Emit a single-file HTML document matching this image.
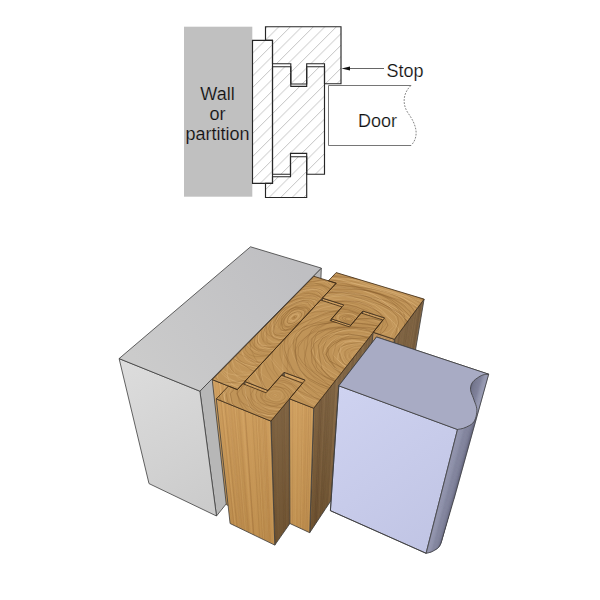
<!DOCTYPE html>
<html><head><meta charset="utf-8"><style>
html,body{margin:0;padding:0;background:#fff;width:600px;height:600px;overflow:hidden}
svg{display:block}
</style></head><body>
<svg width="600" height="600" viewBox="0 0 600 600">
<defs>
<linearGradient id="doorfront" gradientUnits="userSpaceOnUse" x1="340" y1="390" x2="450" y2="545"><stop offset="0" stop-color="#ced2f0"/><stop offset="1" stop-color="#c0c4e4"/></linearGradient>
<linearGradient id="walltop" gradientUnits="userSpaceOnUse" x1="300" y1="270" x2="150" y2="380"><stop offset="0" stop-color="#bfbfc2"/><stop offset="1" stop-color="#cbcbcb"/></linearGradient>
<linearGradient id="wallfront" gradientUnits="userSpaceOnUse" x1="125" y1="365" x2="210" y2="510"><stop offset="0" stop-color="#dcdcdc"/><stop offset="1" stop-color="#cbcbcb"/></linearGradient>
<linearGradient id="vshade" gradientUnits="userSpaceOnUse" x1="0" y1="380" x2="0" y2="550"><stop offset="0" stop-color="#fff" stop-opacity="0.08"/><stop offset="1" stop-color="#000" stop-opacity="0.08"/></linearGradient>
<clipPath id="cl_plank"><polygon points="313.9,276.3 336.2,283.2 237.3,389.6 212.2,379.6"/></clipPath><clipPath id="cl_stop"><polygon points="336.2,272.6 424.1,299.1 394.4,339.3 373.2,332.3 384.6,317.9 362.8,311.0 350.9,325.2 331.5,318.9 343.8,304.9 322.4,298.1 336.2,283.2 328.4,280.8"/></clipPath><clipPath id="cl_mb"><polygon points="320.6,300.0 342.0,306.9 330.1,320.5 349.5,326.9 361.1,313.0 382.9,320.0 313.7,408.2 289.5,398.8 305.1,380.1 284.0,372.3 268.0,390.5 244.8,381.5"/></clipPath><clipPath id="cl_bot"><polygon points="228.4,386.1 237.3,389.6 242.8,383.7 266.0,392.8 281.5,375.2 302.6,383.1 270.9,421.1 216.3,398.9"/></clipPath>
<pattern id="hatch" patternUnits="userSpaceOnUse" width="11.5" height="600" patternTransform="translate(316.5,0) skewX(-45)">
<line x1="0.6" y1="0" x2="0.6" y2="600" stroke="#cdcdcd" stroke-width="1.2"/>
</pattern>
</defs>
<rect width="600" height="600" fill="#fff"/>
<rect x="184" y="26.7" width="68.3" height="170" fill="#c0c0c0"/><polygon points="265.5,26.7 341.0,26.7 341.0,83.7 324.5,83.7 324.5,63.7 306.7,63.7 306.7,84.0 290.8,84.0 290.8,63.7 272.5,63.7 272.5,40.3 265.5,40.3" fill="url(#hatch)" stroke="#262626" stroke-width="1.15" stroke-linejoin="miter"/><polygon points="272.5,66.7 290.8,66.7 290.8,86.3 306.7,86.3 306.7,66.7 324.5,66.7 324.5,174.2 306.7,174.2 306.7,153.3 290.5,153.3 290.5,174.2 272.5,174.2" fill="url(#hatch)" stroke="#262626" stroke-width="1.15" stroke-linejoin="miter"/><polygon points="265.5,183.3 272.5,183.3 272.5,176.7 290.5,176.7 290.5,156.7 306.7,156.7 306.7,197.5 265.5,197.5" fill="url(#hatch)" stroke="#262626" stroke-width="1.15" stroke-linejoin="miter"/><polygon points="252.5,40.3 272.5,40.3 272.5,183.3 252.5,183.3" fill="url(#hatch)" stroke="#262626" stroke-width="1.15" stroke-linejoin="miter"/><polyline points="411,85.5 328.5,85.5 328.5,145.5 411,145.5" fill="none" stroke="#666" stroke-width="0.9"/><path d="M411,85.5 C403,93 402,104 408,113 C416,124 420,136 411,145.5" fill="none" stroke="#777" stroke-width="0.9" stroke-dasharray="1.8,1.3"/><line x1="348" y1="68.5" x2="384" y2="68.5" stroke="#555" stroke-width="0.9"/><polygon points="341.5,68.5 350,66.6 350,70.4" fill="#111"/><text x="386.5" y="77" style="font-family:&quot;Liberation Sans&quot;,sans-serif;font-size:18px;fill:#111;stroke:#fff;stroke-width:0.18">Stop</text><text x="358" y="127" style="font-family:&quot;Liberation Sans&quot;,sans-serif;font-size:18px;fill:#111;stroke:#fff;stroke-width:0.18">Door</text><text x="217.5" y="99.7" text-anchor="middle" style="font-family:&quot;Liberation Sans&quot;,sans-serif;font-size:18px;fill:#111;stroke:#c0c0c0;stroke-width:0.18">Wall</text><text x="217.5" y="119.7" text-anchor="middle" style="font-family:&quot;Liberation Sans&quot;,sans-serif;font-size:18px;fill:#111;stroke:#c0c0c0;stroke-width:0.18">or</text><text x="217.5" y="139.5" text-anchor="middle" style="font-family:&quot;Liberation Sans&quot;,sans-serif;font-size:18px;fill:#111;stroke:#c0c0c0;stroke-width:0.18">partition</text>
<polygon points="336.2,283.2 328.4,280.8 322.8,404.1 329.4,406.6" fill="#ce9a54"/><line x1="331.3" y1="281.7" x2="325.3" y2="405.0" stroke="#a06c34" stroke-opacity="0.10" stroke-width="0.47"/><line x1="333.1" y1="282.2" x2="326.8" y2="405.6" stroke="#a06c34" stroke-opacity="0.12" stroke-width="0.81"/><line x1="335.6" y1="283.0" x2="328.8" y2="406.4" stroke="#a06c34" stroke-opacity="0.09" stroke-width="0.83"/><line x1="332.2" y1="282.0" x2="326.0" y2="405.3" stroke="#e8bc7c" stroke-opacity="0.26" stroke-width="0.85"/><line x1="334.2" y1="282.6" x2="327.7" y2="405.9" stroke="#e8bc7c" stroke-opacity="0.20" stroke-width="0.66"/><line x1="329.0" y1="281.0" x2="323.2" y2="404.3" stroke="#a06c34" stroke-opacity="0.28" stroke-width="0.41"/><line x1="328.9" y1="281.0" x2="323.2" y2="404.2" stroke="#e8bc7c" stroke-opacity="0.18" stroke-width="0.39"/><line x1="329.9" y1="281.2" x2="324.0" y2="404.6" stroke="#e8bc7c" stroke-opacity="0.12" stroke-width="0.90"/><line x1="328.7" y1="280.9" x2="323.0" y2="404.2" stroke="#a06c34" stroke-opacity="0.22" stroke-width="0.37"/><line x1="331.6" y1="281.8" x2="325.5" y2="405.1" stroke="#a06c34" stroke-opacity="0.23" stroke-width="0.87"/><line x1="329.9" y1="281.2" x2="324.0" y2="404.6" stroke="#e8bc7c" stroke-opacity="0.18" stroke-width="1.02"/><polygon points="336.2,283.2 328.4,280.8 322.8,404.1 329.4,406.6" fill="url(#vshade)" stroke="#3c3c3c" stroke-width="0.8" stroke-linejoin="round"/><polygon points="384.6,317.9 362.8,311.0 351.3,435.4 369.5,442.6" fill="#ce9a54"/><line x1="369.4" y1="313.1" x2="356.9" y2="437.6" stroke="#a06c34" stroke-opacity="0.30" stroke-width="1.06"/><line x1="367.5" y1="312.5" x2="355.2" y2="436.9" stroke="#a06c34" stroke-opacity="0.08" stroke-width="0.37"/><line x1="375.4" y1="315.0" x2="361.9" y2="439.6" stroke="#e8bc7c" stroke-opacity="0.17" stroke-width="0.34"/><line x1="380.2" y1="316.5" x2="365.8" y2="441.1" stroke="#a06c34" stroke-opacity="0.23" stroke-width="1.08"/><line x1="368.7" y1="312.8" x2="356.3" y2="437.3" stroke="#e8bc7c" stroke-opacity="0.28" stroke-width="0.89"/><line x1="380.7" y1="316.7" x2="366.2" y2="441.3" stroke="#a06c34" stroke-opacity="0.28" stroke-width="0.38"/><line x1="384.5" y1="317.9" x2="369.4" y2="442.5" stroke="#e8bc7c" stroke-opacity="0.28" stroke-width="0.71"/><line x1="376.0" y1="315.2" x2="362.3" y2="439.7" stroke="#a06c34" stroke-opacity="0.26" stroke-width="0.86"/><line x1="373.0" y1="314.2" x2="359.8" y2="438.8" stroke="#a06c34" stroke-opacity="0.16" stroke-width="0.61"/><line x1="370.1" y1="313.3" x2="357.4" y2="437.8" stroke="#a06c34" stroke-opacity="0.14" stroke-width="0.90"/><line x1="383.7" y1="317.6" x2="368.8" y2="442.3" stroke="#e8bc7c" stroke-opacity="0.11" stroke-width="0.62"/><line x1="381.0" y1="316.8" x2="366.5" y2="441.4" stroke="#a06c34" stroke-opacity="0.13" stroke-width="0.43"/><line x1="369.8" y1="313.2" x2="357.2" y2="437.7" stroke="#a06c34" stroke-opacity="0.18" stroke-width="0.94"/><line x1="368.0" y1="312.6" x2="355.7" y2="437.1" stroke="#e8bc7c" stroke-opacity="0.24" stroke-width="0.98"/><line x1="382.7" y1="317.3" x2="367.9" y2="441.9" stroke="#e8bc7c" stroke-opacity="0.14" stroke-width="0.87"/><line x1="383.6" y1="317.6" x2="368.7" y2="442.2" stroke="#a06c34" stroke-opacity="0.16" stroke-width="0.35"/><line x1="376.6" y1="315.4" x2="362.8" y2="439.9" stroke="#a06c34" stroke-opacity="0.08" stroke-width="0.84"/><line x1="368.2" y1="312.7" x2="355.8" y2="437.2" stroke="#e8bc7c" stroke-opacity="0.18" stroke-width="0.60"/><line x1="370.2" y1="313.3" x2="357.5" y2="437.8" stroke="#a06c34" stroke-opacity="0.13" stroke-width="0.37"/><line x1="374.4" y1="314.7" x2="361.0" y2="439.2" stroke="#a06c34" stroke-opacity="0.11" stroke-width="0.37"/><line x1="381.6" y1="317.0" x2="367.0" y2="441.6" stroke="#a06c34" stroke-opacity="0.24" stroke-width="0.86"/><line x1="378.3" y1="315.9" x2="364.3" y2="440.5" stroke="#e8bc7c" stroke-opacity="0.15" stroke-width="0.33"/><line x1="374.4" y1="314.7" x2="361.0" y2="439.2" stroke="#e8bc7c" stroke-opacity="0.16" stroke-width="0.83"/><line x1="364.3" y1="311.4" x2="352.6" y2="435.9" stroke="#a06c34" stroke-opacity="0.15" stroke-width="0.34"/><line x1="367.0" y1="312.3" x2="354.9" y2="436.8" stroke="#a06c34" stroke-opacity="0.21" stroke-width="0.65"/><line x1="378.4" y1="315.9" x2="364.3" y2="440.5" stroke="#e8bc7c" stroke-opacity="0.17" stroke-width="0.66"/><line x1="381.7" y1="317.0" x2="367.1" y2="441.6" stroke="#a06c34" stroke-opacity="0.28" stroke-width="0.51"/><line x1="363.4" y1="311.1" x2="351.8" y2="435.6" stroke="#e8bc7c" stroke-opacity="0.28" stroke-width="1.02"/><polygon points="384.6,317.9 362.8,311.0 351.3,435.4 369.5,442.6" fill="url(#vshade)" stroke="#3c3c3c" stroke-width="0.8" stroke-linejoin="round"/><polygon points="424.1,299.1 394.4,339.3 377.1,464.3 403.1,423.2" fill="#785a36"/><line x1="411.1" y1="316.7" x2="391.7" y2="441.3" stroke="#5a4024" stroke-opacity="0.20" stroke-width="0.91"/><line x1="400.0" y1="331.7" x2="382.0" y2="456.6" stroke="#5a4024" stroke-opacity="0.25" stroke-width="1.07"/><line x1="405.2" y1="324.7" x2="386.5" y2="449.5" stroke="#5a4024" stroke-opacity="0.26" stroke-width="0.70"/><line x1="421.6" y1="302.5" x2="400.9" y2="426.7" stroke="#5a4024" stroke-opacity="0.19" stroke-width="0.74"/><line x1="422.1" y1="301.8" x2="401.4" y2="426.0" stroke="#5a4024" stroke-opacity="0.12" stroke-width="0.31"/><line x1="409.7" y1="318.6" x2="390.5" y2="443.2" stroke="#907048" stroke-opacity="0.17" stroke-width="0.39"/><line x1="414.0" y1="312.7" x2="394.3" y2="437.2" stroke="#5a4024" stroke-opacity="0.12" stroke-width="0.75"/><line x1="416.0" y1="310.1" x2="396.0" y2="434.5" stroke="#5a4024" stroke-opacity="0.15" stroke-width="0.57"/><line x1="406.0" y1="323.5" x2="387.3" y2="448.3" stroke="#907048" stroke-opacity="0.20" stroke-width="0.57"/><line x1="398.8" y1="333.3" x2="380.9" y2="458.3" stroke="#5a4024" stroke-opacity="0.11" stroke-width="0.41"/><line x1="406.2" y1="323.3" x2="387.4" y2="448.0" stroke="#907048" stroke-opacity="0.18" stroke-width="0.34"/><line x1="423.9" y1="299.3" x2="403.0" y2="423.4" stroke="#907048" stroke-opacity="0.28" stroke-width="0.46"/><line x1="416.6" y1="309.3" x2="396.5" y2="433.7" stroke="#5a4024" stroke-opacity="0.12" stroke-width="0.84"/><line x1="404.1" y1="326.1" x2="385.6" y2="451.0" stroke="#5a4024" stroke-opacity="0.29" stroke-width="0.52"/><line x1="419.5" y1="305.3" x2="399.0" y2="429.6" stroke="#5a4024" stroke-opacity="0.13" stroke-width="0.56"/><line x1="409.6" y1="318.6" x2="390.4" y2="443.3" stroke="#5a4024" stroke-opacity="0.30" stroke-width="0.58"/><line x1="419.2" y1="305.6" x2="398.8" y2="430.0" stroke="#5a4024" stroke-opacity="0.25" stroke-width="0.42"/><line x1="410.7" y1="317.2" x2="391.3" y2="441.8" stroke="#5a4024" stroke-opacity="0.15" stroke-width="0.86"/><line x1="410.6" y1="317.3" x2="391.3" y2="442.0" stroke="#907048" stroke-opacity="0.24" stroke-width="0.53"/><line x1="419.9" y1="304.7" x2="399.4" y2="429.0" stroke="#5a4024" stroke-opacity="0.14" stroke-width="0.40"/><line x1="397.2" y1="335.5" x2="379.6" y2="460.4" stroke="#907048" stroke-opacity="0.22" stroke-width="0.37"/><line x1="402.3" y1="328.5" x2="384.0" y2="453.4" stroke="#907048" stroke-opacity="0.29" stroke-width="0.51"/><line x1="403.0" y1="327.6" x2="384.6" y2="452.4" stroke="#5a4024" stroke-opacity="0.23" stroke-width="1.10"/><line x1="411.0" y1="316.7" x2="391.6" y2="441.4" stroke="#907048" stroke-opacity="0.14" stroke-width="0.61"/><line x1="411.1" y1="316.7" x2="391.7" y2="441.3" stroke="#5a4024" stroke-opacity="0.30" stroke-width="0.65"/><line x1="394.8" y1="338.7" x2="377.5" y2="463.7" stroke="#5a4024" stroke-opacity="0.24" stroke-width="0.31"/><line x1="399.5" y1="332.3" x2="381.6" y2="457.3" stroke="#5a4024" stroke-opacity="0.17" stroke-width="1.10"/><line x1="398.5" y1="333.7" x2="380.7" y2="458.6" stroke="#907048" stroke-opacity="0.26" stroke-width="0.44"/><line x1="420.2" y1="304.4" x2="399.7" y2="428.6" stroke="#907048" stroke-opacity="0.10" stroke-width="0.65"/><line x1="394.5" y1="339.0" x2="377.3" y2="464.1" stroke="#907048" stroke-opacity="0.11" stroke-width="0.56"/><line x1="400.4" y1="331.2" x2="382.3" y2="456.1" stroke="#5a4024" stroke-opacity="0.22" stroke-width="0.90"/><line x1="404.2" y1="326.0" x2="385.7" y2="450.8" stroke="#5a4024" stroke-opacity="0.11" stroke-width="0.98"/><line x1="421.1" y1="303.1" x2="400.5" y2="427.3" stroke="#907048" stroke-opacity="0.25" stroke-width="0.32"/><line x1="414.9" y1="311.5" x2="395.0" y2="436.0" stroke="#5a4024" stroke-opacity="0.13" stroke-width="0.58"/><line x1="409.2" y1="319.2" x2="390.1" y2="443.8" stroke="#5a4024" stroke-opacity="0.30" stroke-width="0.52"/><line x1="416.2" y1="309.8" x2="396.2" y2="434.2" stroke="#5a4024" stroke-opacity="0.22" stroke-width="1.08"/><line x1="396.9" y1="335.9" x2="379.3" y2="460.9" stroke="#907048" stroke-opacity="0.29" stroke-width="1.05"/><line x1="413.8" y1="313.0" x2="394.1" y2="437.5" stroke="#5a4024" stroke-opacity="0.13" stroke-width="0.45"/><line x1="421.8" y1="302.2" x2="401.1" y2="426.4" stroke="#5a4024" stroke-opacity="0.11" stroke-width="0.93"/><line x1="406.8" y1="322.4" x2="388.0" y2="447.2" stroke="#5a4024" stroke-opacity="0.28" stroke-width="1.02"/><line x1="402.5" y1="328.3" x2="384.1" y2="453.2" stroke="#907048" stroke-opacity="0.29" stroke-width="0.47"/><line x1="414.6" y1="311.9" x2="394.8" y2="436.4" stroke="#5a4024" stroke-opacity="0.11" stroke-width="0.78"/><line x1="404.0" y1="326.2" x2="385.5" y2="451.1" stroke="#907048" stroke-opacity="0.20" stroke-width="0.81"/><line x1="413.8" y1="313.0" x2="394.1" y2="437.5" stroke="#5a4024" stroke-opacity="0.16" stroke-width="0.91"/><line x1="420.3" y1="304.2" x2="399.8" y2="428.5" stroke="#907048" stroke-opacity="0.11" stroke-width="1.04"/><line x1="408.6" y1="320.0" x2="389.5" y2="444.7" stroke="#5a4024" stroke-opacity="0.22" stroke-width="1.07"/><line x1="405.6" y1="324.0" x2="386.9" y2="448.8" stroke="#5a4024" stroke-opacity="0.16" stroke-width="0.61"/><line x1="409.8" y1="318.4" x2="390.5" y2="443.1" stroke="#5a4024" stroke-opacity="0.10" stroke-width="0.32"/><line x1="419.7" y1="305.0" x2="399.3" y2="429.3" stroke="#5a4024" stroke-opacity="0.13" stroke-width="0.91"/><line x1="398.7" y1="333.5" x2="380.8" y2="458.4" stroke="#5a4024" stroke-opacity="0.10" stroke-width="0.97"/><line x1="411.1" y1="316.6" x2="391.7" y2="441.2" stroke="#907048" stroke-opacity="0.27" stroke-width="0.81"/><line x1="419.4" y1="305.5" x2="399.0" y2="429.8" stroke="#5a4024" stroke-opacity="0.24" stroke-width="0.85"/><line x1="394.4" y1="339.3" x2="377.1" y2="464.3" stroke="#907048" stroke-opacity="0.26" stroke-width="0.88"/><line x1="410.6" y1="317.4" x2="391.2" y2="442.0" stroke="#5a4024" stroke-opacity="0.13" stroke-width="0.57"/><line x1="420.5" y1="303.9" x2="400.0" y2="428.2" stroke="#5a4024" stroke-opacity="0.20" stroke-width="1.05"/><line x1="412.6" y1="314.6" x2="393.0" y2="439.2" stroke="#5a4024" stroke-opacity="0.26" stroke-width="0.72"/><line x1="407.1" y1="322.1" x2="388.2" y2="446.8" stroke="#5a4024" stroke-opacity="0.10" stroke-width="0.77"/><line x1="399.0" y1="333.0" x2="381.1" y2="458.0" stroke="#5a4024" stroke-opacity="0.09" stroke-width="0.43"/><line x1="407.7" y1="321.2" x2="388.7" y2="446.0" stroke="#5a4024" stroke-opacity="0.24" stroke-width="0.72"/><line x1="419.6" y1="305.1" x2="399.2" y2="429.4" stroke="#907048" stroke-opacity="0.27" stroke-width="0.60"/><line x1="420.0" y1="304.6" x2="399.5" y2="428.9" stroke="#5a4024" stroke-opacity="0.10" stroke-width="0.52"/><line x1="410.1" y1="318.0" x2="390.8" y2="442.7" stroke="#5a4024" stroke-opacity="0.24" stroke-width="0.74"/><line x1="403.1" y1="327.5" x2="384.7" y2="452.3" stroke="#907048" stroke-opacity="0.11" stroke-width="0.89"/><line x1="412.8" y1="314.4" x2="393.1" y2="439.0" stroke="#5a4024" stroke-opacity="0.18" stroke-width="0.35"/><line x1="415.8" y1="310.3" x2="395.8" y2="434.7" stroke="#907048" stroke-opacity="0.25" stroke-width="0.53"/><line x1="422.5" y1="301.2" x2="401.8" y2="425.3" stroke="#907048" stroke-opacity="0.27" stroke-width="0.40"/><line x1="413.2" y1="313.8" x2="393.5" y2="438.4" stroke="#5a4024" stroke-opacity="0.13" stroke-width="0.60"/><line x1="404.7" y1="325.3" x2="386.1" y2="450.2" stroke="#907048" stroke-opacity="0.29" stroke-width="0.82"/><line x1="420.8" y1="303.6" x2="400.2" y2="427.8" stroke="#5a4024" stroke-opacity="0.29" stroke-width="0.80"/><line x1="413.1" y1="314.0" x2="393.4" y2="438.5" stroke="#907048" stroke-opacity="0.27" stroke-width="0.65"/><line x1="409.7" y1="318.6" x2="390.5" y2="443.2" stroke="#5a4024" stroke-opacity="0.22" stroke-width="0.65"/><line x1="395.8" y1="337.4" x2="378.3" y2="462.4" stroke="#5a4024" stroke-opacity="0.21" stroke-width="0.51"/><line x1="403.1" y1="327.4" x2="384.7" y2="452.3" stroke="#907048" stroke-opacity="0.26" stroke-width="1.10"/><line x1="396.7" y1="336.1" x2="379.2" y2="461.1" stroke="#5a4024" stroke-opacity="0.16" stroke-width="0.63"/><line x1="406.8" y1="322.5" x2="387.9" y2="447.2" stroke="#5a4024" stroke-opacity="0.18" stroke-width="0.32"/><line x1="403.8" y1="326.5" x2="385.3" y2="451.3" stroke="#5a4024" stroke-opacity="0.18" stroke-width="0.46"/><line x1="416.2" y1="309.7" x2="396.2" y2="434.2" stroke="#5a4024" stroke-opacity="0.11" stroke-width="0.96"/><line x1="397.9" y1="334.5" x2="380.2" y2="459.5" stroke="#907048" stroke-opacity="0.27" stroke-width="0.33"/><line x1="411.8" y1="315.7" x2="392.3" y2="440.3" stroke="#5a4024" stroke-opacity="0.20" stroke-width="0.55"/><line x1="410.0" y1="318.1" x2="390.7" y2="442.8" stroke="#907048" stroke-opacity="0.29" stroke-width="1.00"/><line x1="420.7" y1="303.7" x2="400.1" y2="428.0" stroke="#5a4024" stroke-opacity="0.24" stroke-width="0.88"/><line x1="395.9" y1="337.2" x2="378.5" y2="462.2" stroke="#5a4024" stroke-opacity="0.26" stroke-width="0.59"/><line x1="401.9" y1="329.0" x2="383.7" y2="453.9" stroke="#5a4024" stroke-opacity="0.14" stroke-width="0.32"/><line x1="411.6" y1="316.0" x2="392.1" y2="440.6" stroke="#907048" stroke-opacity="0.11" stroke-width="0.58"/><line x1="402.7" y1="328.1" x2="384.3" y2="452.9" stroke="#5a4024" stroke-opacity="0.28" stroke-width="0.89"/><line x1="415.0" y1="311.3" x2="395.1" y2="435.8" stroke="#907048" stroke-opacity="0.13" stroke-width="0.35"/><line x1="418.8" y1="306.2" x2="398.5" y2="430.5" stroke="#5a4024" stroke-opacity="0.19" stroke-width="0.62"/><line x1="414.7" y1="311.7" x2="394.9" y2="436.2" stroke="#907048" stroke-opacity="0.20" stroke-width="1.04"/><line x1="396.4" y1="336.6" x2="378.9" y2="461.6" stroke="#5a4024" stroke-opacity="0.18" stroke-width="0.55"/><line x1="421.1" y1="303.1" x2="400.5" y2="427.3" stroke="#5a4024" stroke-opacity="0.27" stroke-width="0.70"/><line x1="407.5" y1="321.6" x2="388.5" y2="446.3" stroke="#907048" stroke-opacity="0.20" stroke-width="0.74"/><polygon points="424.1,299.1 394.4,339.3 377.1,464.3 403.1,423.2" fill="url(#vshade)" stroke="#3c3c3c" stroke-width="0.8" stroke-linejoin="round"/><polygon points="362.8,311.0 350.9,325.2 341.1,450.0 351.3,435.4" fill="#785a36"/><line x1="361.7" y1="312.3" x2="350.4" y2="436.8" stroke="#5a4024" stroke-opacity="0.27" stroke-width="0.47"/><line x1="353.5" y1="322.1" x2="343.4" y2="446.9" stroke="#907048" stroke-opacity="0.28" stroke-width="1.01"/><line x1="354.3" y1="321.2" x2="344.0" y2="445.9" stroke="#907048" stroke-opacity="0.23" stroke-width="0.56"/><line x1="356.6" y1="318.4" x2="346.0" y2="443.1" stroke="#5a4024" stroke-opacity="0.26" stroke-width="0.39"/><line x1="356.5" y1="318.5" x2="346.0" y2="443.1" stroke="#5a4024" stroke-opacity="0.29" stroke-width="0.71"/><line x1="361.0" y1="313.1" x2="349.8" y2="437.6" stroke="#907048" stroke-opacity="0.24" stroke-width="0.95"/><line x1="361.9" y1="312.0" x2="350.6" y2="436.5" stroke="#5a4024" stroke-opacity="0.12" stroke-width="1.01"/><line x1="352.7" y1="323.1" x2="342.7" y2="447.8" stroke="#5a4024" stroke-opacity="0.22" stroke-width="0.81"/><line x1="351.7" y1="324.2" x2="341.9" y2="449.0" stroke="#5a4024" stroke-opacity="0.26" stroke-width="0.76"/><line x1="354.4" y1="321.0" x2="344.1" y2="445.7" stroke="#5a4024" stroke-opacity="0.14" stroke-width="0.73"/><line x1="353.3" y1="322.3" x2="343.2" y2="447.0" stroke="#5a4024" stroke-opacity="0.11" stroke-width="0.91"/><line x1="352.4" y1="323.4" x2="342.5" y2="448.1" stroke="#5a4024" stroke-opacity="0.30" stroke-width="0.57"/><line x1="361.0" y1="313.1" x2="349.8" y2="437.6" stroke="#5a4024" stroke-opacity="0.12" stroke-width="0.95"/><line x1="353.8" y1="321.8" x2="343.6" y2="446.5" stroke="#907048" stroke-opacity="0.08" stroke-width="0.86"/><line x1="354.6" y1="320.8" x2="344.3" y2="445.4" stroke="#907048" stroke-opacity="0.23" stroke-width="1.03"/><line x1="353.9" y1="321.6" x2="343.7" y2="446.3" stroke="#5a4024" stroke-opacity="0.12" stroke-width="0.33"/><line x1="354.4" y1="321.0" x2="344.1" y2="445.7" stroke="#907048" stroke-opacity="0.28" stroke-width="0.98"/><line x1="361.8" y1="312.2" x2="350.5" y2="436.7" stroke="#907048" stroke-opacity="0.22" stroke-width="0.74"/><line x1="356.8" y1="318.2" x2="346.2" y2="442.8" stroke="#907048" stroke-opacity="0.21" stroke-width="0.89"/><line x1="357.3" y1="317.5" x2="346.7" y2="442.1" stroke="#5a4024" stroke-opacity="0.17" stroke-width="1.04"/><line x1="355.9" y1="319.2" x2="345.5" y2="443.8" stroke="#5a4024" stroke-opacity="0.09" stroke-width="0.63"/><line x1="360.0" y1="314.3" x2="348.9" y2="438.9" stroke="#907048" stroke-opacity="0.25" stroke-width="0.60"/><line x1="356.7" y1="318.3" x2="346.1" y2="442.9" stroke="#5a4024" stroke-opacity="0.18" stroke-width="0.99"/><line x1="357.2" y1="317.7" x2="346.5" y2="442.3" stroke="#907048" stroke-opacity="0.23" stroke-width="1.09"/><line x1="360.9" y1="313.2" x2="349.7" y2="437.7" stroke="#5a4024" stroke-opacity="0.22" stroke-width="0.80"/><line x1="355.5" y1="319.6" x2="345.1" y2="444.3" stroke="#907048" stroke-opacity="0.09" stroke-width="0.39"/><line x1="362.2" y1="311.6" x2="350.9" y2="436.1" stroke="#907048" stroke-opacity="0.12" stroke-width="0.70"/><line x1="351.7" y1="324.3" x2="341.8" y2="449.1" stroke="#5a4024" stroke-opacity="0.23" stroke-width="0.93"/><line x1="358.0" y1="316.7" x2="347.2" y2="441.3" stroke="#907048" stroke-opacity="0.25" stroke-width="0.94"/><line x1="357.2" y1="317.6" x2="346.6" y2="442.3" stroke="#907048" stroke-opacity="0.25" stroke-width="0.49"/><line x1="353.1" y1="322.6" x2="343.0" y2="447.3" stroke="#5a4024" stroke-opacity="0.23" stroke-width="0.34"/><line x1="356.4" y1="318.6" x2="345.9" y2="443.2" stroke="#907048" stroke-opacity="0.26" stroke-width="0.52"/><polygon points="362.8,311.0 350.9,325.2 341.1,450.0 351.3,435.4" fill="url(#vshade)" stroke="#3c3c3c" stroke-width="0.8" stroke-linejoin="round"/><polygon points="321.3,268.1 199.9,391.2 216.5,516.0 316.9,390.8" fill="#b7b7b7" stroke="#3c3c3c" stroke-width="0.8" stroke-linejoin="round"/><polygon points="336.2,283.2 237.3,389.6 247.2,514.4 329.4,406.6" fill="#785a36"/><line x1="279.2" y1="344.6" x2="281.3" y2="469.6" stroke="#5a4024" stroke-opacity="0.10" stroke-width="0.47"/><line x1="301.6" y1="320.5" x2="300.0" y2="445.1" stroke="#5a4024" stroke-opacity="0.12" stroke-width="0.81"/><line x1="329.0" y1="291.0" x2="323.2" y2="414.7" stroke="#5a4024" stroke-opacity="0.09" stroke-width="0.83"/><line x1="290.0" y1="332.9" x2="290.3" y2="457.8" stroke="#907048" stroke-opacity="0.26" stroke-width="0.85"/><line x1="313.9" y1="307.3" x2="310.3" y2="431.6" stroke="#907048" stroke-opacity="0.20" stroke-width="0.66"/><line x1="246.0" y1="380.3" x2="254.2" y2="505.2" stroke="#5a4024" stroke-opacity="0.28" stroke-width="0.41"/><line x1="245.9" y1="380.4" x2="254.1" y2="505.4" stroke="#907048" stroke-opacity="0.18" stroke-width="0.39"/><line x1="259.7" y1="365.6" x2="265.3" y2="490.7" stroke="#907048" stroke-opacity="0.12" stroke-width="0.90"/><line x1="242.0" y1="384.5" x2="251.0" y2="509.4" stroke="#5a4024" stroke-opacity="0.22" stroke-width="0.37"/><line x1="282.1" y1="341.4" x2="283.8" y2="466.4" stroke="#5a4024" stroke-opacity="0.23" stroke-width="0.87"/><line x1="259.6" y1="365.6" x2="265.3" y2="490.7" stroke="#907048" stroke-opacity="0.18" stroke-width="1.02"/><line x1="301.1" y1="321.0" x2="299.6" y2="445.7" stroke="#5a4024" stroke-opacity="0.30" stroke-width="0.57"/><line x1="238.6" y1="388.3" x2="248.2" y2="513.1" stroke="#907048" stroke-opacity="0.26" stroke-width="0.80"/><line x1="304.0" y1="317.9" x2="302.0" y2="442.5" stroke="#907048" stroke-opacity="0.20" stroke-width="0.70"/><line x1="252.2" y1="373.5" x2="259.2" y2="498.6" stroke="#907048" stroke-opacity="0.10" stroke-width="0.88"/><line x1="266.3" y1="358.4" x2="270.8" y2="483.5" stroke="#907048" stroke-opacity="0.21" stroke-width="0.33"/><line x1="310.4" y1="311.0" x2="307.4" y2="435.4" stroke="#907048" stroke-opacity="0.14" stroke-width="0.48"/><line x1="309.5" y1="312.0" x2="306.6" y2="436.5" stroke="#5a4024" stroke-opacity="0.14" stroke-width="0.43"/><line x1="245.9" y1="380.3" x2="254.1" y2="505.3" stroke="#907048" stroke-opacity="0.11" stroke-width="1.09"/><line x1="265.0" y1="359.9" x2="269.6" y2="485.0" stroke="#907048" stroke-opacity="0.14" stroke-width="0.87"/><line x1="329.9" y1="290.0" x2="324.0" y2="413.7" stroke="#5a4024" stroke-opacity="0.27" stroke-width="0.89"/><line x1="296.6" y1="325.9" x2="295.8" y2="450.6" stroke="#5a4024" stroke-opacity="0.25" stroke-width="0.69"/><line x1="308.6" y1="313.0" x2="305.9" y2="437.4" stroke="#5a4024" stroke-opacity="0.29" stroke-width="1.01"/><line x1="254.7" y1="370.9" x2="261.2" y2="496.0" stroke="#5a4024" stroke-opacity="0.10" stroke-width="0.99"/><line x1="273.0" y1="351.2" x2="276.2" y2="476.3" stroke="#5a4024" stroke-opacity="0.11" stroke-width="0.62"/><line x1="256.2" y1="369.3" x2="262.4" y2="494.4" stroke="#5a4024" stroke-opacity="0.15" stroke-width="0.34"/><line x1="322.2" y1="298.3" x2="317.4" y2="422.4" stroke="#5a4024" stroke-opacity="0.10" stroke-width="0.75"/><line x1="330.8" y1="289.0" x2="324.7" y2="412.7" stroke="#5a4024" stroke-opacity="0.23" stroke-width="0.47"/><line x1="269.7" y1="354.8" x2="273.5" y2="479.9" stroke="#5a4024" stroke-opacity="0.27" stroke-width="1.07"/><line x1="281.7" y1="341.9" x2="283.4" y2="466.9" stroke="#907048" stroke-opacity="0.14" stroke-width="0.53"/><line x1="313.2" y1="308.0" x2="309.8" y2="432.3" stroke="#5a4024" stroke-opacity="0.14" stroke-width="0.38"/><line x1="298.0" y1="324.3" x2="297.0" y2="449.1" stroke="#907048" stroke-opacity="0.19" stroke-width="0.62"/><line x1="250.7" y1="375.2" x2="258.0" y2="500.3" stroke="#907048" stroke-opacity="0.16" stroke-width="1.05"/><line x1="314.4" y1="306.7" x2="310.8" y2="431.0" stroke="#5a4024" stroke-opacity="0.25" stroke-width="0.31"/><line x1="284.5" y1="338.8" x2="285.8" y2="463.8" stroke="#5a4024" stroke-opacity="0.24" stroke-width="1.06"/><line x1="283.5" y1="340.0" x2="284.9" y2="465.0" stroke="#907048" stroke-opacity="0.15" stroke-width="1.08"/><line x1="273.6" y1="350.6" x2="276.7" y2="475.7" stroke="#907048" stroke-opacity="0.18" stroke-width="0.82"/><line x1="296.9" y1="325.5" x2="296.1" y2="450.2" stroke="#907048" stroke-opacity="0.13" stroke-width="0.61"/><line x1="273.8" y1="350.4" x2="276.9" y2="475.4" stroke="#907048" stroke-opacity="0.22" stroke-width="1.05"/><line x1="320.0" y1="300.6" x2="315.6" y2="424.7" stroke="#5a4024" stroke-opacity="0.24" stroke-width="1.01"/><line x1="290.7" y1="332.2" x2="290.9" y2="457.1" stroke="#907048" stroke-opacity="0.13" stroke-width="0.87"/><line x1="310.1" y1="311.3" x2="307.2" y2="435.7" stroke="#5a4024" stroke-opacity="0.19" stroke-width="0.87"/><line x1="247.9" y1="378.2" x2="255.7" y2="503.2" stroke="#907048" stroke-opacity="0.09" stroke-width="1.01"/><line x1="278.6" y1="345.2" x2="280.8" y2="470.3" stroke="#5a4024" stroke-opacity="0.09" stroke-width="0.90"/><line x1="266.5" y1="358.2" x2="270.9" y2="483.3" stroke="#5a4024" stroke-opacity="0.09" stroke-width="0.82"/><line x1="248.1" y1="378.0" x2="255.8" y2="503.0" stroke="#5a4024" stroke-opacity="0.25" stroke-width="0.96"/><line x1="306.9" y1="314.7" x2="304.5" y2="439.3" stroke="#5a4024" stroke-opacity="0.22" stroke-width="0.67"/><line x1="320.8" y1="299.8" x2="316.2" y2="423.9" stroke="#5a4024" stroke-opacity="0.19" stroke-width="0.83"/><line x1="305.3" y1="316.4" x2="303.2" y2="441.0" stroke="#5a4024" stroke-opacity="0.13" stroke-width="0.81"/><line x1="244.1" y1="382.4" x2="252.6" y2="507.3" stroke="#5a4024" stroke-opacity="0.22" stroke-width="0.85"/><line x1="297.6" y1="324.7" x2="296.7" y2="449.5" stroke="#907048" stroke-opacity="0.30" stroke-width="0.82"/><line x1="258.4" y1="366.9" x2="264.3" y2="492.0" stroke="#5a4024" stroke-opacity="0.24" stroke-width="1.01"/><line x1="246.0" y1="380.2" x2="254.2" y2="505.2" stroke="#5a4024" stroke-opacity="0.22" stroke-width="0.35"/><line x1="295.1" y1="327.5" x2="294.6" y2="452.3" stroke="#907048" stroke-opacity="0.13" stroke-width="0.68"/><line x1="302.1" y1="319.9" x2="300.5" y2="444.6" stroke="#5a4024" stroke-opacity="0.21" stroke-width="0.62"/><line x1="272.2" y1="352.1" x2="275.6" y2="477.2" stroke="#907048" stroke-opacity="0.25" stroke-width="0.77"/><line x1="311.9" y1="309.4" x2="308.7" y2="433.8" stroke="#5a4024" stroke-opacity="0.17" stroke-width="0.44"/><line x1="325.3" y1="295.0" x2="320.0" y2="418.9" stroke="#907048" stroke-opacity="0.18" stroke-width="0.33"/><line x1="280.7" y1="342.9" x2="282.6" y2="468.0" stroke="#5a4024" stroke-opacity="0.18" stroke-width="0.48"/><line x1="289.3" y1="333.6" x2="289.8" y2="458.6" stroke="#5a4024" stroke-opacity="0.19" stroke-width="0.32"/><line x1="260.2" y1="365.0" x2="265.7" y2="490.1" stroke="#907048" stroke-opacity="0.28" stroke-width="0.71"/><line x1="244.7" y1="381.6" x2="253.1" y2="506.6" stroke="#5a4024" stroke-opacity="0.26" stroke-width="0.43"/><line x1="325.4" y1="294.9" x2="320.1" y2="418.8" stroke="#5a4024" stroke-opacity="0.22" stroke-width="0.46"/><line x1="322.6" y1="297.9" x2="317.8" y2="421.9" stroke="#5a4024" stroke-opacity="0.14" stroke-width="1.07"/><line x1="328.0" y1="292.0" x2="322.4" y2="415.8" stroke="#907048" stroke-opacity="0.27" stroke-width="0.55"/><line x1="328.7" y1="291.3" x2="323.0" y2="415.0" stroke="#5a4024" stroke-opacity="0.14" stroke-width="0.85"/><line x1="266.0" y1="358.7" x2="270.5" y2="483.8" stroke="#907048" stroke-opacity="0.26" stroke-width="0.89"/><line x1="281.5" y1="342.1" x2="283.3" y2="467.1" stroke="#5a4024" stroke-opacity="0.17" stroke-width="0.43"/><line x1="325.9" y1="294.3" x2="320.5" y2="418.2" stroke="#5a4024" stroke-opacity="0.13" stroke-width="0.31"/><line x1="293.9" y1="328.8" x2="293.6" y2="453.6" stroke="#907048" stroke-opacity="0.22" stroke-width="1.07"/><line x1="255.8" y1="369.8" x2="262.1" y2="494.8" stroke="#5a4024" stroke-opacity="0.11" stroke-width="0.58"/><line x1="271.3" y1="353.1" x2="274.8" y2="478.2" stroke="#907048" stroke-opacity="0.10" stroke-width="1.08"/><line x1="274.6" y1="349.5" x2="277.5" y2="474.6" stroke="#5a4024" stroke-opacity="0.28" stroke-width="0.63"/><line x1="317.8" y1="303.0" x2="313.7" y2="427.2" stroke="#5a4024" stroke-opacity="0.23" stroke-width="0.93"/><line x1="243.0" y1="383.5" x2="251.7" y2="508.4" stroke="#5a4024" stroke-opacity="0.19" stroke-width="0.95"/><line x1="331.2" y1="288.7" x2="325.0" y2="412.3" stroke="#5a4024" stroke-opacity="0.23" stroke-width="0.58"/><line x1="327.3" y1="292.8" x2="321.7" y2="416.7" stroke="#5a4024" stroke-opacity="0.29" stroke-width="0.45"/><line x1="276.6" y1="347.4" x2="279.2" y2="472.5" stroke="#907048" stroke-opacity="0.09" stroke-width="0.88"/><line x1="306.6" y1="315.1" x2="304.2" y2="439.6" stroke="#907048" stroke-opacity="0.17" stroke-width="0.98"/><line x1="278.9" y1="344.8" x2="281.1" y2="469.9" stroke="#5a4024" stroke-opacity="0.18" stroke-width="0.99"/><line x1="292.9" y1="329.8" x2="292.8" y2="454.6" stroke="#5a4024" stroke-opacity="0.19" stroke-width="1.04"/><line x1="320.9" y1="299.7" x2="316.3" y2="423.7" stroke="#5a4024" stroke-opacity="0.10" stroke-width="0.40"/><line x1="274.8" y1="349.3" x2="277.7" y2="474.3" stroke="#5a4024" stroke-opacity="0.23" stroke-width="0.56"/><line x1="332.0" y1="287.8" x2="325.7" y2="411.4" stroke="#907048" stroke-opacity="0.20" stroke-width="0.44"/><line x1="244.9" y1="381.4" x2="253.3" y2="506.4" stroke="#5a4024" stroke-opacity="0.30" stroke-width="1.09"/><line x1="240.1" y1="386.7" x2="249.4" y2="511.5" stroke="#5a4024" stroke-opacity="0.23" stroke-width="0.83"/><line x1="308.4" y1="313.2" x2="305.7" y2="437.7" stroke="#5a4024" stroke-opacity="0.22" stroke-width="1.07"/><line x1="310.2" y1="311.2" x2="307.2" y2="435.7" stroke="#5a4024" stroke-opacity="0.14" stroke-width="1.06"/><line x1="318.7" y1="302.1" x2="314.4" y2="426.3" stroke="#907048" stroke-opacity="0.26" stroke-width="1.03"/><line x1="248.0" y1="378.2" x2="255.8" y2="503.2" stroke="#907048" stroke-opacity="0.17" stroke-width="0.65"/><line x1="295.5" y1="327.1" x2="294.9" y2="451.9" stroke="#907048" stroke-opacity="0.14" stroke-width="0.81"/><line x1="297.2" y1="325.1" x2="296.4" y2="449.9" stroke="#5a4024" stroke-opacity="0.21" stroke-width="1.03"/><line x1="265.4" y1="359.4" x2="270.0" y2="484.5" stroke="#5a4024" stroke-opacity="0.18" stroke-width="0.69"/><line x1="276.9" y1="347.1" x2="279.4" y2="472.1" stroke="#907048" stroke-opacity="0.30" stroke-width="1.03"/><line x1="279.1" y1="344.6" x2="281.3" y2="469.7" stroke="#907048" stroke-opacity="0.13" stroke-width="0.98"/><line x1="239.2" y1="387.6" x2="248.7" y2="512.5" stroke="#907048" stroke-opacity="0.22" stroke-width="0.56"/><line x1="334.5" y1="285.1" x2="327.9" y2="408.6" stroke="#5a4024" stroke-opacity="0.22" stroke-width="0.38"/><line x1="332.8" y1="286.9" x2="326.5" y2="410.5" stroke="#5a4024" stroke-opacity="0.16" stroke-width="0.79"/><line x1="284.2" y1="339.2" x2="285.5" y2="464.2" stroke="#5a4024" stroke-opacity="0.16" stroke-width="0.65"/><line x1="302.8" y1="319.2" x2="301.0" y2="443.8" stroke="#5a4024" stroke-opacity="0.19" stroke-width="0.63"/><line x1="304.3" y1="317.6" x2="302.3" y2="442.2" stroke="#5a4024" stroke-opacity="0.22" stroke-width="0.74"/><line x1="320.2" y1="300.5" x2="315.7" y2="424.6" stroke="#5a4024" stroke-opacity="0.24" stroke-width="0.92"/><line x1="277.7" y1="346.2" x2="280.1" y2="471.2" stroke="#907048" stroke-opacity="0.28" stroke-width="0.79"/><line x1="261.6" y1="363.5" x2="266.9" y2="488.6" stroke="#907048" stroke-opacity="0.13" stroke-width="0.31"/><line x1="271.1" y1="353.3" x2="274.6" y2="478.4" stroke="#907048" stroke-opacity="0.19" stroke-width="0.32"/><line x1="247.0" y1="379.2" x2="255.0" y2="504.2" stroke="#5a4024" stroke-opacity="0.14" stroke-width="0.56"/><line x1="314.7" y1="306.4" x2="311.1" y2="430.6" stroke="#5a4024" stroke-opacity="0.17" stroke-width="0.93"/><line x1="282.6" y1="340.9" x2="284.1" y2="465.9" stroke="#5a4024" stroke-opacity="0.23" stroke-width="0.34"/><line x1="313.6" y1="307.5" x2="310.1" y2="431.9" stroke="#907048" stroke-opacity="0.12" stroke-width="0.80"/><line x1="296.3" y1="326.1" x2="295.6" y2="450.9" stroke="#907048" stroke-opacity="0.21" stroke-width="0.80"/><line x1="322.4" y1="298.1" x2="317.6" y2="422.1" stroke="#5a4024" stroke-opacity="0.19" stroke-width="1.08"/><line x1="298.6" y1="323.7" x2="297.5" y2="448.4" stroke="#907048" stroke-opacity="0.09" stroke-width="0.68"/><line x1="292.8" y1="329.9" x2="292.6" y2="454.8" stroke="#5a4024" stroke-opacity="0.12" stroke-width="0.30"/><line x1="324.7" y1="295.6" x2="319.6" y2="419.5" stroke="#5a4024" stroke-opacity="0.17" stroke-width="0.59"/><line x1="260.0" y1="365.2" x2="265.5" y2="490.3" stroke="#907048" stroke-opacity="0.21" stroke-width="1.04"/><line x1="330.1" y1="289.8" x2="324.1" y2="413.5" stroke="#5a4024" stroke-opacity="0.27" stroke-width="0.95"/><line x1="316.0" y1="305.0" x2="312.1" y2="429.2" stroke="#907048" stroke-opacity="0.17" stroke-width="0.96"/><line x1="270.0" y1="354.4" x2="273.8" y2="479.5" stroke="#5a4024" stroke-opacity="0.26" stroke-width="0.53"/><line x1="308.0" y1="313.6" x2="305.4" y2="438.1" stroke="#5a4024" stroke-opacity="0.23" stroke-width="0.87"/><line x1="297.5" y1="324.9" x2="296.6" y2="449.7" stroke="#5a4024" stroke-opacity="0.16" stroke-width="0.47"/><line x1="282.7" y1="340.8" x2="284.2" y2="465.8" stroke="#5a4024" stroke-opacity="0.12" stroke-width="0.49"/><line x1="312.5" y1="308.7" x2="309.2" y2="433.1" stroke="#907048" stroke-opacity="0.28" stroke-width="0.91"/><line x1="239.5" y1="387.3" x2="248.9" y2="512.2" stroke="#5a4024" stroke-opacity="0.11" stroke-width="0.74"/><line x1="289.9" y1="333.1" x2="290.2" y2="458.0" stroke="#907048" stroke-opacity="0.27" stroke-width="0.88"/><line x1="332.8" y1="286.9" x2="326.4" y2="410.5" stroke="#907048" stroke-opacity="0.12" stroke-width="0.71"/><line x1="240.6" y1="386.0" x2="249.8" y2="510.9" stroke="#5a4024" stroke-opacity="0.30" stroke-width="0.35"/><line x1="291.8" y1="331.0" x2="291.8" y2="455.9" stroke="#5a4024" stroke-opacity="0.28" stroke-width="0.78"/><line x1="324.1" y1="296.2" x2="319.1" y2="420.2" stroke="#5a4024" stroke-opacity="0.13" stroke-width="0.87"/><line x1="296.0" y1="326.5" x2="295.3" y2="451.3" stroke="#907048" stroke-opacity="0.27" stroke-width="0.41"/><line x1="300.5" y1="321.7" x2="299.1" y2="446.4" stroke="#5a4024" stroke-opacity="0.20" stroke-width="0.69"/><line x1="246.0" y1="380.3" x2="254.1" y2="505.3" stroke="#907048" stroke-opacity="0.12" stroke-width="0.82"/><line x1="255.0" y1="370.6" x2="261.5" y2="495.7" stroke="#907048" stroke-opacity="0.20" stroke-width="1.06"/><line x1="331.0" y1="288.9" x2="324.9" y2="412.5" stroke="#5a4024" stroke-opacity="0.20" stroke-width="0.95"/><line x1="267.0" y1="357.7" x2="271.3" y2="482.8" stroke="#907048" stroke-opacity="0.16" stroke-width="0.91"/><line x1="269.7" y1="354.7" x2="273.5" y2="479.8" stroke="#907048" stroke-opacity="0.22" stroke-width="0.81"/><line x1="325.4" y1="294.8" x2="320.2" y2="418.7" stroke="#907048" stroke-opacity="0.19" stroke-width="0.31"/><line x1="282.9" y1="340.5" x2="284.5" y2="465.5" stroke="#5a4024" stroke-opacity="0.20" stroke-width="0.81"/><line x1="299.6" y1="322.6" x2="298.3" y2="447.4" stroke="#5a4024" stroke-opacity="0.21" stroke-width="0.80"/><line x1="280.2" y1="343.5" x2="282.2" y2="468.5" stroke="#907048" stroke-opacity="0.17" stroke-width="0.84"/><line x1="305.6" y1="316.2" x2="303.4" y2="440.7" stroke="#907048" stroke-opacity="0.14" stroke-width="0.81"/><line x1="330.1" y1="289.8" x2="324.1" y2="413.5" stroke="#5a4024" stroke-opacity="0.26" stroke-width="0.39"/><line x1="272.4" y1="351.8" x2="275.8" y2="476.9" stroke="#907048" stroke-opacity="0.08" stroke-width="0.95"/><line x1="331.7" y1="288.1" x2="325.5" y2="411.7" stroke="#907048" stroke-opacity="0.11" stroke-width="0.86"/><line x1="243.6" y1="382.9" x2="252.2" y2="507.8" stroke="#907048" stroke-opacity="0.26" stroke-width="0.97"/><line x1="327.2" y1="292.9" x2="321.7" y2="416.8" stroke="#5a4024" stroke-opacity="0.13" stroke-width="1.08"/><line x1="287.9" y1="335.2" x2="288.6" y2="460.1" stroke="#5a4024" stroke-opacity="0.09" stroke-width="0.75"/><line x1="293.0" y1="329.7" x2="292.8" y2="454.6" stroke="#5a4024" stroke-opacity="0.29" stroke-width="0.82"/><line x1="315.6" y1="305.4" x2="311.8" y2="429.7" stroke="#907048" stroke-opacity="0.27" stroke-width="0.60"/><line x1="311.6" y1="309.7" x2="308.4" y2="434.1" stroke="#907048" stroke-opacity="0.29" stroke-width="0.90"/><line x1="262.1" y1="363.0" x2="267.3" y2="488.1" stroke="#5a4024" stroke-opacity="0.25" stroke-width="0.96"/><line x1="238.6" y1="388.2" x2="248.2" y2="513.1" stroke="#5a4024" stroke-opacity="0.18" stroke-width="0.85"/><line x1="333.4" y1="286.3" x2="327.0" y2="409.8" stroke="#5a4024" stroke-opacity="0.11" stroke-width="0.45"/><line x1="308.6" y1="312.9" x2="305.9" y2="437.4" stroke="#5a4024" stroke-opacity="0.17" stroke-width="0.56"/><line x1="319.2" y1="301.5" x2="314.9" y2="425.7" stroke="#5a4024" stroke-opacity="0.15" stroke-width="0.85"/><line x1="276.0" y1="348.0" x2="278.7" y2="473.1" stroke="#5a4024" stroke-opacity="0.27" stroke-width="0.51"/><line x1="297.9" y1="324.4" x2="296.9" y2="449.2" stroke="#907048" stroke-opacity="0.29" stroke-width="0.96"/><line x1="329.4" y1="290.5" x2="323.6" y2="414.2" stroke="#5a4024" stroke-opacity="0.20" stroke-width="1.01"/><line x1="320.9" y1="299.7" x2="316.3" y2="423.8" stroke="#907048" stroke-opacity="0.16" stroke-width="0.58"/><line x1="257.0" y1="368.4" x2="263.1" y2="493.5" stroke="#5a4024" stroke-opacity="0.23" stroke-width="0.33"/><line x1="270.4" y1="354.0" x2="274.1" y2="479.1" stroke="#5a4024" stroke-opacity="0.22" stroke-width="0.86"/><line x1="332.2" y1="287.6" x2="325.9" y2="411.2" stroke="#907048" stroke-opacity="0.17" stroke-width="0.63"/><line x1="317.1" y1="303.8" x2="313.1" y2="428.0" stroke="#907048" stroke-opacity="0.11" stroke-width="0.91"/><line x1="318.8" y1="302.0" x2="314.5" y2="426.2" stroke="#5a4024" stroke-opacity="0.23" stroke-width="0.58"/><line x1="294.7" y1="327.9" x2="294.2" y2="452.7" stroke="#907048" stroke-opacity="0.26" stroke-width="0.94"/><line x1="281.5" y1="342.0" x2="283.3" y2="467.1" stroke="#907048" stroke-opacity="0.18" stroke-width="0.79"/><line x1="333.1" y1="286.6" x2="326.7" y2="410.2" stroke="#907048" stroke-opacity="0.17" stroke-width="0.93"/><line x1="295.5" y1="327.0" x2="294.9" y2="451.8" stroke="#5a4024" stroke-opacity="0.11" stroke-width="0.51"/><line x1="290.4" y1="332.5" x2="290.7" y2="457.4" stroke="#5a4024" stroke-opacity="0.20" stroke-width="0.32"/><line x1="253.5" y1="372.3" x2="260.2" y2="497.3" stroke="#907048" stroke-opacity="0.15" stroke-width="0.68"/><line x1="257.0" y1="368.4" x2="263.1" y2="493.5" stroke="#907048" stroke-opacity="0.19" stroke-width="0.82"/><line x1="314.8" y1="306.3" x2="311.1" y2="430.6" stroke="#907048" stroke-opacity="0.22" stroke-width="0.41"/><line x1="280.6" y1="343.1" x2="282.5" y2="468.1" stroke="#5a4024" stroke-opacity="0.09" stroke-width="0.56"/><line x1="253.9" y1="371.8" x2="260.6" y2="496.9" stroke="#907048" stroke-opacity="0.14" stroke-width="0.73"/><line x1="265.9" y1="358.9" x2="270.4" y2="484.0" stroke="#907048" stroke-opacity="0.19" stroke-width="0.52"/><line x1="242.8" y1="383.7" x2="251.6" y2="508.6" stroke="#5a4024" stroke-opacity="0.21" stroke-width="0.77"/><line x1="331.2" y1="288.6" x2="325.1" y2="412.3" stroke="#5a4024" stroke-opacity="0.11" stroke-width="1.08"/><line x1="327.9" y1="292.2" x2="322.2" y2="416.0" stroke="#5a4024" stroke-opacity="0.21" stroke-width="0.79"/><line x1="329.3" y1="290.7" x2="323.4" y2="414.4" stroke="#5a4024" stroke-opacity="0.26" stroke-width="0.51"/><line x1="300.5" y1="321.7" x2="299.0" y2="446.4" stroke="#5a4024" stroke-opacity="0.27" stroke-width="0.63"/><line x1="246.8" y1="379.4" x2="254.8" y2="504.4" stroke="#907048" stroke-opacity="0.29" stroke-width="0.60"/><line x1="297.9" y1="324.4" x2="296.9" y2="449.2" stroke="#5a4024" stroke-opacity="0.26" stroke-width="0.87"/><line x1="244.7" y1="381.6" x2="253.1" y2="506.6" stroke="#5a4024" stroke-opacity="0.21" stroke-width="0.33"/><line x1="293.9" y1="328.7" x2="293.6" y2="453.5" stroke="#5a4024" stroke-opacity="0.16" stroke-width="0.99"/><line x1="328.9" y1="291.1" x2="323.1" y2="414.8" stroke="#907048" stroke-opacity="0.16" stroke-width="0.69"/><line x1="277.0" y1="346.9" x2="279.5" y2="472.0" stroke="#907048" stroke-opacity="0.20" stroke-width="0.76"/><line x1="275.4" y1="348.6" x2="278.2" y2="473.7" stroke="#907048" stroke-opacity="0.11" stroke-width="0.84"/><line x1="315.6" y1="305.4" x2="311.8" y2="429.7" stroke="#5a4024" stroke-opacity="0.12" stroke-width="0.99"/><line x1="276.4" y1="347.6" x2="279.0" y2="472.7" stroke="#5a4024" stroke-opacity="0.28" stroke-width="0.92"/><line x1="286.0" y1="337.2" x2="287.0" y2="462.2" stroke="#907048" stroke-opacity="0.21" stroke-width="0.97"/><line x1="258.5" y1="366.8" x2="264.4" y2="491.9" stroke="#5a4024" stroke-opacity="0.27" stroke-width="1.02"/><line x1="290.3" y1="332.7" x2="290.5" y2="457.6" stroke="#5a4024" stroke-opacity="0.16" stroke-width="1.06"/><line x1="240.8" y1="385.8" x2="250.0" y2="510.7" stroke="#5a4024" stroke-opacity="0.14" stroke-width="0.96"/><line x1="311.3" y1="310.0" x2="308.2" y2="434.4" stroke="#5a4024" stroke-opacity="0.22" stroke-width="1.08"/><line x1="331.5" y1="288.3" x2="325.3" y2="411.9" stroke="#907048" stroke-opacity="0.19" stroke-width="0.53"/><line x1="294.2" y1="328.4" x2="293.8" y2="453.2" stroke="#5a4024" stroke-opacity="0.14" stroke-width="1.06"/><line x1="335.3" y1="284.2" x2="328.6" y2="407.6" stroke="#5a4024" stroke-opacity="0.28" stroke-width="0.40"/><line x1="290.5" y1="332.4" x2="290.8" y2="457.3" stroke="#5a4024" stroke-opacity="0.16" stroke-width="0.60"/><line x1="331.1" y1="288.7" x2="325.0" y2="412.4" stroke="#5a4024" stroke-opacity="0.13" stroke-width="0.96"/><line x1="238.6" y1="388.2" x2="248.2" y2="513.1" stroke="#5a4024" stroke-opacity="0.11" stroke-width="0.54"/><line x1="306.6" y1="315.1" x2="304.2" y2="439.6" stroke="#5a4024" stroke-opacity="0.26" stroke-width="0.91"/><line x1="324.7" y1="295.7" x2="319.5" y2="419.6" stroke="#5a4024" stroke-opacity="0.13" stroke-width="0.60"/><line x1="290.0" y1="332.9" x2="290.3" y2="457.8" stroke="#907048" stroke-opacity="0.14" stroke-width="0.64"/><line x1="332.0" y1="287.7" x2="325.8" y2="411.3" stroke="#907048" stroke-opacity="0.23" stroke-width="0.76"/><line x1="302.1" y1="319.9" x2="300.4" y2="444.6" stroke="#907048" stroke-opacity="0.14" stroke-width="0.58"/><line x1="307.7" y1="313.9" x2="305.1" y2="438.4" stroke="#907048" stroke-opacity="0.29" stroke-width="1.06"/><line x1="326.4" y1="293.8" x2="321.0" y2="417.6" stroke="#5a4024" stroke-opacity="0.13" stroke-width="0.90"/><line x1="278.6" y1="345.2" x2="280.9" y2="470.2" stroke="#5a4024" stroke-opacity="0.19" stroke-width="0.65"/><line x1="260.6" y1="364.5" x2="266.1" y2="489.6" stroke="#907048" stroke-opacity="0.18" stroke-width="0.58"/><line x1="324.5" y1="295.8" x2="319.4" y2="419.7" stroke="#907048" stroke-opacity="0.18" stroke-width="0.42"/><line x1="278.6" y1="345.2" x2="280.8" y2="470.3" stroke="#907048" stroke-opacity="0.17" stroke-width="1.00"/><line x1="261.3" y1="363.8" x2="266.7" y2="488.9" stroke="#5a4024" stroke-opacity="0.26" stroke-width="0.98"/><line x1="278.7" y1="345.1" x2="280.9" y2="470.2" stroke="#5a4024" stroke-opacity="0.27" stroke-width="0.71"/><line x1="327.0" y1="293.2" x2="321.5" y2="417.0" stroke="#5a4024" stroke-opacity="0.26" stroke-width="0.31"/><line x1="264.4" y1="360.5" x2="269.1" y2="485.6" stroke="#5a4024" stroke-opacity="0.24" stroke-width="0.76"/><line x1="243.7" y1="382.8" x2="252.3" y2="507.7" stroke="#5a4024" stroke-opacity="0.10" stroke-width="0.85"/><line x1="311.1" y1="310.2" x2="308.0" y2="434.7" stroke="#5a4024" stroke-opacity="0.24" stroke-width="0.97"/><line x1="304.5" y1="317.4" x2="302.4" y2="442.0" stroke="#5a4024" stroke-opacity="0.15" stroke-width="0.32"/><line x1="307.1" y1="314.5" x2="304.7" y2="439.0" stroke="#907048" stroke-opacity="0.22" stroke-width="0.37"/><line x1="267.1" y1="357.5" x2="271.4" y2="482.6" stroke="#907048" stroke-opacity="0.12" stroke-width="0.59"/><line x1="305.1" y1="316.7" x2="302.9" y2="441.3" stroke="#907048" stroke-opacity="0.18" stroke-width="0.71"/><line x1="263.3" y1="361.7" x2="268.2" y2="486.8" stroke="#5a4024" stroke-opacity="0.13" stroke-width="0.97"/><line x1="307.4" y1="314.2" x2="304.9" y2="438.7" stroke="#5a4024" stroke-opacity="0.24" stroke-width="0.51"/><line x1="246.4" y1="379.8" x2="254.5" y2="504.8" stroke="#5a4024" stroke-opacity="0.23" stroke-width="0.45"/><line x1="322.1" y1="298.4" x2="317.4" y2="422.4" stroke="#907048" stroke-opacity="0.29" stroke-width="0.49"/><line x1="261.0" y1="364.1" x2="266.4" y2="489.2" stroke="#5a4024" stroke-opacity="0.21" stroke-width="0.34"/><line x1="314.3" y1="306.8" x2="310.7" y2="431.1" stroke="#5a4024" stroke-opacity="0.27" stroke-width="0.61"/><line x1="329.3" y1="290.7" x2="323.5" y2="414.4" stroke="#5a4024" stroke-opacity="0.14" stroke-width="0.82"/><line x1="237.4" y1="389.5" x2="247.2" y2="514.4" stroke="#907048" stroke-opacity="0.21" stroke-width="0.92"/><polygon points="336.2,283.2 237.3,389.6 247.2,514.4 329.4,406.6" fill="url(#vshade)" stroke="#3c3c3c" stroke-width="0.8" stroke-linejoin="round"/><polygon points="343.8,304.9 322.4,298.1 317.6,422.1 335.5,429.1" fill="#ce9a54"/><line x1="342.3" y1="304.4" x2="334.2" y2="428.7" stroke="#a06c34" stroke-opacity="0.18" stroke-width="0.46"/><line x1="332.9" y1="301.4" x2="326.4" y2="425.6" stroke="#e8bc7c" stroke-opacity="0.18" stroke-width="1.07"/><line x1="340.7" y1="303.9" x2="332.9" y2="428.1" stroke="#a06c34" stroke-opacity="0.10" stroke-width="0.72"/><line x1="333.9" y1="301.8" x2="327.3" y2="425.9" stroke="#a06c34" stroke-opacity="0.21" stroke-width="0.38"/><line x1="328.1" y1="299.9" x2="322.4" y2="424.0" stroke="#a06c34" stroke-opacity="0.24" stroke-width="0.82"/><line x1="322.4" y1="298.1" x2="317.6" y2="422.1" stroke="#a06c34" stroke-opacity="0.18" stroke-width="0.64"/><line x1="323.4" y1="298.4" x2="318.4" y2="422.4" stroke="#a06c34" stroke-opacity="0.18" stroke-width="0.34"/><line x1="332.1" y1="301.2" x2="325.7" y2="425.3" stroke="#a06c34" stroke-opacity="0.23" stroke-width="0.40"/><line x1="324.4" y1="298.7" x2="319.3" y2="422.8" stroke="#a06c34" stroke-opacity="0.29" stroke-width="0.60"/><line x1="338.3" y1="303.1" x2="330.9" y2="427.3" stroke="#e8bc7c" stroke-opacity="0.10" stroke-width="1.10"/><line x1="338.4" y1="303.2" x2="331.0" y2="427.4" stroke="#a06c34" stroke-opacity="0.18" stroke-width="0.89"/><line x1="324.9" y1="298.9" x2="319.6" y2="422.9" stroke="#a06c34" stroke-opacity="0.18" stroke-width="0.57"/><line x1="340.0" y1="303.7" x2="332.3" y2="427.9" stroke="#a06c34" stroke-opacity="0.13" stroke-width="0.87"/><line x1="327.7" y1="299.8" x2="322.0" y2="423.8" stroke="#a06c34" stroke-opacity="0.19" stroke-width="0.58"/><line x1="325.8" y1="299.1" x2="320.4" y2="423.2" stroke="#a06c34" stroke-opacity="0.14" stroke-width="1.06"/><line x1="328.8" y1="300.1" x2="322.9" y2="424.2" stroke="#a06c34" stroke-opacity="0.15" stroke-width="0.86"/><line x1="336.8" y1="302.7" x2="329.7" y2="426.8" stroke="#e8bc7c" stroke-opacity="0.14" stroke-width="0.43"/><line x1="326.5" y1="299.4" x2="321.0" y2="423.4" stroke="#e8bc7c" stroke-opacity="0.15" stroke-width="0.43"/><line x1="327.4" y1="299.7" x2="321.8" y2="423.7" stroke="#a06c34" stroke-opacity="0.09" stroke-width="0.80"/><line x1="339.5" y1="303.5" x2="331.9" y2="427.7" stroke="#e8bc7c" stroke-opacity="0.10" stroke-width="0.56"/><line x1="323.5" y1="298.4" x2="318.5" y2="422.4" stroke="#e8bc7c" stroke-opacity="0.08" stroke-width="0.91"/><line x1="333.5" y1="301.6" x2="326.9" y2="425.8" stroke="#e8bc7c" stroke-opacity="0.14" stroke-width="0.39"/><line x1="329.1" y1="300.2" x2="323.2" y2="424.3" stroke="#e8bc7c" stroke-opacity="0.08" stroke-width="0.89"/><line x1="341.4" y1="304.1" x2="333.5" y2="428.4" stroke="#e8bc7c" stroke-opacity="0.19" stroke-width="0.48"/><line x1="336.1" y1="302.5" x2="329.1" y2="426.6" stroke="#e8bc7c" stroke-opacity="0.11" stroke-width="1.03"/><line x1="336.5" y1="302.6" x2="329.4" y2="426.8" stroke="#e8bc7c" stroke-opacity="0.14" stroke-width="0.62"/><line x1="323.7" y1="298.5" x2="318.6" y2="422.5" stroke="#e8bc7c" stroke-opacity="0.29" stroke-width="0.44"/><line x1="336.4" y1="302.5" x2="329.3" y2="426.7" stroke="#a06c34" stroke-opacity="0.18" stroke-width="0.97"/><line x1="328.5" y1="300.0" x2="322.7" y2="424.1" stroke="#a06c34" stroke-opacity="0.12" stroke-width="0.89"/><polygon points="343.8,304.9 322.4,298.1 317.6,422.1 335.5,429.1" fill="url(#vshade)" stroke="#3c3c3c" stroke-width="0.8" stroke-linejoin="round"/><polygon points="342.0,306.9 330.1,320.5 323.8,445.2 334.0,431.2" fill="#785a36"/><line x1="341.9" y1="307.0" x2="333.9" y2="431.3" stroke="#5a4024" stroke-opacity="0.23" stroke-width="0.45"/><line x1="339.6" y1="309.6" x2="331.9" y2="434.0" stroke="#5a4024" stroke-opacity="0.28" stroke-width="0.34"/><line x1="333.1" y1="317.0" x2="326.4" y2="441.6" stroke="#5a4024" stroke-opacity="0.26" stroke-width="0.46"/><line x1="334.4" y1="315.5" x2="327.5" y2="440.1" stroke="#907048" stroke-opacity="0.18" stroke-width="0.75"/><line x1="331.1" y1="319.3" x2="324.7" y2="444.0" stroke="#907048" stroke-opacity="0.28" stroke-width="0.76"/><line x1="339.4" y1="309.9" x2="331.7" y2="434.3" stroke="#907048" stroke-opacity="0.22" stroke-width="0.34"/><line x1="336.6" y1="313.1" x2="329.4" y2="437.6" stroke="#5a4024" stroke-opacity="0.20" stroke-width="0.83"/><line x1="334.2" y1="315.7" x2="327.4" y2="440.3" stroke="#5a4024" stroke-opacity="0.12" stroke-width="0.56"/><line x1="339.6" y1="309.7" x2="331.9" y2="434.1" stroke="#907048" stroke-opacity="0.14" stroke-width="1.08"/><line x1="333.8" y1="316.2" x2="327.0" y2="440.8" stroke="#907048" stroke-opacity="0.18" stroke-width="0.72"/><line x1="330.7" y1="319.8" x2="324.3" y2="444.5" stroke="#907048" stroke-opacity="0.11" stroke-width="0.76"/><line x1="336.3" y1="313.4" x2="329.1" y2="437.9" stroke="#907048" stroke-opacity="0.09" stroke-width="0.46"/><line x1="330.6" y1="319.9" x2="324.3" y2="444.6" stroke="#907048" stroke-opacity="0.14" stroke-width="0.69"/><line x1="332.3" y1="318.0" x2="325.7" y2="442.6" stroke="#5a4024" stroke-opacity="0.27" stroke-width="0.79"/><line x1="331.0" y1="319.4" x2="324.6" y2="444.1" stroke="#5a4024" stroke-opacity="0.20" stroke-width="1.07"/><line x1="333.7" y1="316.4" x2="326.9" y2="441.0" stroke="#5a4024" stroke-opacity="0.15" stroke-width="0.94"/><line x1="336.3" y1="313.4" x2="329.1" y2="437.9" stroke="#907048" stroke-opacity="0.18" stroke-width="0.59"/><line x1="338.0" y1="311.4" x2="330.6" y2="435.9" stroke="#907048" stroke-opacity="0.18" stroke-width="0.46"/><line x1="332.1" y1="318.1" x2="325.6" y2="442.8" stroke="#907048" stroke-opacity="0.10" stroke-width="0.61"/><line x1="341.0" y1="308.0" x2="333.1" y2="432.4" stroke="#907048" stroke-opacity="0.26" stroke-width="1.04"/><line x1="340.9" y1="308.1" x2="333.0" y2="432.5" stroke="#5a4024" stroke-opacity="0.10" stroke-width="0.31"/><line x1="335.3" y1="314.6" x2="328.2" y2="439.1" stroke="#907048" stroke-opacity="0.27" stroke-width="0.30"/><line x1="335.5" y1="314.4" x2="328.4" y2="438.9" stroke="#907048" stroke-opacity="0.19" stroke-width="0.93"/><line x1="339.4" y1="309.9" x2="331.8" y2="434.3" stroke="#5a4024" stroke-opacity="0.14" stroke-width="0.44"/><line x1="341.8" y1="307.2" x2="333.8" y2="431.5" stroke="#5a4024" stroke-opacity="0.26" stroke-width="1.01"/><line x1="333.5" y1="316.6" x2="326.7" y2="441.2" stroke="#907048" stroke-opacity="0.28" stroke-width="0.71"/><line x1="340.9" y1="308.1" x2="333.1" y2="432.5" stroke="#5a4024" stroke-opacity="0.14" stroke-width="1.04"/><line x1="334.5" y1="315.4" x2="327.6" y2="440.0" stroke="#907048" stroke-opacity="0.26" stroke-width="0.78"/><line x1="330.5" y1="319.9" x2="324.2" y2="444.6" stroke="#5a4024" stroke-opacity="0.18" stroke-width="0.35"/><line x1="338.5" y1="310.9" x2="331.0" y2="435.3" stroke="#907048" stroke-opacity="0.13" stroke-width="0.55"/><line x1="330.4" y1="320.1" x2="324.1" y2="444.8" stroke="#5a4024" stroke-opacity="0.25" stroke-width="0.59"/><polygon points="342.0,306.9 330.1,320.5 323.8,445.2 334.0,431.2" fill="url(#vshade)" stroke="#3c3c3c" stroke-width="0.8" stroke-linejoin="round"/><polygon points="350.9,325.2 331.5,318.9 325.0,443.5 341.1,450.0" fill="#ce9a54"/><line x1="349.2" y1="324.7" x2="339.7" y2="449.5" stroke="#a06c34" stroke-opacity="0.24" stroke-width="0.45"/><line x1="337.5" y1="320.8" x2="330.0" y2="445.5" stroke="#e8bc7c" stroke-opacity="0.19" stroke-width="0.96"/><line x1="341.9" y1="322.3" x2="333.7" y2="447.0" stroke="#a06c34" stroke-opacity="0.10" stroke-width="1.02"/><line x1="347.2" y1="324.0" x2="338.1" y2="448.8" stroke="#e8bc7c" stroke-opacity="0.13" stroke-width="0.63"/><line x1="346.7" y1="323.9" x2="337.7" y2="448.6" stroke="#a06c34" stroke-opacity="0.13" stroke-width="0.51"/><line x1="348.9" y1="324.6" x2="339.5" y2="449.4" stroke="#a06c34" stroke-opacity="0.27" stroke-width="0.75"/><line x1="338.1" y1="321.0" x2="330.5" y2="445.7" stroke="#e8bc7c" stroke-opacity="0.21" stroke-width="0.35"/><line x1="342.9" y1="322.6" x2="334.5" y2="447.3" stroke="#a06c34" stroke-opacity="0.24" stroke-width="0.50"/><line x1="344.2" y1="323.0" x2="335.6" y2="447.8" stroke="#e8bc7c" stroke-opacity="0.12" stroke-width="0.65"/><line x1="349.8" y1="324.9" x2="340.3" y2="449.7" stroke="#a06c34" stroke-opacity="0.11" stroke-width="0.69"/><line x1="341.1" y1="322.0" x2="333.0" y2="446.7" stroke="#a06c34" stroke-opacity="0.14" stroke-width="0.43"/><line x1="335.2" y1="320.1" x2="328.1" y2="444.7" stroke="#a06c34" stroke-opacity="0.21" stroke-width="0.84"/><line x1="345.4" y1="323.4" x2="336.6" y2="448.2" stroke="#e8bc7c" stroke-opacity="0.30" stroke-width="0.50"/><line x1="336.0" y1="320.3" x2="328.8" y2="445.0" stroke="#a06c34" stroke-opacity="0.26" stroke-width="0.89"/><line x1="346.8" y1="323.9" x2="337.7" y2="448.6" stroke="#e8bc7c" stroke-opacity="0.25" stroke-width="1.07"/><line x1="334.1" y1="319.7" x2="327.2" y2="444.4" stroke="#a06c34" stroke-opacity="0.10" stroke-width="0.64"/><line x1="332.8" y1="319.3" x2="326.1" y2="443.9" stroke="#e8bc7c" stroke-opacity="0.19" stroke-width="0.54"/><line x1="343.1" y1="322.7" x2="334.7" y2="447.4" stroke="#e8bc7c" stroke-opacity="0.22" stroke-width="0.78"/><line x1="344.8" y1="323.2" x2="336.1" y2="448.0" stroke="#a06c34" stroke-opacity="0.23" stroke-width="0.86"/><line x1="338.9" y1="321.3" x2="331.2" y2="446.0" stroke="#a06c34" stroke-opacity="0.12" stroke-width="1.04"/><line x1="346.9" y1="323.9" x2="337.9" y2="448.7" stroke="#a06c34" stroke-opacity="0.17" stroke-width="0.87"/><line x1="339.0" y1="321.3" x2="331.3" y2="446.0" stroke="#e8bc7c" stroke-opacity="0.20" stroke-width="0.74"/><line x1="332.0" y1="319.0" x2="325.4" y2="443.6" stroke="#e8bc7c" stroke-opacity="0.15" stroke-width="0.46"/><line x1="332.9" y1="319.3" x2="326.2" y2="444.0" stroke="#e8bc7c" stroke-opacity="0.25" stroke-width="0.79"/><line x1="342.9" y1="322.6" x2="334.5" y2="447.3" stroke="#a06c34" stroke-opacity="0.27" stroke-width="0.96"/><polygon points="350.9,325.2 331.5,318.9 325.0,443.5 341.1,450.0" fill="url(#vshade)" stroke="#3c3c3c" stroke-width="0.8" stroke-linejoin="round"/><polygon points="330.4,510.7 338.8,385.8 376.5,337.0 488.7,374.2 453.9,499.3 441.7,540.6 441.1,542.6 440.4,544.4 439.6,545.9 438.6,547.3 437.5,548.4 436.1,549.3 434.8,550.1 433.5,550.8 432.3,551.5 431.1,552.0 429.9,552.4 428.7,552.7 426.1,553.3" fill="#8a8ca4"/><polygon points="488.7,374.2 487.9,374.3 453.3,499.4 453.9,499.3" fill="#979ab2" stroke="#979ab2" stroke-width="0.6" stroke-linejoin="round"/><polygon points="487.9,374.3 486.9,374.3 452.4,499.4 453.3,499.4" fill="#999cb5" stroke="#999cb5" stroke-width="0.6" stroke-linejoin="round"/><polygon points="486.9,374.3 485.7,374.4 451.4,499.5 452.4,499.4" fill="#989bb4" stroke="#989bb4" stroke-width="0.6" stroke-linejoin="round"/><polygon points="485.7,374.4 484.4,374.6 450.3,499.7 451.4,499.5" fill="#9598b0" stroke="#9598b0" stroke-width="0.6" stroke-linejoin="round"/><polygon points="484.4,374.6 483.0,374.9 449.2,500.0 450.3,499.7" fill="#8f92aa" stroke="#8f92aa" stroke-width="0.6" stroke-linejoin="round"/><polygon points="483.0,374.9 481.7,375.4 448.1,500.5 449.2,500.0" fill="#8789a2" stroke="#8789a2" stroke-width="0.6" stroke-linejoin="round"/><polygon points="481.7,375.4 480.3,376.1 446.9,501.2 448.1,500.5" fill="#80829b" stroke="#80829b" stroke-width="0.6" stroke-linejoin="round"/><polygon points="480.3,376.1 478.7,377.1 445.5,502.2 446.9,501.2" fill="#7d7f98" stroke="#7d7f98" stroke-width="0.6" stroke-linejoin="round"/><polygon points="478.7,377.1 477.1,378.2 444.2,503.2 445.5,502.2" fill="#7b7d95" stroke="#7b7d95" stroke-width="0.6" stroke-linejoin="round"/><polygon points="477.1,378.2 475.5,379.3 442.8,504.4 444.2,503.2" fill="#787a92" stroke="#787a92" stroke-width="0.6" stroke-linejoin="round"/><polygon points="382.9,320.0 313.7,408.2 309.7,532.7 368.0,444.7" fill="#785a36"/><line x1="360.1" y1="349.0" x2="348.5" y2="474.2" stroke="#5a4024" stroke-opacity="0.11" stroke-width="0.61"/><line x1="321.5" y1="398.3" x2="316.1" y2="523.0" stroke="#5a4024" stroke-opacity="0.23" stroke-width="0.80"/><line x1="375.2" y1="329.9" x2="361.4" y2="454.8" stroke="#907048" stroke-opacity="0.14" stroke-width="0.94"/><line x1="355.9" y1="354.4" x2="344.9" y2="479.6" stroke="#907048" stroke-opacity="0.12" stroke-width="1.08"/><line x1="330.7" y1="386.6" x2="323.7" y2="511.5" stroke="#907048" stroke-opacity="0.30" stroke-width="1.01"/><line x1="373.3" y1="332.2" x2="359.8" y2="457.1" stroke="#907048" stroke-opacity="0.12" stroke-width="0.52"/><line x1="368.1" y1="338.9" x2="355.3" y2="463.9" stroke="#5a4024" stroke-opacity="0.08" stroke-width="0.52"/><line x1="360.3" y1="348.9" x2="348.6" y2="474.0" stroke="#5a4024" stroke-opacity="0.13" stroke-width="0.74"/><line x1="351.0" y1="360.7" x2="340.8" y2="485.8" stroke="#907048" stroke-opacity="0.14" stroke-width="0.76"/><line x1="362.5" y1="346.0" x2="350.5" y2="471.1" stroke="#907048" stroke-opacity="0.10" stroke-width="0.55"/><line x1="326.3" y1="392.2" x2="320.1" y2="517.0" stroke="#907048" stroke-opacity="0.12" stroke-width="0.31"/><line x1="348.3" y1="364.2" x2="338.4" y2="489.3" stroke="#5a4024" stroke-opacity="0.18" stroke-width="0.35"/><line x1="371.5" y1="334.6" x2="358.2" y2="459.5" stroke="#907048" stroke-opacity="0.22" stroke-width="0.44"/><line x1="379.7" y1="324.1" x2="365.3" y2="448.9" stroke="#5a4024" stroke-opacity="0.10" stroke-width="0.82"/><line x1="351.5" y1="360.0" x2="341.2" y2="485.1" stroke="#907048" stroke-opacity="0.17" stroke-width="0.98"/><line x1="364.1" y1="343.9" x2="351.9" y2="469.0" stroke="#5a4024" stroke-opacity="0.25" stroke-width="0.68"/><line x1="373.9" y1="331.5" x2="360.2" y2="456.5" stroke="#5a4024" stroke-opacity="0.23" stroke-width="0.39"/><line x1="327.3" y1="390.9" x2="320.9" y2="515.8" stroke="#5a4024" stroke-opacity="0.29" stroke-width="0.50"/><line x1="371.6" y1="334.5" x2="358.3" y2="459.4" stroke="#5a4024" stroke-opacity="0.19" stroke-width="0.98"/><line x1="360.0" y1="349.3" x2="348.3" y2="474.4" stroke="#5a4024" stroke-opacity="0.16" stroke-width="0.78"/><line x1="337.6" y1="377.7" x2="329.5" y2="502.7" stroke="#907048" stroke-opacity="0.19" stroke-width="0.66"/><line x1="366.8" y1="340.6" x2="354.1" y2="465.6" stroke="#907048" stroke-opacity="0.16" stroke-width="0.92"/><line x1="378.1" y1="326.1" x2="363.9" y2="451.0" stroke="#5a4024" stroke-opacity="0.17" stroke-width="0.54"/><line x1="354.5" y1="356.2" x2="343.7" y2="481.3" stroke="#5a4024" stroke-opacity="0.14" stroke-width="0.76"/><line x1="352.2" y1="359.2" x2="341.7" y2="484.3" stroke="#5a4024" stroke-opacity="0.23" stroke-width="1.09"/><line x1="316.3" y1="404.9" x2="311.8" y2="529.4" stroke="#5a4024" stroke-opacity="0.29" stroke-width="0.50"/><line x1="314.8" y1="406.7" x2="310.6" y2="531.2" stroke="#907048" stroke-opacity="0.22" stroke-width="1.05"/><line x1="324.9" y1="393.9" x2="319.0" y2="518.7" stroke="#907048" stroke-opacity="0.26" stroke-width="0.74"/><line x1="376.6" y1="328.0" x2="362.6" y2="452.9" stroke="#5a4024" stroke-opacity="0.20" stroke-width="0.60"/><line x1="335.4" y1="380.5" x2="327.7" y2="505.5" stroke="#5a4024" stroke-opacity="0.23" stroke-width="0.47"/><line x1="355.5" y1="355.0" x2="344.5" y2="480.1" stroke="#907048" stroke-opacity="0.19" stroke-width="0.54"/><line x1="320.3" y1="399.8" x2="315.1" y2="524.5" stroke="#907048" stroke-opacity="0.11" stroke-width="0.58"/><line x1="331.0" y1="386.2" x2="324.0" y2="511.1" stroke="#907048" stroke-opacity="0.16" stroke-width="0.79"/><line x1="314.4" y1="407.3" x2="310.3" y2="531.7" stroke="#5a4024" stroke-opacity="0.15" stroke-width="0.75"/><line x1="375.4" y1="329.6" x2="361.5" y2="454.5" stroke="#5a4024" stroke-opacity="0.27" stroke-width="0.43"/><line x1="342.4" y1="371.6" x2="333.5" y2="496.7" stroke="#907048" stroke-opacity="0.27" stroke-width="0.54"/><line x1="370.6" y1="335.8" x2="357.4" y2="460.7" stroke="#907048" stroke-opacity="0.12" stroke-width="0.99"/><line x1="360.5" y1="348.6" x2="348.8" y2="473.7" stroke="#5a4024" stroke-opacity="0.14" stroke-width="0.32"/><line x1="372.4" y1="333.4" x2="359.0" y2="458.3" stroke="#907048" stroke-opacity="0.12" stroke-width="0.84"/><line x1="372.0" y1="334.0" x2="358.6" y2="458.9" stroke="#5a4024" stroke-opacity="0.15" stroke-width="0.54"/><line x1="354.0" y1="356.8" x2="343.3" y2="482.0" stroke="#5a4024" stroke-opacity="0.23" stroke-width="0.98"/><line x1="380.6" y1="322.9" x2="366.1" y2="447.7" stroke="#907048" stroke-opacity="0.10" stroke-width="0.70"/><line x1="358.6" y1="351.1" x2="347.1" y2="476.2" stroke="#5a4024" stroke-opacity="0.19" stroke-width="0.36"/><line x1="366.3" y1="341.2" x2="353.8" y2="466.2" stroke="#5a4024" stroke-opacity="0.30" stroke-width="0.85"/><line x1="371.4" y1="334.7" x2="358.1" y2="459.7" stroke="#5a4024" stroke-opacity="0.11" stroke-width="0.75"/><line x1="350.2" y1="361.7" x2="340.1" y2="486.8" stroke="#907048" stroke-opacity="0.15" stroke-width="0.43"/><line x1="369.5" y1="337.1" x2="356.5" y2="462.1" stroke="#907048" stroke-opacity="0.15" stroke-width="0.55"/><line x1="339.8" y1="375.0" x2="331.3" y2="500.0" stroke="#907048" stroke-opacity="0.12" stroke-width="0.94"/><line x1="319.3" y1="401.0" x2="314.3" y2="525.6" stroke="#907048" stroke-opacity="0.09" stroke-width="0.90"/><line x1="347.2" y1="365.5" x2="337.5" y2="490.7" stroke="#5a4024" stroke-opacity="0.14" stroke-width="0.50"/><line x1="318.5" y1="402.0" x2="313.7" y2="526.6" stroke="#907048" stroke-opacity="0.27" stroke-width="1.06"/><line x1="380.0" y1="323.8" x2="365.5" y2="448.5" stroke="#5a4024" stroke-opacity="0.23" stroke-width="0.59"/><line x1="357.9" y1="351.9" x2="346.6" y2="477.0" stroke="#907048" stroke-opacity="0.12" stroke-width="0.38"/><line x1="320.7" y1="399.3" x2="315.5" y2="523.9" stroke="#5a4024" stroke-opacity="0.18" stroke-width="0.60"/><line x1="356.8" y1="353.4" x2="345.6" y2="478.5" stroke="#5a4024" stroke-opacity="0.15" stroke-width="0.60"/><line x1="317.2" y1="403.7" x2="312.6" y2="528.3" stroke="#907048" stroke-opacity="0.16" stroke-width="0.89"/><line x1="382.7" y1="320.3" x2="367.8" y2="445.0" stroke="#5a4024" stroke-opacity="0.17" stroke-width="1.03"/><line x1="374.9" y1="330.2" x2="361.1" y2="455.1" stroke="#907048" stroke-opacity="0.26" stroke-width="0.64"/><line x1="369.8" y1="336.7" x2="356.8" y2="461.7" stroke="#5a4024" stroke-opacity="0.10" stroke-width="0.44"/><line x1="336.6" y1="379.1" x2="328.6" y2="504.1" stroke="#907048" stroke-opacity="0.11" stroke-width="0.42"/><line x1="329.8" y1="387.7" x2="322.9" y2="512.6" stroke="#907048" stroke-opacity="0.09" stroke-width="0.57"/><line x1="330.2" y1="387.2" x2="323.3" y2="512.1" stroke="#907048" stroke-opacity="0.23" stroke-width="0.69"/><line x1="329.8" y1="387.7" x2="322.9" y2="512.6" stroke="#907048" stroke-opacity="0.30" stroke-width="0.55"/><line x1="381.5" y1="321.9" x2="366.8" y2="446.6" stroke="#5a4024" stroke-opacity="0.09" stroke-width="0.71"/><line x1="329.3" y1="388.3" x2="322.6" y2="513.2" stroke="#5a4024" stroke-opacity="0.30" stroke-width="0.84"/><line x1="382.8" y1="320.2" x2="367.9" y2="444.9" stroke="#907048" stroke-opacity="0.18" stroke-width="0.44"/><line x1="318.0" y1="402.7" x2="313.2" y2="527.3" stroke="#907048" stroke-opacity="0.10" stroke-width="0.74"/><line x1="353.4" y1="357.6" x2="342.8" y2="482.8" stroke="#5a4024" stroke-opacity="0.15" stroke-width="0.70"/><line x1="325.9" y1="392.7" x2="319.7" y2="517.5" stroke="#5a4024" stroke-opacity="0.24" stroke-width="0.43"/><line x1="369.4" y1="337.3" x2="356.4" y2="462.3" stroke="#907048" stroke-opacity="0.18" stroke-width="0.54"/><line x1="373.4" y1="332.1" x2="359.8" y2="457.0" stroke="#5a4024" stroke-opacity="0.10" stroke-width="0.71"/><line x1="362.5" y1="346.0" x2="350.5" y2="471.1" stroke="#907048" stroke-opacity="0.29" stroke-width="0.47"/><line x1="361.4" y1="347.5" x2="349.5" y2="472.6" stroke="#5a4024" stroke-opacity="0.10" stroke-width="0.97"/><line x1="382.8" y1="320.2" x2="367.9" y2="444.9" stroke="#5a4024" stroke-opacity="0.27" stroke-width="0.54"/><line x1="343.8" y1="369.9" x2="334.6" y2="495.0" stroke="#5a4024" stroke-opacity="0.29" stroke-width="0.36"/><line x1="319.7" y1="400.6" x2="314.6" y2="525.3" stroke="#5a4024" stroke-opacity="0.13" stroke-width="0.40"/><line x1="366.0" y1="341.5" x2="353.5" y2="466.6" stroke="#907048" stroke-opacity="0.13" stroke-width="0.31"/><line x1="378.9" y1="325.2" x2="364.5" y2="450.0" stroke="#5a4024" stroke-opacity="0.21" stroke-width="0.53"/><line x1="359.4" y1="350.0" x2="347.9" y2="475.1" stroke="#907048" stroke-opacity="0.09" stroke-width="0.31"/><line x1="334.2" y1="382.0" x2="326.7" y2="507.0" stroke="#907048" stroke-opacity="0.14" stroke-width="0.65"/><line x1="331.3" y1="385.8" x2="324.2" y2="510.7" stroke="#5a4024" stroke-opacity="0.20" stroke-width="1.04"/><line x1="370.7" y1="335.6" x2="357.5" y2="460.6" stroke="#5a4024" stroke-opacity="0.30" stroke-width="0.93"/><line x1="379.1" y1="324.9" x2="364.7" y2="449.7" stroke="#5a4024" stroke-opacity="0.27" stroke-width="1.09"/><line x1="352.9" y1="358.3" x2="342.3" y2="483.4" stroke="#5a4024" stroke-opacity="0.18" stroke-width="0.56"/><line x1="379.7" y1="324.1" x2="365.3" y2="448.9" stroke="#907048" stroke-opacity="0.13" stroke-width="0.84"/><line x1="333.3" y1="383.2" x2="325.9" y2="508.2" stroke="#5a4024" stroke-opacity="0.20" stroke-width="0.46"/><line x1="372.4" y1="333.4" x2="359.0" y2="458.4" stroke="#5a4024" stroke-opacity="0.13" stroke-width="0.84"/><line x1="340.7" y1="373.9" x2="332.0" y2="498.9" stroke="#5a4024" stroke-opacity="0.19" stroke-width="0.85"/><line x1="314.5" y1="407.2" x2="310.3" y2="531.7" stroke="#5a4024" stroke-opacity="0.14" stroke-width="0.60"/><line x1="319.5" y1="400.8" x2="314.4" y2="525.5" stroke="#907048" stroke-opacity="0.18" stroke-width="0.36"/><line x1="316.0" y1="405.2" x2="311.6" y2="529.8" stroke="#5a4024" stroke-opacity="0.14" stroke-width="0.30"/><line x1="377.5" y1="326.9" x2="363.4" y2="451.8" stroke="#5a4024" stroke-opacity="0.29" stroke-width="0.83"/><line x1="354.8" y1="355.8" x2="344.0" y2="480.9" stroke="#907048" stroke-opacity="0.26" stroke-width="0.55"/><line x1="327.8" y1="390.2" x2="321.3" y2="515.1" stroke="#907048" stroke-opacity="0.10" stroke-width="0.58"/><line x1="326.5" y1="391.9" x2="320.2" y2="516.7" stroke="#5a4024" stroke-opacity="0.10" stroke-width="1.08"/><line x1="350.3" y1="361.5" x2="340.2" y2="486.7" stroke="#5a4024" stroke-opacity="0.19" stroke-width="0.73"/><line x1="330.4" y1="387.0" x2="323.4" y2="511.9" stroke="#5a4024" stroke-opacity="0.27" stroke-width="0.79"/><line x1="322.5" y1="397.1" x2="316.9" y2="521.8" stroke="#907048" stroke-opacity="0.26" stroke-width="0.67"/><line x1="363.7" y1="344.5" x2="351.5" y2="469.6" stroke="#907048" stroke-opacity="0.24" stroke-width="0.59"/><line x1="317.9" y1="402.9" x2="313.1" y2="527.5" stroke="#5a4024" stroke-opacity="0.27" stroke-width="0.70"/><line x1="372.2" y1="333.7" x2="358.8" y2="458.6" stroke="#907048" stroke-opacity="0.20" stroke-width="0.88"/><line x1="319.4" y1="400.9" x2="314.4" y2="525.6" stroke="#5a4024" stroke-opacity="0.23" stroke-width="0.59"/><line x1="324.0" y1="395.1" x2="318.2" y2="519.8" stroke="#907048" stroke-opacity="0.13" stroke-width="0.82"/><line x1="328.5" y1="389.4" x2="321.9" y2="514.2" stroke="#5a4024" stroke-opacity="0.24" stroke-width="0.81"/><line x1="370.2" y1="336.2" x2="357.1" y2="461.2" stroke="#5a4024" stroke-opacity="0.16" stroke-width="0.48"/><line x1="355.9" y1="354.5" x2="344.9" y2="479.6" stroke="#907048" stroke-opacity="0.30" stroke-width="0.66"/><line x1="363.6" y1="344.7" x2="351.4" y2="469.7" stroke="#907048" stroke-opacity="0.13" stroke-width="0.63"/><line x1="334.6" y1="381.6" x2="326.9" y2="506.6" stroke="#907048" stroke-opacity="0.21" stroke-width="0.68"/><line x1="367.2" y1="340.0" x2="354.5" y2="465.0" stroke="#5a4024" stroke-opacity="0.26" stroke-width="0.83"/><line x1="370.3" y1="336.1" x2="357.2" y2="461.0" stroke="#5a4024" stroke-opacity="0.22" stroke-width="0.54"/><line x1="361.3" y1="347.5" x2="349.5" y2="472.6" stroke="#5a4024" stroke-opacity="0.09" stroke-width="0.87"/><line x1="364.3" y1="343.8" x2="352.0" y2="468.9" stroke="#5a4024" stroke-opacity="0.08" stroke-width="0.49"/><line x1="374.9" y1="330.2" x2="361.1" y2="455.1" stroke="#907048" stroke-opacity="0.13" stroke-width="0.97"/><line x1="343.8" y1="369.8" x2="334.7" y2="494.9" stroke="#907048" stroke-opacity="0.16" stroke-width="1.06"/><line x1="326.5" y1="391.9" x2="320.2" y2="516.7" stroke="#5a4024" stroke-opacity="0.21" stroke-width="0.39"/><line x1="372.0" y1="334.0" x2="358.6" y2="458.9" stroke="#5a4024" stroke-opacity="0.29" stroke-width="0.46"/><line x1="382.8" y1="320.2" x2="367.9" y2="444.9" stroke="#5a4024" stroke-opacity="0.09" stroke-width="0.35"/><line x1="339.7" y1="375.1" x2="331.2" y2="500.2" stroke="#5a4024" stroke-opacity="0.22" stroke-width="0.71"/><line x1="323.5" y1="395.8" x2="317.7" y2="520.5" stroke="#5a4024" stroke-opacity="0.18" stroke-width="0.54"/><line x1="336.8" y1="378.8" x2="328.8" y2="503.8" stroke="#907048" stroke-opacity="0.26" stroke-width="0.88"/><line x1="320.2" y1="399.9" x2="315.0" y2="524.6" stroke="#5a4024" stroke-opacity="0.21" stroke-width="0.63"/><line x1="365.2" y1="342.5" x2="352.8" y2="467.6" stroke="#5a4024" stroke-opacity="0.16" stroke-width="0.70"/><line x1="356.5" y1="353.7" x2="345.4" y2="478.8" stroke="#5a4024" stroke-opacity="0.22" stroke-width="0.76"/><line x1="376.1" y1="328.7" x2="362.2" y2="453.5" stroke="#5a4024" stroke-opacity="0.19" stroke-width="0.76"/><line x1="321.5" y1="398.3" x2="316.1" y2="522.9" stroke="#5a4024" stroke-opacity="0.24" stroke-width="1.03"/><line x1="356.4" y1="353.8" x2="345.3" y2="478.9" stroke="#5a4024" stroke-opacity="0.28" stroke-width="0.37"/><line x1="338.3" y1="376.8" x2="330.1" y2="501.9" stroke="#907048" stroke-opacity="0.10" stroke-width="0.84"/><line x1="320.5" y1="399.5" x2="315.3" y2="524.2" stroke="#5a4024" stroke-opacity="0.27" stroke-width="1.05"/><line x1="347.3" y1="365.4" x2="337.6" y2="490.5" stroke="#5a4024" stroke-opacity="0.15" stroke-width="0.38"/><line x1="315.0" y1="406.5" x2="310.8" y2="531.0" stroke="#907048" stroke-opacity="0.20" stroke-width="1.00"/><line x1="316.4" y1="404.8" x2="311.9" y2="529.3" stroke="#907048" stroke-opacity="0.16" stroke-width="0.99"/><line x1="361.6" y1="347.2" x2="349.8" y2="472.2" stroke="#5a4024" stroke-opacity="0.21" stroke-width="0.88"/><line x1="363.9" y1="344.2" x2="351.7" y2="469.3" stroke="#907048" stroke-opacity="0.16" stroke-width="0.72"/><line x1="375.0" y1="330.2" x2="361.2" y2="455.1" stroke="#907048" stroke-opacity="0.29" stroke-width="0.61"/><line x1="369.6" y1="337.0" x2="356.6" y2="462.0" stroke="#5a4024" stroke-opacity="0.26" stroke-width="0.55"/><line x1="320.9" y1="399.1" x2="315.6" y2="523.7" stroke="#907048" stroke-opacity="0.20" stroke-width="0.82"/><line x1="350.7" y1="361.1" x2="340.5" y2="486.2" stroke="#907048" stroke-opacity="0.17" stroke-width="0.52"/><line x1="360.2" y1="348.9" x2="348.6" y2="474.0" stroke="#907048" stroke-opacity="0.27" stroke-width="0.31"/><line x1="380.1" y1="323.7" x2="365.6" y2="448.4" stroke="#907048" stroke-opacity="0.12" stroke-width="0.47"/><line x1="369.7" y1="336.9" x2="356.6" y2="461.9" stroke="#5a4024" stroke-opacity="0.26" stroke-width="0.79"/><line x1="334.7" y1="381.5" x2="327.0" y2="506.5" stroke="#5a4024" stroke-opacity="0.27" stroke-width="1.02"/><line x1="322.1" y1="397.6" x2="316.6" y2="522.3" stroke="#5a4024" stroke-opacity="0.21" stroke-width="0.98"/><line x1="376.5" y1="328.2" x2="362.5" y2="453.1" stroke="#5a4024" stroke-opacity="0.21" stroke-width="0.91"/><line x1="370.3" y1="336.1" x2="357.2" y2="461.0" stroke="#5a4024" stroke-opacity="0.24" stroke-width="0.43"/><line x1="322.9" y1="396.5" x2="317.2" y2="521.2" stroke="#5a4024" stroke-opacity="0.11" stroke-width="0.68"/><line x1="366.7" y1="340.7" x2="354.1" y2="465.7" stroke="#5a4024" stroke-opacity="0.29" stroke-width="1.05"/><line x1="348.6" y1="363.7" x2="338.7" y2="488.9" stroke="#907048" stroke-opacity="0.25" stroke-width="0.89"/><line x1="346.2" y1="366.8" x2="336.7" y2="492.0" stroke="#5a4024" stroke-opacity="0.12" stroke-width="0.87"/><line x1="339.7" y1="375.1" x2="331.3" y2="500.1" stroke="#5a4024" stroke-opacity="0.25" stroke-width="0.45"/><line x1="362.8" y1="345.7" x2="350.8" y2="470.7" stroke="#907048" stroke-opacity="0.11" stroke-width="0.74"/><line x1="370.7" y1="335.6" x2="357.5" y2="460.6" stroke="#5a4024" stroke-opacity="0.14" stroke-width="0.37"/><line x1="330.4" y1="387.0" x2="323.5" y2="511.9" stroke="#5a4024" stroke-opacity="0.18" stroke-width="1.01"/><line x1="378.7" y1="325.4" x2="364.4" y2="450.2" stroke="#907048" stroke-opacity="0.26" stroke-width="1.00"/><line x1="370.9" y1="335.4" x2="357.6" y2="460.4" stroke="#907048" stroke-opacity="0.29" stroke-width="0.96"/><line x1="374.7" y1="330.5" x2="361.0" y2="455.4" stroke="#907048" stroke-opacity="0.22" stroke-width="0.41"/><line x1="330.0" y1="387.4" x2="323.2" y2="512.3" stroke="#907048" stroke-opacity="0.11" stroke-width="0.73"/><line x1="347.8" y1="364.8" x2="338.0" y2="489.9" stroke="#5a4024" stroke-opacity="0.25" stroke-width="0.92"/><line x1="339.6" y1="375.3" x2="331.1" y2="500.3" stroke="#907048" stroke-opacity="0.08" stroke-width="0.53"/><line x1="348.8" y1="363.5" x2="338.9" y2="488.6" stroke="#5a4024" stroke-opacity="0.23" stroke-width="0.79"/><line x1="375.2" y1="329.9" x2="361.3" y2="454.8" stroke="#5a4024" stroke-opacity="0.28" stroke-width="0.99"/><line x1="366.2" y1="341.3" x2="353.7" y2="466.3" stroke="#907048" stroke-opacity="0.09" stroke-width="1.08"/><line x1="319.0" y1="401.5" x2="314.0" y2="526.1" stroke="#5a4024" stroke-opacity="0.28" stroke-width="0.61"/><line x1="336.6" y1="379.1" x2="328.6" y2="504.1" stroke="#907048" stroke-opacity="0.17" stroke-width="0.94"/><line x1="347.7" y1="365.0" x2="337.9" y2="490.1" stroke="#907048" stroke-opacity="0.16" stroke-width="0.93"/><line x1="333.5" y1="383.0" x2="326.0" y2="508.0" stroke="#5a4024" stroke-opacity="0.16" stroke-width="0.55"/><line x1="369.3" y1="337.4" x2="356.3" y2="462.4" stroke="#5a4024" stroke-opacity="0.26" stroke-width="0.87"/><line x1="361.0" y1="347.9" x2="349.2" y2="473.0" stroke="#5a4024" stroke-opacity="0.11" stroke-width="0.37"/><line x1="339.6" y1="375.2" x2="331.2" y2="500.2" stroke="#907048" stroke-opacity="0.12" stroke-width="0.54"/><line x1="316.4" y1="404.7" x2="311.9" y2="529.2" stroke="#5a4024" stroke-opacity="0.13" stroke-width="0.63"/><line x1="376.6" y1="328.1" x2="362.6" y2="453.0" stroke="#907048" stroke-opacity="0.20" stroke-width="0.79"/><line x1="321.1" y1="398.8" x2="315.7" y2="523.5" stroke="#907048" stroke-opacity="0.20" stroke-width="0.50"/><line x1="344.1" y1="369.4" x2="335.0" y2="494.5" stroke="#5a4024" stroke-opacity="0.28" stroke-width="0.75"/><polygon points="382.9,320.0 313.7,408.2 309.7,532.7 368.0,444.7" fill="url(#vshade)" stroke="#3c3c3c" stroke-width="0.8" stroke-linejoin="round"/><polygon points="394.4,339.3 373.2,332.3 359.7,457.3 377.1,464.3" fill="#b48650"/><line x1="391.8" y1="338.5" x2="375.0" y2="463.5" stroke="#e8bc7c" stroke-opacity="0.27" stroke-width="0.92"/><line x1="384.8" y1="336.1" x2="369.2" y2="461.1" stroke="#e8bc7c" stroke-opacity="0.22" stroke-width="0.73"/><line x1="388.9" y1="337.5" x2="372.6" y2="462.5" stroke="#a06c34" stroke-opacity="0.09" stroke-width="0.67"/><line x1="388.5" y1="337.4" x2="372.3" y2="462.4" stroke="#e8bc7c" stroke-opacity="0.09" stroke-width="0.53"/><line x1="377.3" y1="333.7" x2="363.0" y2="458.6" stroke="#a06c34" stroke-opacity="0.15" stroke-width="0.98"/><line x1="380.2" y1="334.6" x2="365.4" y2="459.6" stroke="#a06c34" stroke-opacity="0.22" stroke-width="1.07"/><line x1="374.5" y1="332.8" x2="360.7" y2="457.7" stroke="#a06c34" stroke-opacity="0.09" stroke-width="0.70"/><line x1="374.0" y1="332.6" x2="360.3" y2="457.5" stroke="#e8bc7c" stroke-opacity="0.21" stroke-width="0.46"/><line x1="378.1" y1="334.0" x2="363.7" y2="458.9" stroke="#a06c34" stroke-opacity="0.20" stroke-width="1.00"/><line x1="386.4" y1="336.7" x2="370.6" y2="461.7" stroke="#a06c34" stroke-opacity="0.27" stroke-width="0.93"/><line x1="391.7" y1="338.4" x2="374.9" y2="463.4" stroke="#a06c34" stroke-opacity="0.22" stroke-width="0.81"/><line x1="391.8" y1="338.5" x2="375.0" y2="463.5" stroke="#e8bc7c" stroke-opacity="0.26" stroke-width="0.76"/><line x1="375.2" y1="333.0" x2="361.3" y2="457.9" stroke="#e8bc7c" stroke-opacity="0.09" stroke-width="0.77"/><line x1="389.0" y1="337.5" x2="372.7" y2="462.5" stroke="#e8bc7c" stroke-opacity="0.09" stroke-width="0.37"/><line x1="388.3" y1="337.3" x2="372.1" y2="462.3" stroke="#a06c34" stroke-opacity="0.22" stroke-width="0.39"/><line x1="390.7" y1="338.1" x2="374.1" y2="463.1" stroke="#e8bc7c" stroke-opacity="0.29" stroke-width="0.45"/><line x1="378.2" y1="334.0" x2="363.8" y2="458.9" stroke="#a06c34" stroke-opacity="0.29" stroke-width="0.63"/><line x1="382.0" y1="335.2" x2="366.9" y2="460.2" stroke="#e8bc7c" stroke-opacity="0.25" stroke-width="0.41"/><line x1="390.2" y1="337.9" x2="373.7" y2="462.9" stroke="#a06c34" stroke-opacity="0.10" stroke-width="0.97"/><line x1="393.1" y1="338.9" x2="376.1" y2="463.9" stroke="#a06c34" stroke-opacity="0.24" stroke-width="0.56"/><line x1="392.2" y1="338.6" x2="375.3" y2="463.6" stroke="#a06c34" stroke-opacity="0.09" stroke-width="0.48"/><line x1="389.7" y1="337.8" x2="373.3" y2="462.8" stroke="#a06c34" stroke-opacity="0.14" stroke-width="0.57"/><line x1="376.2" y1="333.3" x2="362.2" y2="458.3" stroke="#a06c34" stroke-opacity="0.14" stroke-width="0.49"/><line x1="380.8" y1="334.8" x2="365.9" y2="459.8" stroke="#a06c34" stroke-opacity="0.26" stroke-width="0.53"/><line x1="391.0" y1="338.2" x2="374.4" y2="463.2" stroke="#a06c34" stroke-opacity="0.29" stroke-width="0.69"/><line x1="387.6" y1="337.1" x2="371.5" y2="462.1" stroke="#a06c34" stroke-opacity="0.09" stroke-width="0.50"/><polygon points="394.4,339.3 373.2,332.3 359.7,457.3 377.1,464.3" fill="url(#vshade)" stroke="#3c3c3c" stroke-width="0.8" stroke-linejoin="round"/><polygon points="475.5,379.3 474.1,380.5 441.6,505.6 442.8,504.4" fill="#75778f" stroke="#75778f" stroke-width="0.6" stroke-linejoin="round"/><polygon points="474.1,380.5 473.0,381.7 440.7,506.8 441.6,505.6" fill="#71738b" stroke="#71738b" stroke-width="0.6" stroke-linejoin="round"/><polygon points="473.0,381.7 472.1,382.9 439.9,507.9 440.7,506.8" fill="#6c6e86" stroke="#6c6e86" stroke-width="0.6" stroke-linejoin="round"/><polygon points="199.9,391.2 119.1,358.6 149.0,483.6 216.5,516.0" fill="url(#wallfront)" stroke="#3c3c3c" stroke-width="0.8" stroke-linejoin="round"/><polygon points="472.1,382.9 471.5,384.1 439.3,509.1 439.9,507.9" fill="#6a6c84" stroke="#6a6c84" stroke-width="0.6" stroke-linejoin="round"/><polygon points="471.5,384.1 471.0,385.3 438.9,510.3 439.3,509.1" fill="#6a6c84" stroke="#6a6c84" stroke-width="0.6" stroke-linejoin="round"/><polygon points="305.1,380.1 284.0,372.3 285.4,497.3 302.7,505.1" fill="#ce9a54"/><line x1="298.2" y1="377.5" x2="297.1" y2="502.6" stroke="#e8bc7c" stroke-opacity="0.25" stroke-width="0.52"/><line x1="288.5" y1="373.9" x2="289.1" y2="499.0" stroke="#a06c34" stroke-opacity="0.13" stroke-width="0.32"/><line x1="300.7" y1="378.5" x2="299.1" y2="503.5" stroke="#a06c34" stroke-opacity="0.27" stroke-width="0.77"/><line x1="287.4" y1="373.5" x2="288.2" y2="498.6" stroke="#a06c34" stroke-opacity="0.18" stroke-width="0.83"/><line x1="294.8" y1="376.3" x2="294.3" y2="501.3" stroke="#a06c34" stroke-opacity="0.16" stroke-width="0.37"/><line x1="296.6" y1="377.0" x2="295.8" y2="502.0" stroke="#a06c34" stroke-opacity="0.08" stroke-width="0.35"/><line x1="294.6" y1="376.2" x2="294.1" y2="501.3" stroke="#e8bc7c" stroke-opacity="0.22" stroke-width="0.59"/><line x1="284.8" y1="372.6" x2="286.0" y2="497.6" stroke="#a06c34" stroke-opacity="0.28" stroke-width="0.53"/><line x1="298.5" y1="377.7" x2="297.3" y2="502.7" stroke="#e8bc7c" stroke-opacity="0.15" stroke-width="0.30"/><line x1="293.6" y1="375.9" x2="293.3" y2="500.9" stroke="#e8bc7c" stroke-opacity="0.29" stroke-width="0.72"/><line x1="300.0" y1="378.2" x2="298.6" y2="503.2" stroke="#e8bc7c" stroke-opacity="0.23" stroke-width="0.32"/><line x1="293.8" y1="375.9" x2="293.4" y2="500.9" stroke="#a06c34" stroke-opacity="0.15" stroke-width="0.39"/><line x1="296.2" y1="376.8" x2="295.4" y2="501.8" stroke="#a06c34" stroke-opacity="0.12" stroke-width="0.97"/><line x1="295.7" y1="376.6" x2="295.0" y2="501.6" stroke="#a06c34" stroke-opacity="0.23" stroke-width="0.46"/><line x1="297.2" y1="377.2" x2="296.3" y2="502.2" stroke="#e8bc7c" stroke-opacity="0.16" stroke-width="0.31"/><line x1="291.6" y1="375.1" x2="291.7" y2="500.2" stroke="#e8bc7c" stroke-opacity="0.10" stroke-width="0.95"/><line x1="301.9" y1="378.9" x2="300.1" y2="503.9" stroke="#a06c34" stroke-opacity="0.24" stroke-width="0.77"/><line x1="300.2" y1="378.3" x2="298.7" y2="503.3" stroke="#a06c34" stroke-opacity="0.08" stroke-width="0.70"/><line x1="288.9" y1="374.1" x2="289.4" y2="499.1" stroke="#a06c34" stroke-opacity="0.09" stroke-width="0.64"/><line x1="303.0" y1="379.3" x2="301.0" y2="504.3" stroke="#a06c34" stroke-opacity="0.26" stroke-width="0.88"/><line x1="304.4" y1="379.9" x2="302.2" y2="504.9" stroke="#e8bc7c" stroke-opacity="0.26" stroke-width="0.96"/><line x1="303.3" y1="379.5" x2="301.3" y2="504.5" stroke="#a06c34" stroke-opacity="0.28" stroke-width="0.91"/><line x1="299.7" y1="378.1" x2="298.3" y2="503.1" stroke="#e8bc7c" stroke-opacity="0.24" stroke-width="0.56"/><line x1="285.9" y1="373.0" x2="287.0" y2="498.1" stroke="#e8bc7c" stroke-opacity="0.24" stroke-width="1.06"/><line x1="291.9" y1="375.2" x2="291.9" y2="500.3" stroke="#e8bc7c" stroke-opacity="0.19" stroke-width="0.43"/><polygon points="305.1,380.1 284.0,372.3 285.4,497.3 302.7,505.1" fill="url(#vshade)" stroke="#3c3c3c" stroke-width="0.8" stroke-linejoin="round"/><polygon points="284.0,372.3 268.0,390.5 272.3,515.3 285.4,497.3" fill="#785a36"/><line x1="280.6" y1="376.2" x2="282.6" y2="501.2" stroke="#5a4024" stroke-opacity="0.17" stroke-width="0.74"/><line x1="270.4" y1="387.8" x2="274.2" y2="512.7" stroke="#5a4024" stroke-opacity="0.15" stroke-width="0.75"/><line x1="280.0" y1="376.9" x2="282.1" y2="502.0" stroke="#5a4024" stroke-opacity="0.24" stroke-width="0.49"/><line x1="273.7" y1="384.0" x2="277.0" y2="509.0" stroke="#5a4024" stroke-opacity="0.14" stroke-width="1.09"/><line x1="281.7" y1="375.0" x2="283.5" y2="500.0" stroke="#5a4024" stroke-opacity="0.17" stroke-width="0.56"/><line x1="270.7" y1="387.4" x2="274.5" y2="512.3" stroke="#907048" stroke-opacity="0.23" stroke-width="0.77"/><line x1="273.0" y1="384.8" x2="276.4" y2="509.8" stroke="#907048" stroke-opacity="0.18" stroke-width="0.90"/><line x1="279.4" y1="377.6" x2="281.6" y2="502.6" stroke="#5a4024" stroke-opacity="0.24" stroke-width="0.66"/><line x1="280.3" y1="376.5" x2="282.4" y2="501.5" stroke="#5a4024" stroke-opacity="0.24" stroke-width="0.95"/><line x1="279.8" y1="377.1" x2="281.9" y2="502.2" stroke="#5a4024" stroke-opacity="0.13" stroke-width="0.55"/><line x1="275.9" y1="381.5" x2="278.8" y2="506.5" stroke="#5a4024" stroke-opacity="0.14" stroke-width="0.69"/><line x1="268.5" y1="390.0" x2="272.7" y2="514.8" stroke="#5a4024" stroke-opacity="0.20" stroke-width="0.40"/><line x1="274.8" y1="382.8" x2="277.9" y2="507.7" stroke="#5a4024" stroke-opacity="0.13" stroke-width="0.74"/><line x1="270.5" y1="387.7" x2="274.3" y2="512.6" stroke="#907048" stroke-opacity="0.23" stroke-width="1.00"/><line x1="270.1" y1="388.1" x2="274.0" y2="513.0" stroke="#5a4024" stroke-opacity="0.22" stroke-width="1.03"/><line x1="268.6" y1="389.9" x2="272.8" y2="514.7" stroke="#907048" stroke-opacity="0.13" stroke-width="0.61"/><line x1="281.9" y1="374.7" x2="283.7" y2="499.8" stroke="#907048" stroke-opacity="0.19" stroke-width="0.34"/><line x1="271.7" y1="386.3" x2="275.3" y2="511.2" stroke="#5a4024" stroke-opacity="0.08" stroke-width="0.38"/><line x1="276.6" y1="380.7" x2="279.4" y2="505.7" stroke="#5a4024" stroke-opacity="0.11" stroke-width="0.81"/><line x1="270.1" y1="388.1" x2="274.0" y2="513.0" stroke="#907048" stroke-opacity="0.09" stroke-width="0.74"/><line x1="282.9" y1="373.6" x2="284.5" y2="498.7" stroke="#907048" stroke-opacity="0.11" stroke-width="0.75"/><line x1="270.5" y1="387.7" x2="274.3" y2="512.6" stroke="#907048" stroke-opacity="0.17" stroke-width="1.01"/><line x1="272.4" y1="385.5" x2="275.9" y2="510.4" stroke="#5a4024" stroke-opacity="0.17" stroke-width="1.01"/><line x1="281.2" y1="375.5" x2="283.1" y2="500.5" stroke="#907048" stroke-opacity="0.24" stroke-width="0.55"/><line x1="274.3" y1="383.4" x2="277.4" y2="508.3" stroke="#907048" stroke-opacity="0.12" stroke-width="0.32"/><line x1="273.9" y1="383.8" x2="277.1" y2="508.8" stroke="#907048" stroke-opacity="0.24" stroke-width="0.92"/><line x1="282.3" y1="374.2" x2="284.0" y2="499.3" stroke="#5a4024" stroke-opacity="0.11" stroke-width="0.45"/><line x1="268.6" y1="389.9" x2="272.8" y2="514.7" stroke="#5a4024" stroke-opacity="0.08" stroke-width="1.09"/><line x1="280.4" y1="376.5" x2="282.4" y2="501.5" stroke="#907048" stroke-opacity="0.23" stroke-width="0.32"/><line x1="277.2" y1="380.1" x2="279.8" y2="505.0" stroke="#5a4024" stroke-opacity="0.13" stroke-width="0.42"/><line x1="272.4" y1="385.6" x2="275.9" y2="510.5" stroke="#907048" stroke-opacity="0.29" stroke-width="0.96"/><line x1="282.6" y1="373.9" x2="284.2" y2="499.0" stroke="#5a4024" stroke-opacity="0.18" stroke-width="0.53"/><line x1="270.2" y1="388.0" x2="274.1" y2="512.9" stroke="#907048" stroke-opacity="0.09" stroke-width="0.52"/><polygon points="284.0,372.3 268.0,390.5 272.3,515.3 285.4,497.3" fill="url(#vshade)" stroke="#3c3c3c" stroke-width="0.8" stroke-linejoin="round"/><polygon points="237.3,389.6 212.2,379.6 226.3,504.6 247.2,514.4" fill="#ce9a54"/><line x1="230.3" y1="386.8" x2="241.3" y2="511.7" stroke="#a06c34" stroke-opacity="0.28" stroke-width="0.56"/><line x1="213.2" y1="380.1" x2="227.2" y2="505.0" stroke="#a06c34" stroke-opacity="0.15" stroke-width="0.65"/><line x1="212.8" y1="379.9" x2="226.9" y2="504.9" stroke="#e8bc7c" stroke-opacity="0.09" stroke-width="1.07"/><line x1="233.3" y1="388.0" x2="243.8" y2="512.8" stroke="#a06c34" stroke-opacity="0.15" stroke-width="0.56"/><line x1="214.9" y1="380.8" x2="228.7" y2="505.7" stroke="#a06c34" stroke-opacity="0.19" stroke-width="0.80"/><line x1="219.5" y1="382.5" x2="232.4" y2="507.5" stroke="#e8bc7c" stroke-opacity="0.21" stroke-width="0.92"/><line x1="219.1" y1="382.4" x2="232.1" y2="507.3" stroke="#a06c34" stroke-opacity="0.11" stroke-width="0.40"/><line x1="212.6" y1="379.8" x2="226.7" y2="504.8" stroke="#e8bc7c" stroke-opacity="0.18" stroke-width="1.06"/><line x1="218.5" y1="382.2" x2="231.6" y2="507.1" stroke="#a06c34" stroke-opacity="0.20" stroke-width="0.88"/><line x1="227.7" y1="385.8" x2="239.2" y2="510.7" stroke="#a06c34" stroke-opacity="0.28" stroke-width="1.01"/><line x1="229.5" y1="386.5" x2="240.7" y2="511.4" stroke="#a06c34" stroke-opacity="0.26" stroke-width="0.74"/><line x1="237.0" y1="389.5" x2="246.9" y2="514.3" stroke="#a06c34" stroke-opacity="0.17" stroke-width="1.04"/><line x1="213.8" y1="380.3" x2="227.7" y2="505.2" stroke="#a06c34" stroke-opacity="0.13" stroke-width="0.69"/><line x1="216.2" y1="381.3" x2="229.7" y2="506.2" stroke="#e8bc7c" stroke-opacity="0.20" stroke-width="0.48"/><line x1="212.9" y1="379.9" x2="227.0" y2="504.9" stroke="#a06c34" stroke-opacity="0.13" stroke-width="0.52"/><line x1="219.5" y1="382.6" x2="232.5" y2="507.5" stroke="#e8bc7c" stroke-opacity="0.26" stroke-width="1.01"/><line x1="228.9" y1="386.2" x2="240.2" y2="511.1" stroke="#a06c34" stroke-opacity="0.26" stroke-width="0.43"/><line x1="230.0" y1="386.7" x2="241.1" y2="511.5" stroke="#a06c34" stroke-opacity="0.17" stroke-width="0.68"/><line x1="224.0" y1="384.3" x2="236.1" y2="509.2" stroke="#e8bc7c" stroke-opacity="0.30" stroke-width="0.90"/><line x1="222.0" y1="383.5" x2="234.5" y2="508.5" stroke="#a06c34" stroke-opacity="0.23" stroke-width="0.72"/><line x1="226.3" y1="385.2" x2="238.0" y2="510.1" stroke="#e8bc7c" stroke-opacity="0.15" stroke-width="0.48"/><line x1="221.5" y1="383.3" x2="234.1" y2="508.3" stroke="#a06c34" stroke-opacity="0.17" stroke-width="1.03"/><line x1="232.8" y1="387.8" x2="243.4" y2="512.7" stroke="#a06c34" stroke-opacity="0.22" stroke-width="0.75"/><line x1="234.6" y1="388.5" x2="244.9" y2="513.4" stroke="#a06c34" stroke-opacity="0.19" stroke-width="1.08"/><line x1="234.9" y1="388.6" x2="245.1" y2="513.4" stroke="#a06c34" stroke-opacity="0.11" stroke-width="0.80"/><line x1="236.1" y1="389.1" x2="246.1" y2="513.9" stroke="#a06c34" stroke-opacity="0.10" stroke-width="0.50"/><line x1="224.9" y1="384.7" x2="236.9" y2="509.6" stroke="#a06c34" stroke-opacity="0.19" stroke-width="0.32"/><line x1="216.4" y1="381.3" x2="229.8" y2="506.3" stroke="#a06c34" stroke-opacity="0.22" stroke-width="0.64"/><line x1="235.6" y1="388.9" x2="245.7" y2="513.7" stroke="#a06c34" stroke-opacity="0.25" stroke-width="0.31"/><line x1="213.7" y1="380.2" x2="227.6" y2="505.2" stroke="#e8bc7c" stroke-opacity="0.29" stroke-width="0.70"/><line x1="218.5" y1="382.2" x2="231.6" y2="507.1" stroke="#a06c34" stroke-opacity="0.15" stroke-width="0.59"/><line x1="223.4" y1="384.1" x2="235.7" y2="509.0" stroke="#a06c34" stroke-opacity="0.29" stroke-width="0.88"/><polygon points="237.3,389.6 212.2,379.6 226.3,504.6 247.2,514.4" fill="url(#vshade)" stroke="#3c3c3c" stroke-width="0.8" stroke-linejoin="round"/><polygon points="268.0,390.5 244.8,381.5 253.2,506.5 272.3,515.3" fill="#ce9a54"/><line x1="245.2" y1="381.7" x2="253.5" y2="506.6" stroke="#a06c34" stroke-opacity="0.20" stroke-width="0.52"/><line x1="265.2" y1="389.4" x2="270.0" y2="514.3" stroke="#e8bc7c" stroke-opacity="0.20" stroke-width="0.61"/><line x1="246.0" y1="382.0" x2="254.2" y2="506.9" stroke="#e8bc7c" stroke-opacity="0.28" stroke-width="0.94"/><line x1="264.1" y1="389.0" x2="269.1" y2="513.8" stroke="#a06c34" stroke-opacity="0.26" stroke-width="0.67"/><line x1="260.2" y1="387.5" x2="265.9" y2="512.3" stroke="#e8bc7c" stroke-opacity="0.30" stroke-width="0.62"/><line x1="255.4" y1="385.6" x2="262.0" y2="510.6" stroke="#a06c34" stroke-opacity="0.16" stroke-width="0.41"/><line x1="250.8" y1="383.9" x2="258.2" y2="508.8" stroke="#e8bc7c" stroke-opacity="0.23" stroke-width="0.63"/><line x1="267.9" y1="390.5" x2="272.3" y2="515.3" stroke="#a06c34" stroke-opacity="0.15" stroke-width="1.02"/><line x1="248.8" y1="383.1" x2="256.5" y2="508.0" stroke="#e8bc7c" stroke-opacity="0.18" stroke-width="0.83"/><line x1="250.6" y1="383.8" x2="258.0" y2="508.7" stroke="#e8bc7c" stroke-opacity="0.30" stroke-width="0.47"/><line x1="251.8" y1="384.2" x2="259.0" y2="509.2" stroke="#a06c34" stroke-opacity="0.25" stroke-width="0.58"/><line x1="245.9" y1="382.0" x2="254.1" y2="506.9" stroke="#a06c34" stroke-opacity="0.15" stroke-width="0.50"/><line x1="267.8" y1="390.4" x2="272.2" y2="515.3" stroke="#e8bc7c" stroke-opacity="0.09" stroke-width="0.76"/><line x1="266.6" y1="390.0" x2="271.2" y2="514.8" stroke="#e8bc7c" stroke-opacity="0.10" stroke-width="0.43"/><line x1="257.6" y1="386.5" x2="263.8" y2="511.4" stroke="#e8bc7c" stroke-opacity="0.16" stroke-width="0.81"/><line x1="263.2" y1="388.6" x2="268.3" y2="513.5" stroke="#a06c34" stroke-opacity="0.08" stroke-width="0.80"/><line x1="251.7" y1="384.2" x2="258.9" y2="509.1" stroke="#a06c34" stroke-opacity="0.19" stroke-width="0.59"/><line x1="256.8" y1="386.2" x2="263.1" y2="511.1" stroke="#a06c34" stroke-opacity="0.11" stroke-width="0.94"/><line x1="259.8" y1="387.3" x2="265.6" y2="512.2" stroke="#a06c34" stroke-opacity="0.16" stroke-width="0.83"/><line x1="262.2" y1="388.3" x2="267.5" y2="513.1" stroke="#a06c34" stroke-opacity="0.25" stroke-width="0.78"/><line x1="258.2" y1="386.7" x2="264.3" y2="511.6" stroke="#a06c34" stroke-opacity="0.16" stroke-width="0.80"/><line x1="258.5" y1="386.8" x2="264.5" y2="511.7" stroke="#a06c34" stroke-opacity="0.09" stroke-width="0.63"/><line x1="250.5" y1="383.8" x2="257.9" y2="508.7" stroke="#e8bc7c" stroke-opacity="0.17" stroke-width="0.73"/><line x1="246.9" y1="382.3" x2="254.9" y2="507.3" stroke="#a06c34" stroke-opacity="0.09" stroke-width="1.05"/><line x1="257.7" y1="386.5" x2="263.8" y2="511.4" stroke="#a06c34" stroke-opacity="0.20" stroke-width="0.97"/><line x1="247.0" y1="382.4" x2="255.0" y2="507.3" stroke="#e8bc7c" stroke-opacity="0.27" stroke-width="0.46"/><line x1="254.6" y1="385.3" x2="261.3" y2="510.2" stroke="#e8bc7c" stroke-opacity="0.14" stroke-width="1.07"/><line x1="252.4" y1="384.5" x2="259.5" y2="509.4" stroke="#a06c34" stroke-opacity="0.12" stroke-width="0.74"/><polygon points="268.0,390.5 244.8,381.5 253.2,506.5 272.3,515.3" fill="url(#vshade)" stroke="#3c3c3c" stroke-width="0.8" stroke-linejoin="round"/><polygon points="476.1,416.4 475.5,418.4 441.1,542.6 441.7,540.6" fill="#6a6c84" stroke="#6a6c84" stroke-width="0.6" stroke-linejoin="round"/><polygon points="475.5,418.4 474.7,420.3 440.4,544.4 441.1,542.6" fill="#6a6c84" stroke="#6a6c84" stroke-width="0.6" stroke-linejoin="round"/><polygon points="474.7,420.3 473.8,421.9 439.6,545.9 440.4,544.4" fill="#6a6c84" stroke="#6a6c84" stroke-width="0.6" stroke-linejoin="round"/><polygon points="457.5,429.5 338.8,385.8 330.4,510.7 426.1,553.3" fill="url(#doorfront)" stroke="#3c3c3c" stroke-width="0.8" stroke-linejoin="round"/><polygon points="473.8,421.9 472.7,423.2 438.6,547.3 439.6,545.9" fill="#70728a" stroke="#70728a" stroke-width="0.6" stroke-linejoin="round"/><polygon points="472.7,423.2 471.3,424.4 437.5,548.4 438.6,547.3" fill="#777992" stroke="#777992" stroke-width="0.6" stroke-linejoin="round"/><polygon points="302.6,383.1 270.9,421.1 274.8,545.1 300.7,508.0" fill="#785a36"/><line x1="295.6" y1="391.5" x2="294.9" y2="516.3" stroke="#5a4024" stroke-opacity="0.17" stroke-width="0.67"/><line x1="296.5" y1="390.3" x2="295.7" y2="515.2" stroke="#5a4024" stroke-opacity="0.11" stroke-width="0.75"/><line x1="284.9" y1="404.3" x2="286.2" y2="528.8" stroke="#5a4024" stroke-opacity="0.18" stroke-width="0.88"/><line x1="289.3" y1="399.0" x2="289.8" y2="523.7" stroke="#5a4024" stroke-opacity="0.21" stroke-width="0.95"/><line x1="290.2" y1="397.9" x2="290.5" y2="522.6" stroke="#5a4024" stroke-opacity="0.26" stroke-width="1.01"/><line x1="271.4" y1="420.4" x2="275.3" y2="544.5" stroke="#5a4024" stroke-opacity="0.11" stroke-width="1.01"/><line x1="276.7" y1="414.2" x2="279.5" y2="538.4" stroke="#5a4024" stroke-opacity="0.26" stroke-width="0.43"/><line x1="290.9" y1="397.1" x2="291.1" y2="521.8" stroke="#5a4024" stroke-opacity="0.28" stroke-width="0.56"/><line x1="294.5" y1="392.8" x2="294.0" y2="517.6" stroke="#907048" stroke-opacity="0.12" stroke-width="1.04"/><line x1="272.0" y1="419.7" x2="275.7" y2="543.8" stroke="#907048" stroke-opacity="0.20" stroke-width="0.42"/><line x1="290.6" y1="397.5" x2="290.8" y2="522.2" stroke="#5a4024" stroke-opacity="0.15" stroke-width="0.35"/><line x1="284.3" y1="405.0" x2="285.7" y2="529.5" stroke="#5a4024" stroke-opacity="0.08" stroke-width="0.60"/><line x1="299.7" y1="386.5" x2="298.3" y2="511.4" stroke="#5a4024" stroke-opacity="0.20" stroke-width="0.30"/><line x1="298.6" y1="387.9" x2="297.4" y2="512.8" stroke="#5a4024" stroke-opacity="0.16" stroke-width="0.63"/><line x1="301.5" y1="384.5" x2="299.7" y2="509.4" stroke="#5a4024" stroke-opacity="0.14" stroke-width="0.69"/><line x1="301.6" y1="384.2" x2="299.9" y2="509.2" stroke="#907048" stroke-opacity="0.11" stroke-width="1.04"/><line x1="295.1" y1="392.1" x2="294.5" y2="516.9" stroke="#5a4024" stroke-opacity="0.13" stroke-width="0.91"/><line x1="285.3" y1="403.8" x2="286.5" y2="528.3" stroke="#907048" stroke-opacity="0.27" stroke-width="0.68"/><line x1="289.9" y1="398.3" x2="290.3" y2="522.9" stroke="#5a4024" stroke-opacity="0.23" stroke-width="0.39"/><line x1="286.5" y1="402.4" x2="287.5" y2="527.0" stroke="#907048" stroke-opacity="0.11" stroke-width="0.74"/><line x1="288.5" y1="400.0" x2="289.1" y2="524.6" stroke="#5a4024" stroke-opacity="0.27" stroke-width="1.09"/><line x1="299.5" y1="386.8" x2="298.1" y2="511.7" stroke="#5a4024" stroke-opacity="0.22" stroke-width="0.60"/><line x1="300.1" y1="386.1" x2="298.6" y2="511.0" stroke="#5a4024" stroke-opacity="0.16" stroke-width="0.71"/><line x1="281.2" y1="408.7" x2="283.2" y2="533.2" stroke="#5a4024" stroke-opacity="0.20" stroke-width="0.55"/><line x1="285.6" y1="403.4" x2="286.8" y2="528.0" stroke="#907048" stroke-opacity="0.22" stroke-width="1.05"/><line x1="298.4" y1="388.1" x2="297.2" y2="513.0" stroke="#5a4024" stroke-opacity="0.26" stroke-width="0.50"/><line x1="299.1" y1="387.3" x2="297.8" y2="512.2" stroke="#907048" stroke-opacity="0.09" stroke-width="0.88"/><line x1="289.9" y1="398.3" x2="290.3" y2="523.0" stroke="#5a4024" stroke-opacity="0.25" stroke-width="0.54"/><line x1="282.3" y1="407.4" x2="284.0" y2="531.9" stroke="#907048" stroke-opacity="0.14" stroke-width="0.46"/><line x1="296.6" y1="390.3" x2="295.7" y2="515.1" stroke="#5a4024" stroke-opacity="0.22" stroke-width="0.38"/><line x1="297.0" y1="389.8" x2="296.1" y2="514.6" stroke="#5a4024" stroke-opacity="0.08" stroke-width="0.83"/><line x1="293.1" y1="394.5" x2="292.9" y2="519.2" stroke="#5a4024" stroke-opacity="0.15" stroke-width="1.02"/><line x1="275.5" y1="415.5" x2="278.6" y2="539.8" stroke="#907048" stroke-opacity="0.29" stroke-width="0.53"/><line x1="281.8" y1="408.0" x2="283.7" y2="532.4" stroke="#5a4024" stroke-opacity="0.25" stroke-width="0.45"/><line x1="272.0" y1="419.7" x2="275.8" y2="543.8" stroke="#5a4024" stroke-opacity="0.20" stroke-width="0.47"/><line x1="278.1" y1="412.4" x2="280.7" y2="536.7" stroke="#907048" stroke-opacity="0.21" stroke-width="0.35"/><line x1="299.3" y1="387.0" x2="298.0" y2="511.9" stroke="#5a4024" stroke-opacity="0.13" stroke-width="0.93"/><line x1="300.8" y1="385.3" x2="299.2" y2="510.2" stroke="#907048" stroke-opacity="0.20" stroke-width="0.34"/><line x1="273.1" y1="418.4" x2="276.6" y2="542.6" stroke="#907048" stroke-opacity="0.10" stroke-width="0.32"/><line x1="302.0" y1="383.9" x2="300.2" y2="508.8" stroke="#5a4024" stroke-opacity="0.20" stroke-width="0.81"/><line x1="294.1" y1="393.3" x2="293.7" y2="518.1" stroke="#5a4024" stroke-opacity="0.23" stroke-width="0.68"/><line x1="299.1" y1="387.3" x2="297.8" y2="512.2" stroke="#5a4024" stroke-opacity="0.15" stroke-width="0.84"/><line x1="289.2" y1="399.1" x2="289.7" y2="523.8" stroke="#907048" stroke-opacity="0.18" stroke-width="1.04"/><line x1="299.7" y1="386.5" x2="298.3" y2="511.4" stroke="#5a4024" stroke-opacity="0.12" stroke-width="0.39"/><line x1="290.1" y1="398.0" x2="290.5" y2="522.7" stroke="#907048" stroke-opacity="0.18" stroke-width="0.61"/><line x1="273.6" y1="417.9" x2="277.0" y2="542.0" stroke="#5a4024" stroke-opacity="0.16" stroke-width="0.68"/><line x1="284.1" y1="405.2" x2="285.6" y2="529.7" stroke="#907048" stroke-opacity="0.09" stroke-width="0.34"/><line x1="294.1" y1="393.2" x2="293.7" y2="518.0" stroke="#5a4024" stroke-opacity="0.25" stroke-width="1.02"/><line x1="292.3" y1="395.4" x2="292.2" y2="520.1" stroke="#907048" stroke-opacity="0.08" stroke-width="0.40"/><line x1="288.9" y1="399.5" x2="289.4" y2="524.2" stroke="#907048" stroke-opacity="0.11" stroke-width="1.05"/><line x1="297.8" y1="388.9" x2="296.7" y2="513.7" stroke="#5a4024" stroke-opacity="0.22" stroke-width="0.66"/><line x1="290.8" y1="397.2" x2="291.0" y2="521.9" stroke="#5a4024" stroke-opacity="0.29" stroke-width="0.41"/><line x1="296.0" y1="391.0" x2="295.2" y2="515.8" stroke="#5a4024" stroke-opacity="0.23" stroke-width="0.63"/><line x1="292.3" y1="395.5" x2="292.2" y2="520.2" stroke="#5a4024" stroke-opacity="0.20" stroke-width="0.56"/><line x1="283.1" y1="406.5" x2="284.7" y2="530.9" stroke="#5a4024" stroke-opacity="0.08" stroke-width="0.50"/><line x1="276.6" y1="414.3" x2="279.4" y2="538.5" stroke="#907048" stroke-opacity="0.27" stroke-width="0.58"/><line x1="302.4" y1="383.3" x2="300.5" y2="508.3" stroke="#5a4024" stroke-opacity="0.14" stroke-width="0.60"/><line x1="285.7" y1="403.4" x2="286.8" y2="527.9" stroke="#5a4024" stroke-opacity="0.23" stroke-width="0.70"/><line x1="292.8" y1="394.8" x2="292.7" y2="519.5" stroke="#5a4024" stroke-opacity="0.13" stroke-width="0.83"/><line x1="285.3" y1="403.8" x2="286.5" y2="528.4" stroke="#907048" stroke-opacity="0.21" stroke-width="0.94"/><line x1="284.3" y1="405.0" x2="285.7" y2="529.5" stroke="#907048" stroke-opacity="0.11" stroke-width="0.44"/><line x1="289.9" y1="398.3" x2="290.2" y2="523.0" stroke="#5a4024" stroke-opacity="0.18" stroke-width="0.31"/><line x1="281.0" y1="408.9" x2="283.0" y2="533.3" stroke="#907048" stroke-opacity="0.13" stroke-width="0.95"/><line x1="276.2" y1="414.7" x2="279.2" y2="538.9" stroke="#907048" stroke-opacity="0.15" stroke-width="0.77"/><line x1="289.0" y1="399.4" x2="289.5" y2="524.0" stroke="#5a4024" stroke-opacity="0.13" stroke-width="0.74"/><polygon points="302.6,383.1 270.9,421.1 274.8,545.1 300.7,508.0" fill="url(#vshade)" stroke="#3c3c3c" stroke-width="0.8" stroke-linejoin="round"/><polygon points="471.3,424.4 469.7,425.4 436.1,549.3 437.5,548.4" fill="#7d8098" stroke="#7d8098" stroke-width="0.6" stroke-linejoin="round"/><polygon points="313.7,408.2 289.5,398.8 289.9,523.5 309.7,532.7" fill="#ce9a54"/><line x1="303.7" y1="404.3" x2="301.6" y2="528.9" stroke="#e8bc7c" stroke-opacity="0.14" stroke-width="0.42"/><line x1="303.3" y1="404.2" x2="301.2" y2="528.7" stroke="#a06c34" stroke-opacity="0.15" stroke-width="0.32"/><line x1="300.9" y1="403.3" x2="299.3" y2="527.8" stroke="#a06c34" stroke-opacity="0.18" stroke-width="0.53"/><line x1="299.8" y1="402.8" x2="298.3" y2="527.4" stroke="#e8bc7c" stroke-opacity="0.10" stroke-width="0.43"/><line x1="302.5" y1="403.9" x2="300.5" y2="528.4" stroke="#e8bc7c" stroke-opacity="0.13" stroke-width="0.52"/><line x1="302.4" y1="403.8" x2="300.5" y2="528.4" stroke="#a06c34" stroke-opacity="0.18" stroke-width="0.67"/><line x1="296.4" y1="401.5" x2="295.5" y2="526.1" stroke="#e8bc7c" stroke-opacity="0.28" stroke-width="0.67"/><line x1="297.9" y1="402.1" x2="296.8" y2="526.7" stroke="#a06c34" stroke-opacity="0.20" stroke-width="0.49"/><line x1="292.0" y1="399.8" x2="292.0" y2="524.5" stroke="#e8bc7c" stroke-opacity="0.20" stroke-width="0.91"/><line x1="303.3" y1="404.2" x2="301.2" y2="528.7" stroke="#e8bc7c" stroke-opacity="0.19" stroke-width="0.94"/><line x1="300.3" y1="403.0" x2="298.7" y2="527.6" stroke="#e8bc7c" stroke-opacity="0.10" stroke-width="0.93"/><line x1="290.5" y1="399.2" x2="290.8" y2="523.9" stroke="#e8bc7c" stroke-opacity="0.08" stroke-width="1.10"/><line x1="292.1" y1="399.8" x2="292.0" y2="524.5" stroke="#e8bc7c" stroke-opacity="0.28" stroke-width="0.81"/><line x1="290.0" y1="399.0" x2="290.3" y2="523.7" stroke="#a06c34" stroke-opacity="0.21" stroke-width="0.40"/><line x1="301.4" y1="403.4" x2="299.6" y2="528.0" stroke="#e8bc7c" stroke-opacity="0.24" stroke-width="0.72"/><line x1="304.9" y1="404.8" x2="302.5" y2="529.3" stroke="#a06c34" stroke-opacity="0.16" stroke-width="0.69"/><line x1="310.3" y1="406.9" x2="306.9" y2="531.4" stroke="#e8bc7c" stroke-opacity="0.29" stroke-width="0.77"/><line x1="310.4" y1="406.9" x2="307.0" y2="531.4" stroke="#a06c34" stroke-opacity="0.10" stroke-width="0.33"/><line x1="294.4" y1="400.8" x2="294.0" y2="525.4" stroke="#e8bc7c" stroke-opacity="0.16" stroke-width="0.69"/><line x1="292.4" y1="400.0" x2="292.3" y2="524.6" stroke="#a06c34" stroke-opacity="0.28" stroke-width="0.96"/><line x1="302.3" y1="403.8" x2="300.4" y2="528.4" stroke="#a06c34" stroke-opacity="0.15" stroke-width="0.77"/><line x1="310.7" y1="407.0" x2="307.2" y2="531.5" stroke="#a06c34" stroke-opacity="0.28" stroke-width="0.87"/><line x1="308.6" y1="406.2" x2="305.5" y2="530.7" stroke="#e8bc7c" stroke-opacity="0.20" stroke-width="1.05"/><line x1="308.7" y1="406.3" x2="305.6" y2="530.8" stroke="#a06c34" stroke-opacity="0.29" stroke-width="0.82"/><line x1="309.1" y1="406.4" x2="305.9" y2="530.9" stroke="#a06c34" stroke-opacity="0.16" stroke-width="0.93"/><line x1="289.5" y1="398.8" x2="289.9" y2="523.5" stroke="#e8bc7c" stroke-opacity="0.25" stroke-width="0.72"/><line x1="305.6" y1="405.1" x2="303.1" y2="529.6" stroke="#a06c34" stroke-opacity="0.11" stroke-width="0.39"/><line x1="306.6" y1="405.5" x2="303.9" y2="530.0" stroke="#a06c34" stroke-opacity="0.27" stroke-width="0.70"/><polygon points="313.7,408.2 289.5,398.8 289.9,523.5 309.7,532.7" fill="url(#vshade)" stroke="#3c3c3c" stroke-width="0.8" stroke-linejoin="round"/><polygon points="469.7,425.4 468.1,426.2 434.8,550.1 436.1,549.3" fill="#82849c" stroke="#82849c" stroke-width="0.6" stroke-linejoin="round"/><polygon points="468.1,426.2 466.5,427.0 433.5,550.8 434.8,550.1" fill="#84869f" stroke="#84869f" stroke-width="0.6" stroke-linejoin="round"/><polygon points="466.5,427.0 465.0,427.6 432.3,551.5 433.5,550.8" fill="#84879f" stroke="#84879f" stroke-width="0.6" stroke-linejoin="round"/><polygon points="465.0,427.6 463.6,428.2 431.1,552.0 432.3,551.5" fill="#878aa2" stroke="#878aa2" stroke-width="0.6" stroke-linejoin="round"/><polygon points="463.6,428.2 462.1,428.6 429.9,552.4 431.1,552.0" fill="#8d90a8" stroke="#8d90a8" stroke-width="0.6" stroke-linejoin="round"/><polygon points="270.9,421.1 216.3,398.9 230.1,523.5 274.8,545.1" fill="#ce9a54"/><line x1="258.0" y1="415.8" x2="264.3" y2="540.0" stroke="#a06c34" stroke-opacity="0.19" stroke-width="0.87"/><line x1="224.6" y1="402.3" x2="236.9" y2="526.9" stroke="#a06c34" stroke-opacity="0.28" stroke-width="0.76"/><line x1="244.5" y1="410.4" x2="253.3" y2="534.7" stroke="#e8bc7c" stroke-opacity="0.11" stroke-width="0.46"/><line x1="229.0" y1="404.0" x2="240.5" y2="528.6" stroke="#a06c34" stroke-opacity="0.29" stroke-width="0.85"/><line x1="219.9" y1="400.4" x2="233.0" y2="525.0" stroke="#a06c34" stroke-opacity="0.09" stroke-width="0.86"/><line x1="236.0" y1="406.9" x2="246.3" y2="531.4" stroke="#a06c34" stroke-opacity="0.20" stroke-width="0.36"/><line x1="235.1" y1="406.5" x2="245.6" y2="531.0" stroke="#e8bc7c" stroke-opacity="0.19" stroke-width="0.87"/><line x1="219.1" y1="400.1" x2="232.4" y2="524.7" stroke="#e8bc7c" stroke-opacity="0.27" stroke-width="0.35"/><line x1="265.3" y1="418.8" x2="270.3" y2="542.9" stroke="#a06c34" stroke-opacity="0.19" stroke-width="0.59"/><line x1="262.2" y1="417.5" x2="267.7" y2="541.7" stroke="#a06c34" stroke-opacity="0.21" stroke-width="1.09"/><line x1="259.3" y1="416.3" x2="265.4" y2="540.5" stroke="#a06c34" stroke-opacity="0.28" stroke-width="0.79"/><line x1="237.6" y1="407.6" x2="247.6" y2="532.0" stroke="#a06c34" stroke-opacity="0.16" stroke-width="0.45"/><line x1="228.3" y1="403.8" x2="239.9" y2="528.3" stroke="#e8bc7c" stroke-opacity="0.29" stroke-width="0.72"/><line x1="261.4" y1="417.2" x2="267.1" y2="541.4" stroke="#e8bc7c" stroke-opacity="0.20" stroke-width="0.77"/><line x1="270.1" y1="420.7" x2="274.2" y2="544.8" stroke="#a06c34" stroke-opacity="0.27" stroke-width="0.74"/><line x1="252.3" y1="413.5" x2="259.6" y2="537.8" stroke="#a06c34" stroke-opacity="0.23" stroke-width="0.78"/><line x1="230.2" y1="404.5" x2="241.5" y2="529.1" stroke="#a06c34" stroke-opacity="0.26" stroke-width="0.65"/><line x1="245.1" y1="410.6" x2="253.8" y2="535.0" stroke="#a06c34" stroke-opacity="0.14" stroke-width="0.83"/><line x1="245.0" y1="410.6" x2="253.7" y2="534.9" stroke="#e8bc7c" stroke-opacity="0.11" stroke-width="0.45"/><line x1="262.8" y1="417.8" x2="268.2" y2="541.9" stroke="#e8bc7c" stroke-opacity="0.25" stroke-width="0.89"/><line x1="218.6" y1="399.8" x2="232.0" y2="524.5" stroke="#a06c34" stroke-opacity="0.27" stroke-width="0.58"/><line x1="241.4" y1="409.1" x2="250.7" y2="533.5" stroke="#e8bc7c" stroke-opacity="0.14" stroke-width="0.43"/><line x1="252.6" y1="413.6" x2="259.9" y2="537.9" stroke="#a06c34" stroke-opacity="0.20" stroke-width="0.61"/><line x1="228.0" y1="403.7" x2="239.7" y2="528.2" stroke="#a06c34" stroke-opacity="0.09" stroke-width="0.69"/><line x1="231.9" y1="405.2" x2="242.9" y2="529.7" stroke="#a06c34" stroke-opacity="0.11" stroke-width="0.39"/><line x1="222.4" y1="401.4" x2="235.1" y2="526.0" stroke="#e8bc7c" stroke-opacity="0.20" stroke-width="0.98"/><line x1="262.9" y1="417.8" x2="268.3" y2="542.0" stroke="#a06c34" stroke-opacity="0.26" stroke-width="0.50"/><line x1="242.8" y1="409.6" x2="251.9" y2="534.0" stroke="#e8bc7c" stroke-opacity="0.19" stroke-width="1.01"/><line x1="233.7" y1="406.0" x2="244.4" y2="530.4" stroke="#e8bc7c" stroke-opacity="0.13" stroke-width="0.64"/><line x1="253.0" y1="413.8" x2="260.3" y2="538.1" stroke="#e8bc7c" stroke-opacity="0.21" stroke-width="0.61"/><line x1="264.2" y1="418.3" x2="269.4" y2="542.4" stroke="#a06c34" stroke-opacity="0.18" stroke-width="0.36"/><line x1="239.4" y1="408.3" x2="249.1" y2="532.7" stroke="#a06c34" stroke-opacity="0.14" stroke-width="0.83"/><line x1="256.1" y1="415.1" x2="262.8" y2="539.3" stroke="#a06c34" stroke-opacity="0.29" stroke-width="0.90"/><line x1="264.0" y1="418.3" x2="269.2" y2="542.4" stroke="#a06c34" stroke-opacity="0.18" stroke-width="0.91"/><line x1="256.7" y1="415.3" x2="263.3" y2="539.5" stroke="#e8bc7c" stroke-opacity="0.22" stroke-width="0.76"/><line x1="260.0" y1="416.6" x2="265.9" y2="540.8" stroke="#e8bc7c" stroke-opacity="0.25" stroke-width="0.53"/><line x1="242.0" y1="409.3" x2="251.2" y2="533.7" stroke="#e8bc7c" stroke-opacity="0.15" stroke-width="0.88"/><line x1="269.4" y1="420.5" x2="273.6" y2="544.5" stroke="#e8bc7c" stroke-opacity="0.24" stroke-width="1.00"/><line x1="238.6" y1="408.0" x2="248.5" y2="532.4" stroke="#a06c34" stroke-opacity="0.19" stroke-width="1.08"/><line x1="224.6" y1="402.3" x2="236.9" y2="526.8" stroke="#a06c34" stroke-opacity="0.27" stroke-width="0.75"/><line x1="240.7" y1="408.8" x2="250.2" y2="533.2" stroke="#a06c34" stroke-opacity="0.08" stroke-width="0.40"/><line x1="249.2" y1="412.3" x2="257.1" y2="536.6" stroke="#e8bc7c" stroke-opacity="0.09" stroke-width="0.95"/><line x1="257.7" y1="415.7" x2="264.1" y2="539.9" stroke="#a06c34" stroke-opacity="0.11" stroke-width="0.38"/><line x1="265.9" y1="419.0" x2="270.7" y2="543.1" stroke="#a06c34" stroke-opacity="0.18" stroke-width="1.04"/><line x1="266.3" y1="419.2" x2="271.1" y2="543.3" stroke="#a06c34" stroke-opacity="0.20" stroke-width="0.44"/><line x1="233.2" y1="405.7" x2="244.0" y2="530.2" stroke="#a06c34" stroke-opacity="0.28" stroke-width="0.39"/><line x1="244.7" y1="410.4" x2="253.4" y2="534.8" stroke="#a06c34" stroke-opacity="0.15" stroke-width="0.90"/><line x1="257.3" y1="415.5" x2="263.8" y2="539.8" stroke="#e8bc7c" stroke-opacity="0.09" stroke-width="0.74"/><line x1="257.1" y1="415.5" x2="263.6" y2="539.7" stroke="#e8bc7c" stroke-opacity="0.09" stroke-width="1.01"/><line x1="223.1" y1="401.7" x2="235.7" y2="526.3" stroke="#e8bc7c" stroke-opacity="0.12" stroke-width="0.48"/><line x1="231.2" y1="404.9" x2="242.3" y2="529.5" stroke="#a06c34" stroke-opacity="0.18" stroke-width="0.65"/><line x1="253.3" y1="413.9" x2="260.4" y2="538.2" stroke="#a06c34" stroke-opacity="0.23" stroke-width="0.44"/><line x1="245.0" y1="410.5" x2="253.7" y2="534.9" stroke="#a06c34" stroke-opacity="0.29" stroke-width="1.07"/><line x1="236.0" y1="406.9" x2="246.3" y2="531.3" stroke="#a06c34" stroke-opacity="0.11" stroke-width="0.84"/><line x1="255.1" y1="414.7" x2="262.0" y2="538.9" stroke="#a06c34" stroke-opacity="0.10" stroke-width="0.42"/><line x1="228.7" y1="403.9" x2="240.3" y2="528.5" stroke="#e8bc7c" stroke-opacity="0.13" stroke-width="0.76"/><line x1="266.3" y1="419.2" x2="271.1" y2="543.3" stroke="#e8bc7c" stroke-opacity="0.20" stroke-width="0.89"/><line x1="237.7" y1="407.6" x2="247.7" y2="532.0" stroke="#a06c34" stroke-opacity="0.12" stroke-width="0.36"/><line x1="224.1" y1="402.1" x2="236.5" y2="526.7" stroke="#e8bc7c" stroke-opacity="0.20" stroke-width="0.35"/><line x1="225.8" y1="402.8" x2="237.9" y2="527.3" stroke="#a06c34" stroke-opacity="0.23" stroke-width="0.58"/><line x1="233.8" y1="406.0" x2="244.5" y2="530.5" stroke="#a06c34" stroke-opacity="0.22" stroke-width="0.88"/><line x1="221.0" y1="400.8" x2="234.0" y2="525.4" stroke="#a06c34" stroke-opacity="0.29" stroke-width="1.09"/><line x1="260.8" y1="416.9" x2="266.6" y2="541.1" stroke="#a06c34" stroke-opacity="0.19" stroke-width="0.65"/><line x1="228.2" y1="403.7" x2="239.9" y2="528.3" stroke="#a06c34" stroke-opacity="0.26" stroke-width="0.56"/><line x1="229.3" y1="404.2" x2="240.8" y2="528.7" stroke="#e8bc7c" stroke-opacity="0.16" stroke-width="0.87"/><polygon points="270.9,421.1 216.3,398.9 230.1,523.5 274.8,545.1" fill="url(#vshade)" stroke="#3c3c3c" stroke-width="0.8" stroke-linejoin="round"/><polygon points="462.1,428.6 460.7,428.9 428.7,552.7 429.9,552.4" fill="#9193ac" stroke="#9193ac" stroke-width="0.6" stroke-linejoin="round"/><polygon points="460.7,428.9 459.4,429.1 427.7,552.9 428.7,552.7" fill="#9396ae" stroke="#9396ae" stroke-width="0.6" stroke-linejoin="round"/><polygon points="459.4,429.1 458.3,429.3 426.8,553.1 427.7,552.9" fill="#9496af" stroke="#9496af" stroke-width="0.6" stroke-linejoin="round"/><polygon points="458.3,429.3 457.5,429.5 426.1,553.3 426.8,553.1" fill="#9295ad" stroke="#9295ad" stroke-width="0.6" stroke-linejoin="round"/><polygon points="330.4,510.7 338.8,385.8 376.5,337.0 488.7,374.2 453.9,499.3 441.7,540.6 441.1,542.6 440.4,544.4 439.6,545.9 438.6,547.3 437.5,548.4 436.1,549.3 434.8,550.1 433.5,550.8 432.3,551.5 431.1,552.0 429.9,552.4 428.7,552.7 426.1,553.3" fill="none" stroke="#3c3c3c" stroke-width="0.8" stroke-linejoin="round"/><polygon points="250.5,246.8 321.3,268.1 199.9,391.2 119.1,358.6" fill="url(#walltop)" /><polygon points="313.9,276.3 336.2,283.2 237.3,389.6 212.2,379.6" fill="#c09458" /><polygon points="336.2,272.6 424.1,299.1 394.4,339.3 373.2,332.3 384.6,317.9 362.8,311.0 350.9,325.2 331.5,318.9 343.8,304.9 322.4,298.1 336.2,283.2 328.4,280.8" fill="#c09458" /><polygon points="320.6,300.0 342.0,306.9 330.1,320.5 349.5,326.9 361.1,313.0 382.9,320.0 313.7,408.2 289.5,398.8 305.1,380.1 284.0,372.3 268.0,390.5 244.8,381.5" fill="#c09458" /><polygon points="228.4,386.1 237.3,389.6 242.8,383.7 266.0,392.8 281.5,375.2 302.6,383.1 270.9,421.1 216.3,398.9" fill="#c09458" /><polygon points="376.5,337.0 488.7,374.2 487.9,374.3 486.9,374.3 485.7,374.4 484.4,374.6 483.0,374.9 481.7,375.4 480.3,376.1 478.7,377.1 477.1,378.2 475.5,379.3 474.1,380.5 473.0,381.7 472.1,382.9 471.5,384.1 471.0,385.3 470.7,386.6 470.5,387.9 470.5,389.3 470.7,390.8 471.1,392.3 471.7,394.0 472.4,395.6 473.1,397.4 473.7,399.1 474.3,400.9 475.0,402.7 475.7,404.5 476.3,406.4 476.7,408.3 476.9,410.2 476.8,412.2 476.5,414.3 476.1,416.4 475.5,418.4 474.7,420.3 473.8,421.9 472.7,423.2 471.3,424.4 469.7,425.4 468.1,426.2 466.5,427.0 465.0,427.6 463.6,428.2 462.1,428.6 460.7,428.9 459.4,429.1 458.3,429.3 457.5,429.5 338.8,385.8" fill="#a8abc4" /><g clip-path="url(#cl_plank)"><polygon points="294.8,317.6 294.6,317.9 294.4,318.0 294.1,318.1 293.9,318.1 293.7,318.1 293.5,318.0 293.5,317.8 293.6,317.6 293.7,317.4 293.9,317.2 294.2,317.0 294.4,316.9 294.7,316.8 294.9,316.8 295.0,316.9 295.1,317.1 295.1,317.2 295.0,317.4 294.8,317.6" fill="none" stroke="#8a6030" stroke-opacity="0.45" stroke-width="0.63"/><polygon points="295.9,318.0 295.2,318.6 294.4,318.9 293.8,319.1 293.1,319.2 292.6,319.1 292.2,318.9 292.0,318.5 292.1,317.9 292.7,317.3 293.3,316.8 293.8,316.3 294.6,315.8 295.3,315.6 295.8,315.7 296.2,315.9 296.4,316.3 296.3,316.9 296.1,317.4 295.9,318.0" fill="none" stroke="#8a6030" stroke-opacity="0.38" stroke-width="0.63"/><polygon points="296.7,318.3 295.6,319.1 294.5,319.9 293.2,320.6 292.0,320.8 291.5,320.2 291.2,319.6 290.8,319.0 290.8,318.2 291.4,317.1 292.3,316.1 293.5,315.3 294.7,314.9 295.7,314.8 296.8,314.6 297.9,314.6 298.2,315.3 297.9,316.3 297.4,317.3 296.7,318.3" fill="none" stroke="#e6c088" stroke-opacity="0.47" stroke-width="0.56"/><polygon points="297.4,318.5 296.0,319.6 294.6,320.5 293.1,321.1 291.8,321.2 291.0,320.7 290.2,320.2 289.6,319.5 289.9,318.3 290.9,317.1 292.0,316.0 293.3,314.9 294.8,314.3 296.1,314.0 297.5,313.8 298.6,314.1 298.7,315.1 298.4,316.2 298.1,317.3 297.4,318.5" fill="none" stroke="#e6c088" stroke-opacity="0.56" stroke-width="0.65"/><polygon points="298.6,318.9 296.8,320.5 294.7,321.7 292.6,322.5 290.9,322.4 289.8,321.8 288.5,321.4 287.6,320.4 288.1,318.7 289.6,316.9 291.2,315.4 293.0,314.0 294.9,313.1 296.9,312.5 298.9,312.1 300.2,312.8 300.2,314.3 299.8,315.7 299.6,317.2 298.6,318.9" fill="none" stroke="#e6c088" stroke-opacity="0.27" stroke-width="0.88"/><polygon points="298.8,319.0 297.0,320.8 294.8,322.4 292.3,323.3 290.2,323.5 288.3,323.3 287.2,322.2 287.5,320.4 287.9,318.7 288.5,316.8 290.3,314.8 292.7,313.4 295.0,312.4 297.3,311.6 299.2,311.8 300.5,312.6 301.6,313.5 301.9,315.1 300.7,317.1 298.8,319.0" fill="none" stroke="#8a6030" stroke-opacity="0.50" stroke-width="0.83"/><polygon points="299.9,319.4 297.4,321.2 294.9,323.3 291.7,325.2 288.9,325.3 287.4,324.2 286.2,322.9 285.7,321.2 286.3,319.0 287.5,316.7 289.3,314.1 292.2,312.1 295.2,311.4 297.6,311.1 300.3,310.6 302.5,310.9 303.3,312.6 303.2,314.7 302.2,317.1 299.9,319.4" fill="none" stroke="#e6c088" stroke-opacity="0.51" stroke-width="0.47"/><polygon points="301.8,320.0 298.4,322.5 294.9,324.0 291.6,325.5 287.9,326.8 285.2,326.2 284.0,324.3 283.6,322.1 284.3,319.4 286.5,316.6 289.0,313.9 291.8,311.2 295.5,309.1 298.7,308.9 301.1,309.6 303.4,310.2 304.8,311.7 304.7,314.2 303.8,317.0 301.8,320.0" fill="none" stroke="#8a6030" stroke-opacity="0.49" stroke-width="0.85"/><polygon points="301.8,320.0 298.5,322.6 295.1,325.4 291.0,327.2 287.5,327.4 284.5,326.9 282.6,325.3 282.8,322.5 284.1,319.4 285.3,316.4 287.7,313.1 291.6,310.6 295.5,309.2 299.1,308.2 302.3,308.2 304.3,309.5 305.7,311.3 306.5,313.6 305.1,316.9 301.8,320.0" fill="none" stroke="#8a6030" stroke-opacity="0.31" stroke-width="0.79"/><polygon points="303.3,320.5 299.2,323.4 295.1,325.7 290.6,328.4 285.7,330.1 282.7,328.6 281.9,325.8 281.5,323.0 282.0,319.8 284.1,316.3 287.1,312.7 291.0,309.2 295.8,307.3 299.4,307.6 302.6,307.9 306.1,308.0 308.3,309.8 308.0,313.2 306.3,316.8 303.3,320.5" fill="none" stroke="#8a6030" stroke-opacity="0.55" stroke-width="0.89"/><polygon points="303.4,320.5 299.7,324.1 295.3,327.6 290.2,329.7 285.3,330.7 281.1,330.1 279.7,327.2 280.7,323.3 281.3,320.0 282.1,316.1 285.7,311.8 290.9,308.8 295.8,306.8 300.3,305.8 303.9,306.4 306.8,307.5 309.8,309.0 310.6,312.3 307.6,316.8 303.4,320.5" fill="none" stroke="#8a6030" stroke-opacity="0.52" stroke-width="0.60"/><polygon points="304.9,321.0 300.8,325.4 295.3,328.5 290.3,329.5 285.6,330.2 280.8,330.4 278.2,328.2 278.3,324.4 279.3,320.4 281.8,316.0 286.2,312.1 291.0,309.0 296.0,305.8 301.3,303.9 305.2,304.8 307.5,306.9 309.6,309.1 310.0,312.5 307.9,316.7 304.9,321.0" fill="none" stroke="#8a6030" stroke-opacity="0.29" stroke-width="0.66"/><polygon points="306.4,321.6 301.5,326.3 295.5,329.7 289.4,332.1 284.0,332.5 280.8,330.5 278.3,328.1 275.6,325.5 275.9,321.0 280.3,315.9 285.5,311.6 290.5,307.8 296.1,305.0 301.4,303.7 306.7,303.1 311.1,304.1 311.9,307.9 310.1,312.5 308.6,316.7 306.4,321.6" fill="none" stroke="#e6c088" stroke-opacity="0.44" stroke-width="0.45"/><polygon points="307.3,321.8 301.6,326.4 295.5,330.4 289.2,332.5 283.5,333.2 277.7,333.5 273.7,331.2 274.6,326.0 277.5,320.7 280.0,315.8 284.0,310.7 290.0,306.4 296.3,303.4 302.6,301.4 307.4,302.2 309.8,305.1 312.0,307.8 314.0,311.2 312.4,316.5 307.3,321.8" fill="none" stroke="#8a6030" stroke-opacity="0.48" stroke-width="0.69"/><polygon points="308.0,322.1 301.7,326.6 295.6,331.0 288.5,334.5 282.3,334.9 277.7,333.4 273.9,331.1 273.2,326.6 276.0,321.0 279.3,315.7 283.3,310.2 289.6,305.4 296.3,303.1 302.4,301.9 308.1,301.4 311.9,303.4 313.4,307.0 314.4,311.1 313.1,316.5 308.0,322.1" fill="none" stroke="#e6c088" stroke-opacity="0.43" stroke-width="0.61"/><polygon points="307.8,322.0 302.3,327.3 295.7,332.1 288.6,334.5 282.1,335.2 276.0,335.0 272.7,331.9 273.7,326.4 275.6,321.1 277.7,315.6 282.7,309.8 289.6,305.6 296.4,302.5 303.1,300.4 308.4,301.1 311.7,303.6 314.9,306.3 316.3,310.5 313.3,316.5 307.8,322.0" fill="none" stroke="#8a6030" stroke-opacity="0.38" stroke-width="0.87"/><polygon points="309.9,322.7 302.7,327.7 295.7,332.2 288.1,335.7 281.4,336.3 275.9,335.2 271.1,332.9 270.3,327.8 274.1,321.4 278.2,315.6 282.5,309.7 289.1,304.3 296.6,301.3 303.5,299.8 309.7,299.6 313.3,302.3 314.7,306.4 316.1,310.6 315.3,316.4 309.9,322.7" fill="none" stroke="#8a6030" stroke-opacity="0.27" stroke-width="0.87"/><polygon points="308.5,322.3 303.5,328.7 295.9,334.7 287.4,337.8 279.9,338.5 274.1,336.9 272.1,332.3 272.4,326.9 271.9,321.8 273.9,315.1 280.9,308.6 289.2,304.5 296.6,301.4 303.7,299.3 309.9,299.3 315.2,300.7 319.5,303.7 319.1,309.6 313.9,316.4 308.5,322.3" fill="none" stroke="#e6c088" stroke-opacity="0.51" stroke-width="0.82"/><polygon points="311.8,323.4 303.7,329.0 295.8,333.2 287.4,337.9 278.7,340.2 273.0,337.9 270.2,333.6 268.7,328.5 270.9,322.0 276.0,315.4 281.4,308.9 288.4,302.5 296.9,298.9 304.0,298.7 310.2,298.9 316.0,300.1 318.7,304.1 318.5,309.8 316.8,316.3 311.8,323.4" fill="none" stroke="#8a6030" stroke-opacity="0.45" stroke-width="0.72"/><polygon points="313.0,323.8 304.8,330.3 296.0,335.6 286.9,339.4 279.2,339.4 273.8,337.2 268.1,335.0 264.9,330.2 268.3,322.5 274.8,315.2 281.0,308.7 288.5,302.7 296.9,298.9 305.1,296.6 313.1,295.7 318.1,298.4 318.5,304.3 318.1,310.0 317.6,316.2 313.0,323.8" fill="none" stroke="#8a6030" stroke-opacity="0.49" stroke-width="0.50"/><polygon points="314.3,324.2 305.7,329.8 297.6,333.9 289.5,338.6 280.6,342.1 273.2,341.8 268.3,338.8 265.1,334.6 265.3,328.4 269.7,321.3 274.9,314.9 279.7,308.4 286.4,301.6 295.0,297.1 302.9,296.1 309.4,296.3 315.3,297.2 319.1,300.2 320.6,304.8 321.3,310.2 320.1,316.9 314.3,324.2" fill="none" stroke="#e6c088" stroke-opacity="0.31" stroke-width="0.54"/><polygon points="315.2,324.5 306.8,331.1 297.8,335.2 289.4,339.0 280.5,342.3 272.8,342.3 268.0,339.1 264.7,334.8 263.5,329.1 267.1,321.7 273.7,314.7 279.9,308.5 286.6,301.9 295.1,296.6 303.4,294.8 310.2,295.1 316.3,296.2 320.6,299.1 321.5,304.4 320.8,310.3 319.7,316.9 315.2,324.5" fill="none" stroke="#e6c088" stroke-opacity="0.43" stroke-width="0.48"/><polygon points="313.3,323.8 307.0,330.6 299.0,336.4 290.1,340.8 280.8,344.5 271.9,345.7 267.0,342.1 266.6,335.6 266.8,329.9 265.9,324.6 267.3,317.8 273.3,310.4 281.5,304.2 289.8,299.2 298.2,295.8 305.5,295.1 311.5,295.9 317.8,296.4 324.2,297.9 327.0,302.7 324.0,310.1 318.5,317.2 313.3,323.8" fill="none" stroke="#8a6030" stroke-opacity="0.29" stroke-width="0.85"/><polygon points="314.0,324.1 307.7,330.6 300.1,337.1 291.1,341.5 282.7,343.4 274.8,344.1 267.5,343.7 263.1,340.0 263.3,333.6 265.3,327.1 266.9,320.8 270.0,313.9 276.5,306.9 284.9,301.7 293.1,297.8 301.2,294.4 308.9,292.8 314.8,294.0 319.1,296.7 323.2,299.6 326.3,303.8 325.4,310.3 320.3,317.5 314.0,324.1" fill="none" stroke="#8a6030" stroke-opacity="0.58" stroke-width="0.42"/><polygon points="317.4,325.2 308.8,331.2 300.2,335.1 292.5,338.9 283.9,343.6 274.6,346.7 267.5,345.8 263.5,341.8 261.5,336.7 261.4,330.7 264.4,323.9 269.7,317.2 275.0,311.0 280.4,304.3 287.6,297.6 296.4,293.4 304.2,292.7 310.3,293.8 315.8,294.8 321.0,296.4 324.3,299.9 325.3,305.0 325.0,310.9 323.0,317.8 317.4,325.2" fill="none" stroke="#8a6030" stroke-opacity="0.48" stroke-width="0.55"/><polygon points="316.8,325.1 310.1,331.8 302.1,338.0 293.2,342.0 285.1,343.6 277.5,344.6 269.4,345.8 261.9,345.2 258.3,340.8 259.4,333.8 262.4,326.8 265.4,320.2 269.5,313.4 275.8,306.9 283.5,301.5 291.3,296.9 299.5,292.6 307.9,289.8 314.6,290.3 318.7,293.5 321.6,297.1 325.0,300.4 327.7,304.8 327.1,311.0 322.8,318.1 316.8,325.1" fill="none" stroke="#e6c088" stroke-opacity="0.42" stroke-width="0.67"/><polygon points="317.7,325.4 309.6,330.9 302.2,336.1 294.2,341.4 285.6,345.6 277.3,347.4 269.7,347.5 262.8,346.5 257.8,343.3 257.1,337.1 260.6,329.6 265.2,322.8 268.6,316.6 271.9,309.9 277.7,302.9 285.8,297.2 294.4,293.7 302.3,291.7 309.6,290.6 315.9,291.1 320.2,293.6 323.1,297.2 326.1,300.7 329.2,304.9 329.7,311.0 325.4,318.5 317.7,325.4" fill="none" stroke="#8a6030" stroke-opacity="0.59" stroke-width="0.59"/><polygon points="316.6,325.0 310.4,331.1 303.7,337.9 295.3,344.5 285.9,348.7 277.4,349.8 270.3,349.0 264.1,347.3 259.5,344.1 257.9,338.8 259.1,332.4 261.1,326.0 262.9,319.7 266.0,312.6 272.2,305.3 280.7,299.6 289.5,296.2 297.3,293.7 304.8,291.3 312.3,289.6 318.8,289.8 323.7,292.0 327.4,295.2 330.5,299.2 331.8,304.7 329.3,311.6 323.5,318.7 316.6,325.0" fill="none" stroke="#e6c088" stroke-opacity="0.56" stroke-width="0.69"/><polygon points="317.9,325.4 311.5,331.6 304.7,338.4 296.4,344.9 287.0,349.2 278.4,350.6 271.0,350.2 264.4,349.1 258.8,346.7 255.9,342.0 256.4,335.7 258.7,329.0 260.9,322.6 263.4,315.9 268.0,308.6 275.5,302.0 284.3,297.3 292.6,294.2 300.3,291.5 307.9,289.1 315.3,288.0 321.2,289.1 325.4,291.9 328.9,295.4 331.9,299.4 333.0,304.9 330.5,311.9 324.7,319.0 317.9,325.4" fill="none" stroke="#e6c088" stroke-opacity="0.46" stroke-width="0.66"/><polygon points="319.0,325.8 311.7,331.4 304.9,337.2 297.2,343.3 288.4,348.3 279.5,351.1 271.4,352.0 264.0,351.6 257.7,349.7 254.2,345.3 254.6,338.7 257.8,331.5 261.1,325.0 263.3,319.0 265.9,312.2 270.9,305.0 278.5,298.6 287.3,294.2 295.6,291.4 303.3,289.5 310.5,288.3 316.8,288.5 321.7,290.3 325.5,293.1 329.3,296.1 333.1,299.7 335.0,305.0 332.9,312.0 326.8,319.4 319.0,325.8" fill="none" stroke="#8a6030" stroke-opacity="0.47" stroke-width="0.59"/><polygon points="321.6,326.6 316.3,334.5 308.3,342.0 298.6,347.0 289.4,348.8 281.7,348.9 274.7,349.2 267.2,349.9 260.0,349.6 254.7,347.0 252.1,342.2 251.6,336.2 252.4,329.7 255.1,322.6 260.5,315.2 268.2,308.7 276.5,303.6 283.9,299.3 291.0,294.5 298.7,289.3 307.3,285.1 315.3,283.5 321.5,284.9 325.7,288.0 328.9,291.7 331.4,295.8 332.4,300.8 331.2,306.7 328.5,313.0 325.2,319.5 321.6,326.6" fill="none" stroke="#8a6030" stroke-opacity="0.59" stroke-width="0.48"/><polygon points="324.1,327.5 315.9,333.5 307.7,338.4 299.8,343.2 291.6,348.3 282.8,352.8 274.0,355.2 266.5,355.0 260.7,352.9 255.9,350.1 251.7,346.6 249.0,341.9 249.4,335.6 253.0,328.4 258.2,321.4 263.4,315.0 268.2,308.7 273.5,302.1 280.4,295.7 288.6,290.8 296.9,287.9 304.4,286.6 311.3,285.9 317.9,285.5 324.1,286.0 328.9,288.2 331.7,292.0 333.0,296.6 333.8,301.6 334.5,306.9 333.8,313.2 330.5,320.4 324.1,327.5" fill="none" stroke="#8a6030" stroke-opacity="0.48" stroke-width="0.66"/><polyline points="338.9,300.3 337.2,306.8 332.8,313.7 327.4,320.4 322.1,326.8 322.1,326.8 316.5,333.6 309.8,340.6 301.6,346.9 292.5,351.3 283.7,353.6 275.7,354.7 267.9,355.3 260.4,355.3 254.2,353.5 250.7,349.3 250.1,343.3 251.2,336.9 252.5,330.8 253.8,324.6 256.2,317.9 260.9,310.8 268.1,304.2 276.3,298.9 284.4,294.7 292.1,290.9 299.7,287.2 307.6,284.4 314.9,283.2 321.0,284.0 325.7,286.1 329.9,288.6 334.0,291.5 337.5,295.1 338.9,300.3" fill="none" stroke="#8a6030" stroke-opacity="0.40" stroke-width="0.70"/><polygon points="323.6,327.3 317.0,333.6 310.1,340.0 302.4,346.7 293.5,352.8 284.1,356.8 275.6,357.7 268.9,356.2 263.4,353.9 258.1,351.8 252.7,349.7 248.3,346.5 246.4,341.3 247.5,334.8 250.6,327.8 254.6,321.0 258.9,314.2 264.2,307.4 271.1,300.9 279.1,295.7 287.3,292.1 295.0,289.6 302.2,287.2 309.7,284.6 317.4,282.3 324.7,281.6 330.3,283.2 333.7,286.9 335.3,291.6 336.2,296.6 336.9,301.7 336.5,307.5 334.2,314.0 329.7,320.8 323.6,327.3" fill="none" stroke="#e6c088" stroke-opacity="0.30" stroke-width="0.86"/><polyline points="338.5,301.8 336.7,307.9 333.8,314.4 330.4,321.1 326.4,328.3 326.4,328.3 320.9,336.0 313.3,343.4 304.0,349.1 294.6,352.2 286.1,353.4 278.5,354.0 271.0,355.1 263.0,356.4 255.2,356.7 249.1,354.6 245.7,350.3 244.6,344.4 245.1,338.1 246.4,331.5 249.1,324.5 253.9,317.3 260.7,310.5 268.5,304.7 276.1,299.8 283.2,295.2 290.3,290.2 298.1,285.0 306.5,280.9 314.7,278.9 321.4,279.4 326.4,281.8 330.1,285.0 333.4,288.3 336.4,291.9 338.3,296.3" fill="none" stroke="#8a6030" stroke-opacity="0.31" stroke-width="0.77"/><polyline points="339.8,314.7 333.6,321.8 326.4,328.3 326.4,328.3 319.2,334.2 312.2,340.1 304.7,345.9 296.5,351.2 287.9,355.3 279.4,357.8 271.4,359.2 263.6,360.0 255.7,360.3 248.5,359.3 243.3,356.2 241.5,350.6 243.0,343.4 246.7,335.9 250.7,329.1 253.9,322.9 256.6,316.7 260.0,310.1 265.2,303.3 272.1,297.1 280.1,291.9 288.3,287.9 296.2,284.8 303.9,282.2 311.4,280.3 318.3,279.8 323.9,281.0 328.0,283.6 331.2,286.8 334.3,289.9 337.9,292.8 341.6,296.4" fill="none" stroke="#e6c088" stroke-opacity="0.37" stroke-width="0.70"/><polyline points="340.5,315.0 335.6,322.2 328.6,329.0 328.6,329.0 320.6,334.8 312.8,340.0 305.3,345.3 297.4,351.0 288.8,356.7 279.5,361.3 270.4,363.7 262.7,363.5 256.4,361.6 251.3,358.8 246.8,355.6 243.0,351.7 241.1,346.6 241.6,340.2 244.6,333.2 249.0,326.2 253.6,319.6 257.9,313.3 262.3,306.7 267.7,299.9 274.7,293.5 282.8,288.3 291.3,284.9 299.2,283.1 306.3,282.1 313.1,281.2 319.8,280.4 326.3,280.3 331.9,281.4 336.1,284.0 338.8,287.8" fill="none" stroke="#8a6030" stroke-opacity="0.57" stroke-width="0.49"/><polyline points="339.9,303.6 337.1,309.7 334.7,315.6 331.9,322.0 327.8,328.8 327.8,328.8 322.2,335.6 315.1,342.1 307.2,348.1 298.7,353.8 289.6,359.1 280.0,363.5 270.8,365.8 263.0,365.4 257.7,362.3 254.5,357.5 252.5,352.7 250.0,348.8 246.5,345.5 242.7,341.9 240.2,337.0 240.4,330.6 243.9,323.4 249.8,316.0 256.9,309.2 264.3,303.2 271.6,297.6 279.1,292.7 286.8,288.6 294.4,285.6 301.6,283.8 308.3,282.6 314.9,281.4 321.9,279.9 329.5,278.6 336.7,278.5 342.3,280.4" fill="none" stroke="#8a6030" stroke-opacity="0.34" stroke-width="0.71"/><polyline points="341.3,309.4 336.6,315.9 332.0,322.2 327.6,328.7 327.6,328.7 322.7,335.7 316.5,343.0 308.8,349.8 299.9,355.3 290.7,358.9 282.0,361.0 273.8,362.4 265.9,363.3 258.2,363.7 251.3,362.8 246.2,360.0 243.3,355.4 242.5,349.8 242.7,343.9 243.0,338.1 243.2,332.4 244.1,326.2 246.6,319.3 251.6,312.1 258.6,305.4 266.7,299.8 274.8,295.1 282.5,291.1 289.9,287.2 297.3,283.4 304.9,280.1 312.4,277.9 319.3,277.2 325.2,277.9 330.3,279.5 335.0,281.5 339.5,283.8" fill="none" stroke="#e6c088" stroke-opacity="0.41" stroke-width="0.81"/><polyline points="344.4,315.9 338.0,323.1 330.4,329.6 330.4,329.6 322.6,335.3 315.3,340.8 308.1,346.5 300.4,352.6 291.8,358.4 282.7,363.0 273.7,365.8 265.4,366.7 257.9,366.4 251.1,365.2 244.8,363.4 239.6,360.4 236.4,355.8 235.9,349.5 238.2,342.3 242.1,335.0 246.4,328.2 250.0,321.9 253.2,315.6 256.6,309.0 261.4,302.0 267.9,295.3 275.8,289.6 284.3,285.3 292.6,282.4 300.3,280.4 307.6,278.8 314.6,277.6 321.4,276.9 327.4,277.3 332.5,279.0 336.3,281.7 339.3,285.1" fill="none" stroke="#8a6030" stroke-opacity="0.31" stroke-width="0.87"/><polyline points="338.5,323.5 333.9,330.8 333.9,330.8 327.5,337.9 319.7,344.3 311.4,350.1 302.7,355.4 293.9,360.2 284.8,364.3 275.8,367.1 267.7,367.8 261.0,366.6 255.8,363.9 251.5,360.8 247.2,358.0 242.4,355.5 237.3,352.9 233.0,349.2 230.9,343.8 232.0,337.0 236.1,329.4 242.3,321.9 249.4,315.0 256.3,308.7 262.9,302.9 269.4,297.4 276.2,292.0 283.4,287.3 290.9,283.4 298.4,280.6 305.7,278.4 312.8,276.6 320.0,274.9 327.4,273.6" fill="none" stroke="#8a6030" stroke-opacity="0.29" stroke-width="0.81"/><polyline points="328.6,274.3 334.4,275.2 338.9,277.4" fill="none" stroke="#e6c088" stroke-opacity="0.54" stroke-width="0.45"/><polyline points="340.6,324.0 333.3,330.6 333.3,330.6 325.5,336.4 318.0,341.9 310.7,347.5 303.2,353.5 294.9,359.7 285.8,365.2 276.4,369.1 267.5,371.0 259.6,370.9 252.9,369.6 246.8,367.6 241.3,365.1 236.5,361.9 233.1,357.6 231.8,351.9 233.0,345.2 236.2,338.0 240.5,330.9 244.7,324.3 248.6,318.0 252.3,311.5 256.6,304.8 262.1,297.9 269.1,291.5 277.2,286.3 285.7,282.4 293.8,279.9 301.4,278.2 308.4,276.8 315.3,275.6 322.1,274.6 328.6,274.3" fill="none" stroke="#e6c088" stroke-opacity="0.54" stroke-width="0.45"/><polyline points="342.4,317.2 337.0,323.7 331.4,330.0 331.4,330.0 325.9,336.4 320.1,343.4 313.4,350.9 305.3,358.3 296.0,364.7 286.3,369.0 277.1,370.9 269.1,370.7 262.3,369.2 256.2,367.4 250.4,365.8 244.6,364.1 239.2,361.8 235.1,358.3 232.8,353.5 232.5,347.6 233.7,341.2 235.7,334.6 238.2,328.0 241.1,321.2 245.0,314.2 250.3,307.2 257.2,300.5 265.2,294.9 273.7,290.4 281.9,287.1 289.5,284.4 296.6,281.8 303.6,278.8 311.0,275.7 318.7,273.0" fill="none" stroke="#e6c088" stroke-opacity="0.52" stroke-width="0.78"/><polyline points="332.4,273.9 336.9,275.9 341.3,278.0" fill="none" stroke="#e6c088" stroke-opacity="0.24" stroke-width="0.85"/><polyline points="340.7,324.4 336.6,331.7 336.6,331.7 331.0,339.2 323.7,346.4 315.1,352.5 305.9,357.2 296.9,360.4 288.4,362.7 280.2,364.8 272.0,367.2 263.4,369.8 254.6,371.8 246.4,372.3 239.6,370.8 235.0,367.3 232.5,362.2 231.4,356.4 231.2,350.3 231.4,344.3 232.1,338.1 233.9,331.4 237.3,324.5 242.5,317.4 249.1,310.7 256.4,304.7 263.7,299.3 270.7,294.3 277.5,289.2 284.5,284.0 292.0,278.9 300.0,274.6 308.0,271.6" fill="none" stroke="#e6c088" stroke-opacity="0.24" stroke-width="0.85"/><polyline points="343.1,324.9 338.1,332.2 338.1,332.2 331.4,339.2 323.6,345.7 315.2,351.4 306.7,356.7 298.0,361.7 289.0,366.4 279.8,370.3 270.9,372.7 262.8,373.3 256.0,372.1 250.6,369.5 246.0,366.5 241.7,363.5 237.0,360.8 232.1,358.0 227.8,354.3 225.2,349.3 225.2,342.9 228.0,335.5 233.2,327.9 239.8,320.6 246.6,313.9 253.3,307.7 259.6,301.8 265.9,296.1 272.6,290.5 279.8,285.4 287.4,281.2 295.0,277.9 302.5,275.6 309.6,273.8" fill="none" stroke="#8a6030" stroke-opacity="0.41" stroke-width="0.88"/><polyline points="339.6,324.5 335.7,331.4 335.7,331.4 330.9,338.7 324.8,346.2 317.1,353.2 308.3,359.1 299.1,363.5 290.1,366.5 281.5,368.5 273.2,370.2 265.1,371.8 256.9,373.1 249.0,373.6 242.0,372.6 236.7,369.9 233.3,365.6 231.7,360.2 231.1,354.5 231.0,348.7 230.9,343.0 231.0,337.1 232.1,330.8 234.7,323.9 239.2,316.8 245.6,309.9 253.1,303.6 261.1,298.2 268.8,293.4 276.2,289.0 283.3,284.7 290.5,280.4 297.9,276.2 305.6,272.8" fill="none" stroke="#e6c088" stroke-opacity="0.36" stroke-width="0.42"/><polyline points="339.2,324.6 333.7,330.7 333.7,330.7 328.4,337.1 322.8,343.8 316.4,350.9 308.8,357.8 300.1,363.9 291.0,368.7 281.8,372.2 272.9,374.4 264.3,375.8 256.1,376.7 248.2,376.8 241.0,375.9 235.2,373.4 231.4,369.2 229.8,363.5 230.2,357.0 231.7,350.4 233.4,344.1 234.6,338.2 235.4,332.5 236.1,326.5 237.7,320.0 241.0,312.9 246.3,305.8 253.3,299.2 261.3,293.4 269.8,288.6 278.0,284.8 285.8,281.4 293.3,278.4 300.6,275.6 307.8,273.1" fill="none" stroke="#8a6030" stroke-opacity="0.30" stroke-width="0.72"/><polyline points="338.3,332.3 332.3,339.1 325.2,345.5 317.4,351.4 309.3,356.9 300.9,362.3 292.1,367.5 282.9,372.6 273.3,376.8 264.0,379.4 255.6,379.9 248.9,378.2 244.0,374.6 240.7,370.1 238.3,365.4 235.8,361.1 232.9,357.2 229.7,353.4 226.8,349.1 225.3,343.8 225.7,337.5 228.4,330.5 233.2,323.3 239.2,316.2 245.9,309.6 252.7,303.5 259.5,297.6 266.3,292.1 273.5,286.8 280.9,282.2 288.6,278.5 296.2,275.8 303.3,274.1" fill="none" stroke="#e6c088" stroke-opacity="0.32" stroke-width="0.44"/><polyline points="338.7,332.4 332.4,339.2 325.7,346.0 318.3,352.7 310.1,359.0 301.2,364.3 292.1,368.2 283.3,370.6 275.1,371.9 267.3,372.6 259.7,373.3 251.9,374.2 243.6,375.1 235.6,375.2 228.5,373.7 223.4,370.3 221.0,364.9 221.3,358.0 223.6,350.6 227.0,343.1 230.7,336.0 234.2,329.3 237.7,322.8 241.4,316.3 246.0,309.6 251.7,303.1 258.4,297.0 265.8,291.6 273.5,286.9 281.1,282.7 288.6,278.7 296.2,274.9 303.9,271.4" fill="none" stroke="#e6c088" stroke-opacity="0.45" stroke-width="0.76"/><polyline points="342.8,333.8 335.7,340.8 327.4,347.0 318.7,352.2 310.0,356.7 301.6,360.9 293.2,365.1 284.6,369.6 275.6,374.0 266.2,377.7 257.2,380.0 249.0,380.5 242.1,379.0 236.8,376.0 232.7,372.1 229.3,367.9 226.3,363.5 223.7,358.8 221.9,353.6 221.5,347.6 223.0,340.8 226.6,333.5 231.9,326.2 238.1,319.3 244.7,312.8 250.9,306.8 256.9,301.0 262.7,295.0 268.9,289.0 275.8,283.2 283.4,277.9 291.3,273.7" fill="none" stroke="#e6c088" stroke-opacity="0.46" stroke-width="0.56"/><polyline points="341.8,325.5 338.1,332.2 338.1,332.2 333.5,339.3 327.5,346.6 320.3,353.5 312.1,359.9 303.3,365.5 294.2,370.5 284.8,375.0 275.2,378.9 265.7,382.1 256.5,383.9 248.3,383.9 241.7,381.8 237.2,377.7 234.7,372.4 233.5,366.5 232.8,360.9 231.7,355.9 229.9,351.5 227.4,347.2 225.0,342.5 223.8,336.8 224.6,330.2 227.7,322.9 233.2,315.5 240.3,308.4 248.2,302.0 256.4,296.3 264.3,291.2 272.0,286.6 279.5,282.3 287.0,278.5 294.4,275.2 301.7,272.8" fill="none" stroke="#e6c088" stroke-opacity="0.27" stroke-width="0.66"/><polyline points="340.0,332.8 334.2,339.6 327.5,346.1 320.0,352.1 312.0,357.5 303.6,362.5 295.2,367.1 286.4,371.9 277.2,376.7 267.4,381.4 257.3,385.2 247.5,387.5 239.0,387.5 232.6,384.9 228.7,380.0 227.1,373.7 227.1,366.9 227.7,360.3 228.1,354.4 227.9,349.0 227.4,343.7 227.0,338.3 227.5,332.3 229.5,325.7 233.2,318.8 238.5,311.8 244.8,305.2 251.8,298.9 259.0,293.0 266.4,287.5 273.9,282.4 281.7,277.6 289.6,273.7" fill="none" stroke="#e6c088" stroke-opacity="0.59" stroke-width="0.62"/><polyline points="340.2,342.6 331.7,349.2 322.6,354.6 313.4,358.9 304.5,362.5 296.1,365.8 287.8,369.4 279.3,373.2 270.5,377.1 261.4,380.4 252.4,382.6 244.2,383.2 237.1,382.1 231.4,379.6 226.8,376.1 223.1,371.9 219.9,367.4 217.4,362.5 215.8,357.0 215.6,350.8 217.2,343.8 220.8,336.4 226.2,328.9 232.7,321.8 239.8,315.2 246.6,309.2 252.9,303.5 258.8,298.0 264.5,292.2 270.5,286.2 277.2,280.3 284.6,274.8 292.6,270.3" fill="none" stroke="#e6c088" stroke-opacity="0.43" stroke-width="0.67"/><polyline points="342.8,343.6 335.1,351.0 326.2,357.3 316.6,362.3 307.1,365.9 298.1,368.5 289.7,370.8 281.6,373.1 273.5,375.6 265.2,378.2 256.7,380.6 248.4,382.1 240.6,382.4 233.9,381.3 228.2,378.9 223.7,375.5 220.0,371.5 216.9,367.0 214.5,362.1 212.8,356.6 212.4,350.5 213.7,343.6 217.1,336.2 222.3,328.6 229.2,321.3 236.8,314.6 244.6,308.6 251.9,303.2 258.6,298.2 264.8,293.2 270.7,287.9 276.8,282.4 283.5,276.8 290.9,271.6" fill="none" stroke="#e6c088" stroke-opacity="0.32" stroke-width="0.57"/><polyline points="341.8,343.1 335.4,351.2 327.2,358.7 317.9,364.8 308.1,369.5 298.4,372.6 289.3,374.7 280.9,376.2 272.8,377.5 264.8,379.1 256.7,380.6 248.6,381.7 240.9,382.0 234.0,381.1 228.3,378.8 223.8,375.4 220.5,371.1 217.9,366.4 215.9,361.3 214.4,355.9 213.5,350.0 213.8,343.6 215.7,336.5 219.5,329.1 225.2,321.5 232.5,314.3 240.6,307.9 248.9,302.2 256.9,297.2 264.1,292.7 270.9,288.2 277.4,283.4 284.0,278.4 291.0,273.4" fill="none" stroke="#e6c088" stroke-opacity="0.26" stroke-width="0.80"/><polyline points="341.2,342.6 334.7,350.2 327.1,357.6 318.5,364.3 309.1,369.8 299.6,373.7 290.3,376.0 281.8,376.9 274.1,377.1 266.9,377.2 259.7,377.8 252.1,379.0 243.8,380.6 235.0,382.2 226.3,382.8 218.6,381.9 212.7,379.0 209.2,374.2" fill="none" stroke="#8a6030" stroke-opacity="0.48" stroke-width="0.68"/><polyline points="209.2,360.7 211.7,353.1 215.0,345.6 218.8,338.3 222.8,331.2 227.2,324.3 232.1,317.5 237.8,311.0 244.2,304.7 251.2,299.0 258.4,293.8 265.7,289.0 272.8,284.6 279.7,280.3 286.7,275.8 293.9,271.1" fill="none" stroke="#8a6030" stroke-opacity="0.48" stroke-width="0.68"/><polyline points="341.7,342.5 334.8,349.4 326.9,355.7 318.4,361.1 309.7,365.7 301.1,369.8 292.5,373.5 283.9,377.3 275.1,381.3 265.9,385.4 256.3,389.1 246.7,391.8" fill="none" stroke="#e6c088" stroke-opacity="0.45" stroke-width="0.73"/><polyline points="230.0,392.2 224.1,389.4 220.1,384.8 217.9,379.2 217.0,373.1 216.6,367.0 216.5,361.1 216.2,355.4 216.1,349.7 216.4,343.8 217.6,337.5 220.1,330.8 224.1,323.9 229.3,317.0 235.6,310.3 242.3,304.1 249.2,298.3 256.1,292.7 262.9,287.4 269.8,282.1 276.9,276.9 284.3,272.1" fill="none" stroke="#e6c088" stroke-opacity="0.45" stroke-width="0.73"/><polyline points="345.2,344.2 336.9,350.6 328.0,356.1 319.1,360.9 310.4,365.2 301.9,369.3 293.5,373.5 284.9,377.9 276.0,382.4 266.7,386.4 257.4,389.6 248.5,391.4 240.4,391.6" fill="none" stroke="#8a6030" stroke-opacity="0.37" stroke-width="0.83"/><polyline points="240.4,391.6 233.4,390.4 227.6,387.9 222.7,384.6 218.5,380.8 214.7,376.8 211.4,372.4 208.5,367.7" fill="none" stroke="#8a6030" stroke-opacity="0.37" stroke-width="0.83"/><polyline points="207.8,349.2 211.2,341.7 216.2,334.2 222.4,326.8 229.1,320.0 235.8,313.6 242.1,307.6 248.0,301.9 253.6,296.1 259.3,290.2 265.3,284.2 272.0,278.4 279.3,273.0" fill="none" stroke="#8a6030" stroke-opacity="0.37" stroke-width="0.83"/><polyline points="346.0,344.4 337.7,350.8 329.1,356.6 320.4,361.9 311.8,366.9 303.2,371.7 294.5,376.3 285.6,380.6 276.7,384.2 267.9,386.8 259.5,388.2 251.8,388.5 244.9,387.8 238.5,386.4 232.4,384.8 226.3,383.1 220.2,381.4 214.0,379.3 208.3,376.6" fill="none" stroke="#e6c088" stroke-opacity="0.36" stroke-width="0.86"/><polyline points="206.5,345.7 212.4,337.7 219.3,330.0 226.3,322.9 233.1,316.5 239.3,310.4 244.9,304.6 250.3,298.9 255.8,293.0 261.7,287.2 268.2,281.5 275.2,276.3 282.7,271.8" fill="none" stroke="#e6c088" stroke-opacity="0.36" stroke-width="0.86"/><polyline points="344.0,343.2 337.1,349.9 329.7,356.6 321.9,363.2 313.7,369.6 304.8,375.6 295.6,380.8 286.2,384.7 277.1,387.2 268.6,388.3 261.0,388.1 254.0,387.2 247.6,386.0 241.2,385.1 234.6,384.4 227.5,384.0 220.2,383.4 213.1,382.1 207.0,379.7" fill="none" stroke="#e6c088" stroke-opacity="0.36" stroke-width="0.75"/><polyline points="206.7,348.1 211.7,340.4 217.2,333.0 222.6,326.0 227.9,319.4 233.1,313.0 238.3,306.7 243.9,300.5 250.1,294.6 256.8,289.0 263.9,283.9 271.3,279.4 278.7,275.5 286.1,272.1" fill="none" stroke="#e6c088" stroke-opacity="0.36" stroke-width="0.75"/><polyline points="342.0,353.2 333.5,360.0 324.3,365.7 314.7,370.1 305.4,373.4 296.5,375.9 288.0,378.1 279.9,380.5 271.7,383.2 263.1,386.3 254.1,389.5 244.9,392.3" fill="none" stroke="#8a6030" stroke-opacity="0.26" stroke-width="0.48"/><polyline points="220.1,393.6 214.3,390.8 210.1,386.7" fill="none" stroke="#8a6030" stroke-opacity="0.26" stroke-width="0.48"/><polyline points="207.0,344.2 210.2,337.1 214.8,329.8 220.6,322.6 227.3,315.8 234.5,309.5 241.8,303.7 248.9,298.4 255.5,293.3 261.8,288.2 268.0,282.9 274.4,277.5 281.2,272.0" fill="none" stroke="#8a6030" stroke-opacity="0.26" stroke-width="0.48"/><polyline points="338.6,350.0 330.5,355.3 322.5,360.5 314.6,365.7 306.6,371.1 298.4,376.5 289.8,381.9 280.7,386.9 271.5,391.1 262.3,394.2" fill="none" stroke="#8a6030" stroke-opacity="0.31" stroke-width="0.51"/><polyline points="224.7,393.0 218.6,391.0 212.8,388.7 207.3,385.8" fill="none" stroke="#8a6030" stroke-opacity="0.31" stroke-width="0.51"/><polyline points="209.6,342.2 215.4,334.8 221.2,328.0 226.7,321.5 231.8,315.4 236.3,309.4 240.8,303.3 245.5,297.1 250.8,290.8 256.8,284.6 263.6,278.8 271.0,273.5" fill="none" stroke="#8a6030" stroke-opacity="0.31" stroke-width="0.51"/><polyline points="342.4,352.4 333.7,358.0 324.8,362.9 316.0,367.3 307.6,371.4 299.3,375.6 290.9,380.1 282.2,384.8 273.2,389.6 263.7,394.0" fill="none" stroke="#e6c088" stroke-opacity="0.51" stroke-width="0.61"/><polyline points="216.8,394.9 212.4,391.1 208.6,386.9" fill="none" stroke="#e6c088" stroke-opacity="0.51" stroke-width="0.61"/><polyline points="207.0,339.3 212.6,331.9 218.9,324.8 225.5,318.2 231.9,312.0 238.0,306.2 243.6,300.4 249.1,294.6 254.7,288.7 260.6,282.7 267.1,276.8 274.1,271.2" fill="none" stroke="#e6c088" stroke-opacity="0.51" stroke-width="0.61"/><polyline points="339.8,350.1 332.3,356.0 324.8,361.9 317.1,368.0 309.1,373.9 300.6,379.7 291.7,384.9 282.6,389.4 273.5,392.8" fill="none" stroke="#e6c088" stroke-opacity="0.45" stroke-width="0.89"/><polyline points="205.9,348.0 211.3,340.6 216.4,333.7 220.9,327.2 225.0,321.0 228.7,314.8 232.6,308.6 236.8,302.2 241.8,295.7 247.6,289.3 254.3,283.4 261.7,277.9 269.4,273.2" fill="none" stroke="#e6c088" stroke-opacity="0.45" stroke-width="0.89"/><polyline points="342.2,351.5 334.0,357.1 325.8,362.4 317.8,367.6 309.7,372.9 301.4,378.4 292.8,384.1 283.7,389.6 274.2,394.6" fill="none" stroke="#e6c088" stroke-opacity="0.53" stroke-width="0.70"/><polyline points="215.1,392.8 210.5,389.4 206.1,385.9" fill="none" stroke="#e6c088" stroke-opacity="0.53" stroke-width="0.70"/><polyline points="206.8,338.2 212.5,331.0 218.5,324.2 224.3,317.7 229.9,311.5 235.2,305.4 240.5,299.3 245.8,293.2 251.6,287.1 258.0,281.2 264.9,275.6 272.4,270.6" fill="none" stroke="#e6c088" stroke-opacity="0.53" stroke-width="0.70"/><polyline points="341.9,350.9 334.7,357.2 327.2,363.4 319.4,369.5 311.3,375.7 302.8,382.0 293.8,388.4 284.1,394.6" fill="none" stroke="#8a6030" stroke-opacity="0.52" stroke-width="0.51"/><polyline points="221.7,396.1 219.0,391.0 216.6,386.1 214.1,381.5 211.3,377.5 208.1,373.7" fill="none" stroke="#8a6030" stroke-opacity="0.52" stroke-width="0.51"/><polyline points="208.7,328.0 214.4,320.9 220.5,314.0 226.9,307.4 233.4,301.1 240.0,295.1 246.7,289.3 253.7,283.7 260.9,278.5 268.4,273.8" fill="none" stroke="#8a6030" stroke-opacity="0.52" stroke-width="0.51"/><polyline points="343.6,351.8 336.4,358.3 328.9,364.8 321.2,371.4 312.9,378.1 304.2,384.6 294.8,390.6 285.2,395.8" fill="none" stroke="#e6c088" stroke-opacity="0.50" stroke-width="0.44"/><polyline points="219.3,392.6 213.4,390.8 207.4,388.9" fill="none" stroke="#e6c088" stroke-opacity="0.50" stroke-width="0.44"/><polyline points="209.4,330.6 214.9,323.7 220.4,317.1 225.7,310.7 231.2,304.4 236.9,298.1 243.0,292.1 249.6,286.3 256.7,281.0 264.1,276.2 271.7,272.1" fill="none" stroke="#e6c088" stroke-opacity="0.50" stroke-width="0.44"/><polyline points="344.7,352.3 337.3,358.6 329.4,364.5 321.3,370.0 312.9,375.3 304.5,380.6 295.8,385.9 286.8,391.4 277.3,397.0" fill="none" stroke="#8a6030" stroke-opacity="0.24" stroke-width="0.88"/><polyline points="207.5,327.3 212.9,320.2 219.1,313.4 225.6,306.9 232.3,300.7 239.0,294.8 245.7,289.1 252.5,283.5 259.5,278.1 266.6,273.0" fill="none" stroke="#8a6030" stroke-opacity="0.24" stroke-width="0.88"/><polyline points="340.8,349.3 334.5,355.3 328.0,361.7 321.1,368.3 313.7,375.0 305.6,381.6 296.9,387.7 287.7,393.2" fill="none" stroke="#e6c088" stroke-opacity="0.34" stroke-width="0.48"/><polyline points="208.0,347.0 211.2,340.7 213.7,334.7 215.8,328.8 217.7,322.8 219.9,316.6 222.8,310.0 226.7,303.2 231.7,296.4 237.8,289.8 244.9,283.6 252.6,278.1 260.7,273.3" fill="none" stroke="#e6c088" stroke-opacity="0.34" stroke-width="0.48"/><polyline points="342.9,362.7 334.7,369.6 325.9,375.7 316.6,380.8 307.1,384.8 297.9,387.6 289.1,389.4 280.8,390.7 273.0,391.7" fill="none" stroke="#8a6030" stroke-opacity="0.51" stroke-width="0.81"/><polyline points="206.1,332.9 210.5,326.1 215.4,319.5 220.9,313.0 226.9,306.8 233.4,300.9 240.2,295.4 247.1,290.3 254.0,285.4 260.7,280.7 267.3,276.1 274.0,271.4" fill="none" stroke="#8a6030" stroke-opacity="0.51" stroke-width="0.81"/><polyline points="342.7,361.9 333.7,367.3 324.6,372.0 315.7,376.0 307.0,379.6 298.6,383.2 290.3,387.0 281.8,391.2 273.0,395.8" fill="none" stroke="#e6c088" stroke-opacity="0.28" stroke-width="0.45"/><polyline points="205.7,329.4 211.8,322.5 218.2,316.0 224.8,309.8 231.2,304.0 237.4,298.3 243.4,292.8 249.2,287.2 255.1,281.5 261.3,275.7 267.9,270.0" fill="none" stroke="#e6c088" stroke-opacity="0.28" stroke-width="0.45"/><polyline points="344.6,363.1 337.4,371.0 329.2,378.7 320.2,385.7 310.5,391.7" fill="none" stroke="#8a6030" stroke-opacity="0.58" stroke-width="0.61"/><polyline points="209.9,319.0 215.5,312.2 221.8,305.7 228.6,299.5 235.9,293.8 243.4,288.5 251.1,283.8 258.6,279.6 265.9,275.7 272.9,272.0" fill="none" stroke="#8a6030" stroke-opacity="0.58" stroke-width="0.61"/><polyline points="341.9,360.1 334.5,366.6 326.6,372.8 318.4,378.6 309.8,384.2 301.0,389.7 292.0,395.2" fill="none" stroke="#8a6030" stroke-opacity="0.36" stroke-width="0.54"/><polyline points="208.7,315.2 215.0,308.3 221.9,301.8 229.1,295.5 236.5,289.7 243.9,284.2 251.3,278.9 258.7,273.9" fill="none" stroke="#8a6030" stroke-opacity="0.36" stroke-width="0.54"/><polyline points="340.8,372.5 332.4,379.8 323.3,386.4 313.7,392.1" fill="none" stroke="#e6c088" stroke-opacity="0.38" stroke-width="0.67"/><polyline points="204.0,314.5 212.2,307.6 220.9,301.3 229.6,295.7 238.0,290.6 246.1,286.1 253.6,281.8 260.8,277.8 267.6,273.8" fill="none" stroke="#e6c088" stroke-opacity="0.38" stroke-width="0.67"/><polyline points="345.0,361.3 337.8,368.2 330.1,374.7 321.9,381.0 313.3,387.0 304.4,392.8" fill="none" stroke="#8a6030" stroke-opacity="0.43" stroke-width="0.51"/><polyline points="208.7,310.8 215.9,304.1 223.5,297.9 231.1,292.0 238.7,286.6 246.1,281.4 253.5,276.5 260.8,272.0" fill="none" stroke="#8a6030" stroke-opacity="0.43" stroke-width="0.51"/><polyline points="339.7,369.6 330.8,374.7 322.0,379.5 313.3,384.1 304.7,388.6 296.1,393.2" fill="none" stroke="#e6c088" stroke-opacity="0.31" stroke-width="0.55"/><polyline points="203.9,327.2 211.1,320.6 217.8,314.5 224.0,308.7 229.7,303.1 235.0,297.5 240.2,291.9 245.4,286.1 251.0,280.3 257.0,274.6 263.4,269.1" fill="none" stroke="#e6c088" stroke-opacity="0.31" stroke-width="0.55"/><polyline points="342.6,372.0 333.9,378.3 324.9,384.0 315.7,388.9 306.4,393.4" fill="none" stroke="#8a6030" stroke-opacity="0.41" stroke-width="0.81"/><polyline points="203.4,317.2 210.9,310.5 218.7,304.3 226.4,298.6 233.8,293.2 241.0,288.2 247.8,283.3 254.5,278.5 261.0,273.7" fill="none" stroke="#8a6030" stroke-opacity="0.41" stroke-width="0.81"/><polyline points="342.0,371.4 334.2,378.8 325.9,386.2 317.0,393.4" fill="none" stroke="#e6c088" stroke-opacity="0.57" stroke-width="0.78"/><polyline points="206.1,317.2 212.5,310.7 218.9,304.4 225.4,298.3 232.0,292.5 238.8,287.0 245.9,281.9 253.1,277.1 260.4,272.9" fill="none" stroke="#e6c088" stroke-opacity="0.57" stroke-width="0.78"/><polyline points="342.0,370.6 334.0,377.2 325.4,383.2 316.5,388.6 307.4,393.4" fill="none" stroke="#8a6030" stroke-opacity="0.54" stroke-width="0.79"/><polyline points="205.3,313.5 211.8,306.8 218.8,300.5 226.2,294.5 233.6,289.0 241.1,283.8 248.4,278.9 255.5,274.2" fill="none" stroke="#8a6030" stroke-opacity="0.54" stroke-width="0.79"/><polyline points="342.9,370.9 335.6,378.5 327.4,385.6 318.5,392.2" fill="none" stroke="#e6c088" stroke-opacity="0.41" stroke-width="0.82"/><polyline points="203.2,309.4 210.3,302.6 218.1,296.2 226.3,290.3 234.6,285.0 242.8,280.2 250.7,275.9 258.4,271.8" fill="none" stroke="#e6c088" stroke-opacity="0.41" stroke-width="0.82"/><polyline points="339.9,366.9 333.0,373.5 325.6,380.4 317.8,387.3 309.4,394.1" fill="none" stroke="#8a6030" stroke-opacity="0.31" stroke-width="0.74"/><polyline points="209.9,313.2 213.6,306.7 218.0,300.1 223.2,293.5 229.2,287.1 235.9,281.0 243.1,275.4 250.8,270.3" fill="none" stroke="#8a6030" stroke-opacity="0.31" stroke-width="0.74"/><polyline points="338.3,380.2 330.0,387.3 321.0,393.8" fill="none" stroke="#e6c088" stroke-opacity="0.56" stroke-width="0.77"/><polyline points="207.8,309.4 213.8,302.9 220.4,296.7 227.5,290.9 234.9,285.5 242.4,280.6 249.9,276.1 257.3,271.9" fill="none" stroke="#e6c088" stroke-opacity="0.56" stroke-width="0.77"/><polyline points="339.1,380.3 330.8,387.3 322.1,394.2" fill="none" stroke="#8a6030" stroke-opacity="0.49" stroke-width="0.79"/><polyline points="206.6,312.6 213.1,306.3 219.6,300.3 226.0,294.5 232.5,288.9 239.1,283.5 245.8,278.4 252.8,273.6" fill="none" stroke="#8a6030" stroke-opacity="0.49" stroke-width="0.79"/><polyline points="338.9,378.9 331.3,386.7 323.1,394.6" fill="none" stroke="#8a6030" stroke-opacity="0.48" stroke-width="0.66"/><polyline points="205.8,308.8 211.9,302.3 218.3,296.0 225.0,290.0 232.0,284.3 239.4,279.0 246.9,274.2" fill="none" stroke="#8a6030" stroke-opacity="0.48" stroke-width="0.66"/><polyline points="340.5,380.1 331.3,385.1 322.1,389.5 313.0,393.6" fill="none" stroke="#8a6030" stroke-opacity="0.39" stroke-width="0.43"/><polyline points="206.9,312.1 214.0,306.1 220.9,300.4 227.5,295.0 233.9,289.7 240.0,284.5 246.0,279.2 252.0,273.9" fill="none" stroke="#8a6030" stroke-opacity="0.39" stroke-width="0.43"/><polyline points="341.1,379.8 333.1,386.8 324.6,393.8" fill="none" stroke="#8a6030" stroke-opacity="0.31" stroke-width="0.62"/><polyline points="206.5,308.5 213.1,302.3 219.7,296.3 226.2,290.6 232.8,285.1 239.6,279.8 246.5,274.8 253.6,270.1" fill="none" stroke="#8a6030" stroke-opacity="0.31" stroke-width="0.62"/><polyline points="342.8,381.2 335.3,389.4 326.9,397.2" fill="none" stroke="#e6c088" stroke-opacity="0.53" stroke-width="0.58"/><polyline points="208.0,297.2 215.8,291.0 224.0,285.4 232.4,280.3 240.7,275.8 248.9,271.8" fill="none" stroke="#e6c088" stroke-opacity="0.53" stroke-width="0.58"/><polyline points="204.6,307.9 212.5,301.9 220.4,296.5 228.0,291.4 235.2,286.6 242.1,282.0 248.6,277.5 255.0,272.9" fill="none" stroke="#8a6030" stroke-opacity="0.41" stroke-width="0.65"/><polyline points="343.4,380.1 335.5,386.9 327.2,393.7" fill="none" stroke="#8a6030" stroke-opacity="0.43" stroke-width="0.66"/><polyline points="208.3,304.7 214.6,298.6 220.8,292.7 227.1,287.0 233.6,281.5 240.3,276.2 247.2,271.1" fill="none" stroke="#8a6030" stroke-opacity="0.43" stroke-width="0.66"/><polyline points="208.2,300.9 214.6,294.7 221.4,288.9 228.5,283.4 235.9,278.3 243.4,273.7" fill="none" stroke="#e6c088" stroke-opacity="0.35" stroke-width="0.81"/><polyline points="344.4,380.5 336.6,387.5 328.4,394.5" fill="none" stroke="#e6c088" stroke-opacity="0.42" stroke-width="0.46"/><polyline points="205.8,307.6 211.0,301.4 216.5,295.3 222.4,289.3 228.6,283.5 235.3,277.9 242.2,272.7" fill="none" stroke="#e6c088" stroke-opacity="0.42" stroke-width="0.46"/><polyline points="206.4,304.1 212.5,298.0 219.0,292.1 225.8,286.6 232.8,281.4 239.9,276.5 247.1,272.0" fill="none" stroke="#e6c088" stroke-opacity="0.35" stroke-width="0.49"/><polyline points="209.5,300.9 216.0,295.1 222.7,289.5 229.5,284.2 236.3,279.1 243.0,274.2" fill="none" stroke="#8a6030" stroke-opacity="0.42" stroke-width="0.71"/><polyline points="208.1,296.8 215.8,291.1 223.4,285.7 230.9,280.7 238.2,275.8 245.3,271.2" fill="none" stroke="#e6c088" stroke-opacity="0.29" stroke-width="0.86"/><polyline points="204.1,303.4 211.5,297.6 218.6,292.0 225.5,286.7 232.3,281.5 239.0,276.5 245.7,271.6" fill="none" stroke="#8a6030" stroke-opacity="0.26" stroke-width="0.63"/></g><g clip-path="url(#cl_stop)"><polygon points="349.8,319.4 349.7,319.6 349.4,319.7 349.0,319.7 348.6,319.6 348.2,319.5 347.9,319.3 347.7,319.2 347.5,319.0 347.5,318.8 347.7,318.6 348.0,318.6 348.3,318.5 348.6,318.5 349.0,318.6 349.4,318.7 349.7,318.9 349.8,319.1 349.8,319.2 349.8,319.4" fill="none" stroke="#e6c088" stroke-opacity="0.27" stroke-width="0.60"/><polygon points="352.4,320.3 351.7,320.7 350.7,321.0 349.5,320.9 348.4,320.7 347.2,320.4 345.9,320.1 345.1,319.4 345.0,318.8 345.3,318.2 345.6,317.7 346.3,317.4 347.3,317.2 348.5,317.1 349.8,317.3 350.8,317.9 351.4,318.5 352.1,319.0 352.6,319.7 352.4,320.3" fill="none" stroke="#8a6030" stroke-opacity="0.56" stroke-width="0.63"/><polygon points="354.6,321.0 354.0,321.9 352.2,322.3 350.1,322.2 348.1,322.0 346.1,321.5 344.5,320.6 343.2,319.6 342.1,318.6 342.2,317.5 343.5,316.8 344.9,316.4 346.3,315.9 348.3,315.9 350.4,316.3 352.3,317.0 353.9,317.9 354.6,319.0 354.5,320.0 354.6,321.0" fill="none" stroke="#8a6030" stroke-opacity="0.57" stroke-width="0.72"/><polygon points="357.0,321.8 355.9,323.0 353.5,323.5 350.7,323.6 347.8,323.2 345.2,322.2 343.1,321.1 340.9,319.9 339.3,318.4 339.8,316.9 341.6,316.0 343.3,315.3 345.5,314.7 348.2,314.8 351.1,315.3 354.0,316.1 356.0,317.5 356.4,319.0 356.7,320.3 357.0,321.8" fill="none" stroke="#8a6030" stroke-opacity="0.42" stroke-width="0.67"/><polygon points="359.8,322.7 357.4,323.8 354.8,324.7 351.3,325.0 347.5,324.4 343.8,323.5 340.2,322.1 338.0,320.2 337.9,318.2 338.1,316.5 338.6,314.8 340.9,313.6 344.4,313.3 348.0,313.4 351.9,314.0 355.0,315.5 357.4,317.2 359.8,319.0 361.1,321.0 359.8,322.7" fill="none" stroke="#e6c088" stroke-opacity="0.47" stroke-width="0.71"/><polygon points="360.4,322.9 359.1,324.7 356.4,326.2 351.8,326.1 347.4,325.0 343.4,323.9 339.5,322.4 336.9,320.3 335.6,318.1 335.2,315.8 337.0,314.1 340.6,313.4 344.1,313.0 347.9,312.5 352.4,313.0 356.3,314.8 359.1,316.8 361.3,318.9 361.6,321.1 360.4,322.9" fill="none" stroke="#8a6030" stroke-opacity="0.41" stroke-width="0.76"/><polygon points="364.7,324.3 361.1,325.8 356.9,326.7 352.2,327.1 347.1,326.4 342.3,324.9 337.5,323.1 333.5,320.6 332.9,317.9 334.5,315.7 335.9,313.6 338.3,311.8 342.7,311.1 347.8,311.3 353.0,312.1 357.7,314.0 360.4,316.5 362.6,318.9 365.0,321.6 364.7,324.3" fill="none" stroke="#8a6030" stroke-opacity="0.30" stroke-width="0.89"/><polygon points="367.1,325.1 363.5,327.1 357.8,327.6 352.5,327.8 346.7,328.1 340.1,326.8 335.5,323.9 332.6,320.7 330.9,317.7 331.5,314.9 333.7,312.7 336.4,310.4 341.1,309.0 347.6,309.8 353.2,311.8 358.3,313.6 363.5,315.9 366.6,318.9 367.7,322.0 367.1,325.1" fill="none" stroke="#8a6030" stroke-opacity="0.57" stroke-width="0.82"/><polygon points="368.2,325.4 365.0,327.9 359.1,328.7 352.9,328.7 346.6,328.8 339.5,327.4 334.3,324.3 331.4,320.9 329.2,317.6 329.3,314.4 332.1,312.0 335.7,309.9 340.7,308.4 347.5,308.9 353.7,311.0 359.3,313.1 364.9,315.6 368.4,318.9 368.9,322.2 368.2,325.4" fill="none" stroke="#8a6030" stroke-opacity="0.39" stroke-width="0.89"/><polygon points="370.1,326.0 366.8,328.9 361.0,330.5 353.6,330.3 346.3,329.7 338.3,328.5 331.8,325.2 329.0,321.1 327.4,317.4 326.5,313.8 329.0,310.7 334.1,308.8 340.0,307.4 347.3,307.4 354.6,309.6 360.5,312.4 366.6,315.2 371.7,318.9 372.3,322.8 370.1,326.0" fill="none" stroke="#8a6030" stroke-opacity="0.28" stroke-width="0.85"/><polygon points="372.7,326.9 369.5,330.4 362.9,332.3 354.3,331.8 346.1,330.7 337.4,329.3 329.8,325.9 326.0,321.4 324.1,317.2 323.6,313.0 327.0,309.8 332.8,307.9 339.2,306.3 347.1,305.9 355.5,308.1 362.2,311.4 368.6,314.8 373.7,318.8 374.6,323.1 372.7,326.9" fill="none" stroke="#8a6030" stroke-opacity="0.46" stroke-width="0.67"/><polygon points="372.0,326.7 368.9,330.1 363.9,333.2 355.2,333.8 345.8,332.1 337.1,329.6 329.9,325.9 326.2,321.4 323.5,317.2 321.3,312.5 323.9,308.5 331.4,306.9 339.3,306.5 347.2,306.3 355.7,307.7 363.5,310.7 370.8,314.3 376.1,318.8 375.8,323.3 372.0,326.7" fill="none" stroke="#e6c088" stroke-opacity="0.27" stroke-width="0.60"/><polygon points="377.2,328.4 370.9,331.1 364.0,333.3 355.2,333.8 345.7,332.5 336.1,330.5 326.6,327.1 321.8,321.9 322.2,317.1 322.7,312.8 323.9,308.5 329.4,305.5 337.8,304.5 347.0,304.6 356.4,306.6 363.9,310.5 369.8,314.5 376.7,318.8 380.5,324.1 377.2,328.4" fill="none" stroke="#8a6030" stroke-opacity="0.46" stroke-width="0.53"/><polyline points="318.9,316.8 320.6,312.3 324.3,308.7 328.6,304.9 336.6,302.9 346.9,304.3 356.1,307.1 364.9,309.9 373.0,313.8 377.5,318.8 379.7,323.9 379.2,329.0 379.2,329.0 373.1,332.3 363.8,333.1 355.2,333.9 345.3,334.2 334.9,331.6 327.4,326.8 321.9,321.9 318.9,316.8" fill="none" stroke="#8a6030" stroke-opacity="0.48" stroke-width="0.67"/><polyline points="315.7,311.2 322.4,307.9 328.9,305.2 336.8,303.2 346.8,303.5 357.2,305.3 367.8,308.2 375.8,313.2 377.9,318.8 378.5,323.7 379.7,329.2 379.7,329.2 376.1,334.0 366.8,336.0 356.2,336.1 345.2,334.9 335.2,331.3 327.6,326.7 319.8,322.1" fill="none" stroke="#e6c088" stroke-opacity="0.29" stroke-width="0.58"/><polyline points="317.6,305.8 326.0,303.1 335.8,301.9 346.7,302.0 357.6,304.7 366.8,308.8 376.4,313.1 384.6,318.7 385.4,324.8 380.6,329.5 380.6,329.5 375.5,333.6 367.8,336.8 356.7,337.2 345.0,335.9 332.8,333.5 322.9,328.4 319.0,322.2" fill="none" stroke="#8a6030" stroke-opacity="0.31" stroke-width="0.56"/><polyline points="317.0,305.6 327.3,304.0 336.1,302.2 346.5,301.0 358.7,302.9 369.7,307.2 379.0,312.5 383.8,318.7 382.8,324.4 381.3,329.7 381.3,329.7 379.5,335.8 370.9,339.8 357.4,338.9 344.9,336.1 333.3,333.0 323.6,328.2 316.7,322.4" fill="none" stroke="#8a6030" stroke-opacity="0.47" stroke-width="0.56"/><polyline points="314.5,304.5 324.3,301.9 335.5,301.5 346.5,300.8 359.4,301.7 371.1,306.4 378.9,312.5 385.2,318.7 387.9,325.2 384.5,330.8 384.5,330.8 379.0,335.6 371.3,340.1 358.3,340.9 344.6,337.4 333.0,333.2 321.4,328.9 313.0,322.8" fill="none" stroke="#8a6030" stroke-opacity="0.55" stroke-width="0.79"/><polyline points="362.4,341.3 349.6,341.1 336.8,337.7 325.3,333.2 315.9,327.6" fill="none" stroke="#e6c088" stroke-opacity="0.28" stroke-width="0.90"/><polyline points="318.7,299.5 330.5,298.8 342.3,299.9 353.6,301.2 365.0,304.0 374.8,308.5 383.3,313.9 391.0,320.1 393.6,326.8 387.9,331.9 387.9,331.9 379.2,334.9 371.8,338.3 362.4,341.3" fill="none" stroke="#e6c088" stroke-opacity="0.28" stroke-width="0.90"/><polyline points="314.9,301.8 323.3,298.9 333.2,296.7 345.4,296.7 357.6,300.0 367.3,305.0 376.4,309.5 386.7,314.4 394.3,320.8 395.0,327.4 391.0,332.9 391.0,332.9 385.1,337.6 376.0,340.7 364.0,341.1 351.9,340.1 339.3,339.1 325.5,336.6 314.6,330.9" fill="none" stroke="#e6c088" stroke-opacity="0.26" stroke-width="0.46"/><polyline points="344.4,341.6 332.1,338.7 320.7,334.3 310.4,329.1" fill="none" stroke="#e6c088" stroke-opacity="0.43" stroke-width="0.90"/><polyline points="319.3,297.5 328.6,294.7 340.7,295.1 352.9,297.5 364.3,300.7 374.5,305.0 382.0,310.4 387.2,316.0 392.9,321.8 398.5,328.6 398.9,335.5 398.9,335.5 391.0,339.8 378.8,341.1 367.3,341.5" fill="none" stroke="#e6c088" stroke-opacity="0.43" stroke-width="0.90"/><polyline points="346.8,343.1 334.6,340.1 322.9,336.3 313.5,330.9" fill="none" stroke="#e6c088" stroke-opacity="0.38" stroke-width="0.80"/><polyline points="314.2,298.9 324.5,297.8 334.0,296.5 344.7,295.6 356.7,296.9 368.1,300.4 378.3,305.0 387.8,310.2 395.3,316.2 397.8,322.6 395.4,328.2 392.1,333.2 392.1,333.2 389.3,338.7 383.9,344.1" fill="none" stroke="#e6c088" stroke-opacity="0.38" stroke-width="0.80"/><polyline points="336.2,343.0 324.1,338.9 315.1,333.1" fill="none" stroke="#8a6030" stroke-opacity="0.49" stroke-width="0.74"/><polyline points="317.4,297.5 326.2,295.2 336.5,294.0 348.3,295.1 359.7,298.0 370.5,301.5 381.6,305.4 391.8,310.5 397.8,316.9 398.5,323.2 396.9,328.8 395.6,334.4 395.6,334.4 392.9,340.1 385.6,344.5" fill="none" stroke="#8a6030" stroke-opacity="0.49" stroke-width="0.74"/><polyline points="338.1,346.1 326.5,340.7 316.9,335.1" fill="none" stroke="#8a6030" stroke-opacity="0.36" stroke-width="0.56"/><polyline points="316.5,293.0 329.2,293.9 340.9,295.6 351.6,296.8 363.1,298.0 375.2,300.7 385.8,305.4 394.1,311.2 400.7,317.5 404.9,324.2 404.4,330.5 398.5,335.3 398.5,335.3 390.2,338.6 382.9,341.9" fill="none" stroke="#8a6030" stroke-opacity="0.36" stroke-width="0.56"/><polyline points="311.4,294.7 323.3,294.8 333.8,294.8 344.0,294.3 355.5,294.5 367.6,296.7 378.9,300.9 388.7,306.0 397.4,311.8 403.8,318.2 405.4,324.7 402.0,330.2 396.6,334.7 396.6,334.7 392.3,339.3 388.3,344.9" fill="none" stroke="#e6c088" stroke-opacity="0.52" stroke-width="0.74"/><polyline points="315.3,293.8 325.7,293.0 336.1,292.2 347.3,292.3 359.2,294.2 370.2,297.9 379.8,302.5 389.0,307.3 398.3,312.6 405.7,318.9 408.3,325.4 405.8,331.2 400.6,336.0 400.6,336.0 395.6,340.6 390.0,345.4" fill="none" stroke="#8a6030" stroke-opacity="0.60" stroke-width="0.88"/><polyline points="320.0,293.9 328.8,291.7 339.2,290.5 351.0,291.3 362.6,294.3 373.2,298.4 383.1,302.8 392.6,307.6 400.5,313.3 404.8,319.5 405.2,325.5 403.7,331.0 402.4,336.6 402.4,336.6 400.3,342.5" fill="none" stroke="#8a6030" stroke-opacity="0.35" stroke-width="0.48"/><polyline points="317.3,291.5 328.2,291.0 339.7,292.1 350.7,294.0 361.8,295.7 374.1,297.6 386.9,300.9 397.6,306.3 403.6,313.0 405.1,319.5 404.7,325.5 404.6,331.2 403.8,337.1 403.8,337.1 400.0,342.4" fill="none" stroke="#8a6030" stroke-opacity="0.46" stroke-width="0.86"/><polyline points="308.4,290.3 320.6,290.3 332.3,291.2 343.2,292.2 354.2,293.3 365.5,295.3 376.4,298.6 386.4,303.1 395.7,308.1 404.8,313.8 412.2,320.3 415.1,327.1 411.9,333.0 404.4,337.3 404.4,337.3 396.4,340.5 389.8,344.1" fill="none" stroke="#e6c088" stroke-opacity="0.48" stroke-width="0.77"/><polyline points="317.1,289.3 327.3,288.2 338.2,287.7 350.0,288.2 362.1,290.4 373.2,294.4 381.8,299.8 388.2,305.4 394.1,310.6 401.5,315.6 409.9,321.4 416.4,328.1 418.3,334.8 414.6,340.6 414.6,340.6 407.2,344.9" fill="none" stroke="#e6c088" stroke-opacity="0.57" stroke-width="0.78"/><polyline points="319.9,287.6 330.5,286.9 341.9,287.3 353.6,288.4 365.8,290.3 377.7,293.6 387.8,298.6 394.9,304.6 399.2,310.6 402.7,316.2 407.6,321.8 413.5,328.0 418.2,335.0 418.4,341.8" fill="none" stroke="#8a6030" stroke-opacity="0.54" stroke-width="0.65"/><polyline points="314.0,288.6 324.9,288.8 335.3,289.1 345.7,289.1 356.9,289.4 369.0,290.9 380.7,294.3 390.6,299.2 398.3,304.9 404.6,310.7 410.4,316.6 415.3,322.7 417.8,329.0 416.7,334.9 412.3,339.8 412.3,339.8 406.2,344.1" fill="none" stroke="#8a6030" stroke-opacity="0.53" stroke-width="0.85"/><polyline points="317.9,288.2 327.0,286.3 337.5,285.6 349.0,286.6 360.6,288.7 372.0,291.6 383.4,295.0 394.4,299.4 403.6,304.8 409.6,310.9 412.0,317.2 412.0,323.0 411.9,328.4 413.0,334.2 414.6,340.6 414.6,340.6 414.2,347.3" fill="none" stroke="#8a6030" stroke-opacity="0.50" stroke-width="0.68"/><polyline points="319.2,285.1 330.2,285.3 341.3,286.3 352.4,287.5 364.0,288.8 376.3,290.9 388.3,294.4 398.4,299.5 405.6,305.5 409.9,311.8 412.9,317.8 416.0,323.7 419.4,329.9 421.7,336.4 421.0,342.7" fill="none" stroke="#e6c088" stroke-opacity="0.33" stroke-width="0.52"/><polyline points="312.7,281.0 324.3,280.8 336.4,282.2 348.1,284.6 359.1,287.4 369.8,290.3 380.3,293.6 390.1,297.7 398.5,302.5 405.5,307.8 411.6,313.3 417.7,319.0 424.0,325.3 429.4,332.1" fill="none" stroke="#8a6030" stroke-opacity="0.57" stroke-width="0.44"/><polyline points="319.0,283.1 330.0,283.8 340.8,285.1 351.4,286.4 362.3,287.7 373.9,289.3 385.9,292.0 397.0,296.2 405.9,301.6 412.0,307.6 415.9,313.7 418.8,319.6 421.7,325.5 424.4,331.6 425.6,337.8 424.1,343.7" fill="none" stroke="#8a6030" stroke-opacity="0.60" stroke-width="0.73"/><polyline points="319.8,278.8 331.8,279.9 343.7,282.6 354.6,286.2 364.4,289.7 374.0,292.8 384.3,295.6 395.4,298.7 406.7,302.7 416.7,307.9 424.0,313.9 428.5,320.4" fill="none" stroke="#8a6030" stroke-opacity="0.38" stroke-width="0.76"/><polyline points="314.3,280.8 325.1,280.8 336.2,281.6 347.2,282.9 358.3,284.4 369.7,286.2 381.5,288.7 392.9,292.4 402.8,297.3 410.2,303.0 415.2,309.1 418.7,315.0 422.0,320.8 425.8,326.7 429.6,333.0" fill="none" stroke="#e6c088" stroke-opacity="0.36" stroke-width="0.78"/><polyline points="315.2,276.8 327.1,277.4 339.2,279.4 350.6,282.3 361.3,285.3 371.7,288.2 382.4,291.0 393.3,294.3 403.8,298.5 413.0,303.6 420.3,309.3 425.7,315.4 429.9,321.6" fill="none" stroke="#e6c088" stroke-opacity="0.56" stroke-width="0.89"/><polyline points="316.3,281.4 325.2,279.8 335.3,278.8 346.2,278.9 357.7,280.4 369.0,283.0 379.8,286.4 390.2,290.3 400.5,294.5 410.4,299.2 419.4,304.5 426.6,310.4" fill="none" stroke="#e6c088" stroke-opacity="0.36" stroke-width="0.79"/><polyline points="318.2,279.1 328.9,279.8 339.3,280.8 349.6,281.7 360.4,282.5 372.1,283.5 384.4,285.3 396.8,288.5 407.9,293.0 416.6,298.7 422.5,305.0 426.0,311.3 428.2,317.4" fill="none" stroke="#8a6030" stroke-opacity="0.26" stroke-width="0.52"/><polyline points="312.1,274.8 322.8,274.5 334.2,275.5 345.4,277.7 356.1,280.8 366.0,284.2 375.5,287.5 385.1,290.5 395.6,293.4 407.0,296.7 418.6,300.8 429.3,306.0" fill="none" stroke="#e6c088" stroke-opacity="0.52" stroke-width="0.69"/><polyline points="318.5,278.1 327.6,276.5 337.7,275.3 348.8,275.1 360.5,276.2 372.2,278.8 383.2,282.6 393.1,287.1 402.0,292.0 410.3,297.0 418.3,302.1 426.0,307.5 432.9,313.2" fill="none" stroke="#8a6030" stroke-opacity="0.58" stroke-width="0.46"/><polyline points="320.4,275.4 330.9,276.1 341.5,277.1 352.0,278.2 362.9,279.4 374.4,280.8 386.4,282.9 398.5,285.9 409.6,290.2 418.9,295.5 425.8,301.6 430.1,307.8" fill="none" stroke="#8a6030" stroke-opacity="0.59" stroke-width="0.63"/><polyline points="311.0,271.8 322.5,272.9 333.8,274.3 344.6,276.0 355.3,277.8 365.9,280.0 376.4,282.7 386.4,286.0 395.8,289.9 404.4,294.3 412.5,299.0 420.6,303.8 429.0,308.9" fill="none" stroke="#e6c088" stroke-opacity="0.52" stroke-width="0.42"/><polyline points="336.1,269.9 347.8,270.9 359.6,273.4 370.7,276.9 380.9,281.1 390.2,285.6 399.2,290.0 408.0,294.4 416.8,299.0 425.4,303.9 433.2,309.2" fill="none" stroke="#e6c088" stroke-opacity="0.37" stroke-width="0.56"/><polyline points="320.3,274.1 330.8,275.4 341.0,276.6 351.1,277.4 361.6,278.1 372.8,279.1 384.7,280.6 396.7,283.3 408.2,287.0 418.2,291.9 426.5,297.5" fill="none" stroke="#8a6030" stroke-opacity="0.51" stroke-width="0.58"/><polyline points="312.2,271.8 322.2,271.2 332.6,270.9 343.5,271.3 354.8,272.6 366.0,274.9 376.7,278.1 386.7,282.0 396.0,286.3 404.9,290.7 413.8,295.1 423.2,299.7 432.8,304.6" fill="none" stroke="#8a6030" stroke-opacity="0.57" stroke-width="0.87"/><polyline points="315.8,271.6 326.1,271.8 336.5,272.4 347.0,273.1 357.9,273.9 369.3,275.0 381.2,276.7 393.2,279.2 404.8,282.8 415.2,287.5 423.7,293.1 429.9,299.2" fill="none" stroke="#8a6030" stroke-opacity="0.30" stroke-width="0.63"/><polyline points="328.9,270.1 339.8,272.0 350.3,273.9 360.7,275.7 371.3,277.5 382.2,279.5 393.5,282.0 404.6,285.3 415.1,289.5 424.3,294.4 432.1,299.8" fill="none" stroke="#e6c088" stroke-opacity="0.29" stroke-width="0.49"/><polyline points="357.3,269.4 369.0,270.6 380.8,272.9 392.1,276.3 402.3,280.7 410.9,285.9 418.0,291.5 423.6,297.2 428.5,302.8" fill="none" stroke="#e6c088" stroke-opacity="0.42" stroke-width="0.57"/><polyline points="372.7,270.2 384.5,272.7 395.6,276.4 405.7,280.9 414.6,286.0 422.5,291.3 429.6,296.8" fill="none" stroke="#e6c088" stroke-opacity="0.49" stroke-width="0.43"/><polyline points="341.9,267.4 352.6,270.8 362.6,274.2 372.1,277.4 381.6,280.3 391.4,282.9 402.0,285.6 413.1,288.5 424.4,292.1 435.3,296.5" fill="none" stroke="#e6c088" stroke-opacity="0.34" stroke-width="0.70"/><polyline points="371.0,269.0 381.6,272.4 391.3,276.5 400.2,281.1 408.4,285.7 416.2,290.4 424.1,295.0 432.4,299.5" fill="none" stroke="#e6c088" stroke-opacity="0.30" stroke-width="0.53"/><polyline points="362.2,270.1 372.2,273.1 382.0,276.1 391.8,279.2 401.9,282.2 412.5,285.4 423.5,288.9 434.5,293.0" fill="none" stroke="#8a6030" stroke-opacity="0.28" stroke-width="0.71"/><polyline points="376.9,270.4 387.8,273.0 398.7,275.9 409.5,279.4 419.7,283.6 429.0,288.3" fill="none" stroke="#e6c088" stroke-opacity="0.26" stroke-width="0.55"/><polyline points="378.4,267.7 389.1,271.4 399.2,275.5 408.9,279.8 418.2,284.3 427.2,289.0" fill="none" stroke="#e6c088" stroke-opacity="0.51" stroke-width="0.56"/><polyline points="380.3,270.1 390.7,273.4 400.6,277.2 410.3,281.1 419.9,285.3 429.6,289.6" fill="none" stroke="#8a6030" stroke-opacity="0.53" stroke-width="0.74"/><polyline points="372.2,268.8 383.0,271.0 393.7,273.8 404.0,277.2 413.8,281.2 422.7,285.7 430.7,290.7" fill="none" stroke="#e6c088" stroke-opacity="0.57" stroke-width="0.45"/><polyline points="376.0,267.6 385.9,271.4 395.4,275.2 404.8,279.0 414.2,282.9 423.6,287.0 432.8,291.3" fill="none" stroke="#8a6030" stroke-opacity="0.29" stroke-width="0.59"/><polyline points="381.4,269.3 392.5,271.2 403.9,273.6 415.3,276.7 426.2,280.5" fill="none" stroke="#e6c088" stroke-opacity="0.37" stroke-width="0.79"/><polyline points="396.6,270.4 406.3,274.5 415.6,278.6 424.8,283.0 433.9,287.4" fill="none" stroke="#8a6030" stroke-opacity="0.33" stroke-width="0.87"/><polyline points="388.2,268.7 399.4,270.9 410.6,273.7 421.5,277.3 431.6,281.6" fill="none" stroke="#8a6030" stroke-opacity="0.57" stroke-width="0.44"/><polyline points="390.8,269.5 401.5,272.0 412.0,275.2 422.1,279.0 431.7,283.2" fill="none" stroke="#e6c088" stroke-opacity="0.33" stroke-width="0.57"/><polyline points="382.2,268.9 391.6,272.0 401.1,275.1 411.0,278.2 421.3,281.3 432.2,284.7" fill="none" stroke="#e6c088" stroke-opacity="0.40" stroke-width="0.64"/><polyline points="397.3,269.3 407.3,272.7 417.4,276.2 427.6,279.9" fill="none" stroke="#8a6030" stroke-opacity="0.56" stroke-width="0.42"/><polyline points="400.4,269.4 411.9,271.8 423.4,274.7 434.6,278.3" fill="none" stroke="#e6c088" stroke-opacity="0.37" stroke-width="0.71"/></g><g clip-path="url(#cl_mb)"><polygon points="361.8,356.0 361.6,356.2 361.4,356.4 361.0,356.5 360.5,356.4 360.2,356.2 359.9,356.1 359.6,355.9 359.5,355.6 359.5,355.4 359.6,355.1 359.9,355.0 360.4,355.0 360.7,355.0 361.2,354.9 361.6,355.1 361.8,355.3 362.0,355.6 362.0,355.8 361.8,356.0" fill="none" stroke="#8a6030" stroke-opacity="0.34" stroke-width="0.61"/><polygon points="363.8,356.7 363.4,357.3 362.4,357.6 361.3,357.6 360.2,357.6 359.1,357.3 358.3,356.8 357.7,356.2 357.3,355.5 357.4,354.9 358.1,354.4 358.8,354.0 359.6,353.6 360.7,353.6 361.8,353.9 362.8,354.3 363.6,354.8 363.9,355.5 363.9,356.1 363.8,356.7" fill="none" stroke="#8a6030" stroke-opacity="0.47" stroke-width="0.63"/><polygon points="366.6,357.7 365.5,358.7 364.1,359.5 362.0,359.9 359.7,359.4 358.0,358.5 356.3,357.7 354.6,356.7 353.9,355.4 354.3,354.1 355.2,353.1 356.8,352.3 358.8,352.2 360.7,352.1 362.9,352.0 365.1,352.7 366.2,354.0 366.6,355.3 367.0,356.5 366.6,357.7" fill="none" stroke="#e6c088" stroke-opacity="0.42" stroke-width="0.45"/><polygon points="369.6,358.7 367.8,360.1 364.8,360.4 362.1,360.4 359.4,360.7 356.3,360.2 354.0,358.8 352.4,357.1 351.8,355.3 352.6,353.7 354.1,352.5 355.3,351.1 357.5,350.0 360.7,350.1 363.4,351.1 365.8,352.2 367.8,353.5 369.0,355.1 369.7,356.9 369.6,358.7" fill="none" stroke="#e6c088" stroke-opacity="0.48" stroke-width="0.53"/><polygon points="371.1,359.2 369.6,361.2 366.9,362.8 362.9,363.0 359.0,362.2 355.2,361.3 351.9,359.8 350.1,357.5 349.2,355.2 348.9,352.8 350.5,350.8 353.7,349.8 357.0,349.1 360.6,348.6 364.6,349.2 367.8,350.9 370.5,352.7 372.5,354.9 372.5,357.3 371.1,359.2" fill="none" stroke="#8a6030" stroke-opacity="0.24" stroke-width="0.63"/><polygon points="374.5,360.4 370.7,361.9 366.8,362.7 363.0,363.5 358.6,363.5 354.3,362.3 350.4,360.4 347.6,357.9 347.5,355.2 349.1,352.9 350.1,350.6 351.9,348.3 356.0,347.2 360.6,347.7 364.9,348.7 368.7,350.3 371.2,352.5 373.3,354.9 375.2,357.6 374.5,360.4" fill="none" stroke="#e6c088" stroke-opacity="0.29" stroke-width="0.64"/><polygon points="375.9,360.9 373.5,363.7 368.9,365.2 363.4,365.0 358.3,364.5 352.7,363.8 348.0,361.6 345.8,358.3 344.9,355.1 345.0,351.9 347.4,349.4 351.2,347.6 355.3,346.0 360.6,345.4 365.9,347.0 369.9,349.4 373.7,351.7 376.8,354.6 377.2,357.9 375.9,360.9" fill="none" stroke="#8a6030" stroke-opacity="0.42" stroke-width="0.54"/><polygon points="376.4,361.1 374.5,364.3 369.9,366.3 363.8,366.2 358.0,365.5 352.3,364.3 347.7,361.7 345.1,358.4 343.0,355.0 342.8,351.4 346.0,348.7 350.6,347.2 355.1,345.7 360.6,345.0 366.3,346.3 371.2,348.6 375.6,351.2 378.1,354.6 377.6,357.9 376.4,361.1" fill="none" stroke="#e6c088" stroke-opacity="0.37" stroke-width="0.62"/><polygon points="379.0,362.0 375.8,365.1 371.1,367.7 364.4,368.3 357.5,367.6 350.5,366.2 344.9,363.0 342.7,358.8 341.5,354.9 340.4,350.8 342.6,347.1 348.1,345.0 354.1,343.9 360.6,343.5 367.1,345.0 372.5,347.6 377.9,350.5 382.2,354.3 382.0,358.6 379.0,362.0" fill="none" stroke="#e6c088" stroke-opacity="0.48" stroke-width="0.65"/><polygon points="380.4,362.4 377.0,365.9 372.2,369.0 364.8,369.7 357.2,368.5 349.9,366.7 343.8,363.5 340.9,359.1 339.7,354.9 338.6,350.4 341.0,346.4 347.1,344.2 353.7,343.2 360.6,342.7 367.7,343.9 373.7,346.8 379.2,350.1 383.6,354.2 383.6,358.8 380.4,362.4" fill="none" stroke="#8a6030" stroke-opacity="0.47" stroke-width="0.81"/><polyline points="387.1,359.2 384.7,364.0 384.7,364.0 378.0,366.5 371.6,368.3 364.9,370.2 356.8,370.1 349.0,367.7 342.1,364.3 337.8,359.6 338.1,354.8 340.0,350.7 341.0,346.4 344.9,342.3 352.5,341.1 360.5,341.9 368.0,343.4 374.6,346.2 379.5,350.0 383.9,354.2 387.1,359.2" fill="none" stroke="#e6c088" stroke-opacity="0.50" stroke-width="0.88"/><polyline points="385.2,364.1 380.8,368.3 374.0,371.1 365.8,373.3 356.0,373.1 347.7,369.0 342.6,364.0 337.3,359.7 332.8,354.6 333.3,349.2 337.7,344.8 343.8,341.4 352.0,340.2 360.5,341.3 368.6,342.4 377.9,343.9 385.3,348.2" fill="none" stroke="#e6c088" stroke-opacity="0.50" stroke-width="0.62"/><polyline points="389.7,365.7 381.4,368.6 373.8,370.9 366.0,374.0 355.6,374.4 345.9,370.9 338.6,365.9 333.7,360.3 333.1,354.6 334.7,349.5 336.0,344.0 340.9,339.0 350.6,337.7 360.5,339.6 369.2,341.4 377.9,343.9 384.9,348.3" fill="none" stroke="#8a6030" stroke-opacity="0.38" stroke-width="0.63"/><polyline points="385.6,371.3 377.4,375.1 366.9,376.9 355.6,374.5 347.0,369.7 338.7,365.9 329.7,361.1 326.1,354.3 329.3,348.2 334.8,343.4 341.9,339.8 351.0,338.5 360.5,338.1 371.2,338.1 381.8,341.3 387.3,347.6" fill="none" stroke="#8a6030" stroke-opacity="0.60" stroke-width="0.82"/><polyline points="386.8,372.0 377.6,375.3 366.5,375.5 355.4,375.2 343.6,373.2 334.8,367.6 331.0,360.8 328.3,354.4 327.9,347.9 333.1,342.6 340.9,339.0 349.6,336.0 360.4,335.5 370.8,338.7 379.5,342.9 388.5,347.3" fill="none" stroke="#8a6030" stroke-opacity="0.54" stroke-width="0.68"/><polyline points="387.4,372.4 377.0,374.6 366.9,376.8 354.6,378.1 342.4,374.4 334.8,367.6 329.6,361.1 326.1,354.3 327.5,347.8 332.1,342.2 338.3,336.8 348.5,334.1 360.5,335.8 370.7,339.0 381.2,341.7 391.0,346.5" fill="none" stroke="#8a6030" stroke-opacity="0.55" stroke-width="0.64"/><polyline points="388.9,373.3 379.2,377.1 367.6,379.4 354.8,377.4 344.2,372.7 334.1,368.0 324.9,361.9 322.6,354.2 326.3,347.5 331.2,341.7 338.4,336.9 349.1,335.1 360.4,335.2 372.4,336.0 383.8,339.9 390.3,346.7" fill="none" stroke="#e6c088" stroke-opacity="0.57" stroke-width="0.66"/><polyline points="387.9,372.7 379.5,377.5 368.4,382.1 353.8,381.0 342.2,374.7 333.7,368.2 326.1,361.7 322.7,354.2 323.5,346.8 326.8,339.7 335.5,334.5 348.6,334.1 360.5,335.8 372.1,336.5 385.0,339.1" fill="none" stroke="#8a6030" stroke-opacity="0.53" stroke-width="0.71"/><polyline points="390.6,374.4 381.3,379.6 368.2,381.5 353.9,380.5 339.3,377.7 327.7,370.9 324.2,362.0 323.5,354.2 321.4,346.4 324.5,338.6 334.9,333.9 347.4,332.0 360.4,331.8 373.0,335.0 383.5,340.1 394.4,345.5" fill="none" stroke="#8a6030" stroke-opacity="0.24" stroke-width="0.49"/><polyline points="395.4,376.8 382.9,379.7 370.5,382.0 356.6,382.4 343.0,378.5 332.2,372.4 322.4,365.7 316.2,357.6 318.0,349.4 324.2,343.0 330.0,336.9 338.6,331.6 351.3,330.2 364.4,331.9 377.2,334.5 389.2,339.0" fill="none" stroke="#e6c088" stroke-opacity="0.46" stroke-width="0.59"/><polyline points="385.7,381.1 372.7,382.4 359.4,382.3 344.8,381.7 330.4,377.6 322.1,369.2 320.3,360.5 319.1,352.9 318.4,345.2 322.7,338.2 331.7,333.3 342.6,329.8 355.3,328.3 368.6,330.9 379.3,336.2 389.2,341.2" fill="none" stroke="#8a6030" stroke-opacity="0.58" stroke-width="0.77"/><polyline points="390.0,384.0 376.2,385.6 361.9,384.7 347.9,382.7 334.9,378.4 325.7,371.3 320.0,363.6 314.6,356.0 311.6,347.6 316.0,340.2 326.1,335.5 336.7,332.4 347.3,329.5 359.7,328.5 372.5,330.9 384.2,335.1 395.6,340.1" fill="none" stroke="#e6c088" stroke-opacity="0.42" stroke-width="0.68"/><polyline points="390.1,382.7 377.3,384.3 364.5,385.9 350.0,386.1 336.1,381.9 326.5,374.5 320.0,366.7 314.2,359.2 311.2,351.2 314.1,343.8 320.9,337.8 328.6,332.5 338.1,328.0 350.6,326.5 363.7,328.7 375.4,332.3 387.1,335.7" fill="none" stroke="#8a6030" stroke-opacity="0.43" stroke-width="0.83"/><polyline points="390.3,382.9 379.2,387.7 364.8,388.4 350.1,385.8 336.3,381.7 324.1,375.8 316.7,367.6 315.0,359.2 314.5,351.5 313.4,343.6 315.9,335.6 325.4,330.2 338.3,328.3 351.1,327.9 363.7,328.1 376.5,330.4 387.8,335.2" fill="none" stroke="#8a6030" stroke-opacity="0.50" stroke-width="0.70"/><polyline points="392.7,383.9 382.1,389.2 367.7,390.7 352.7,387.9 339.3,383.3 326.8,378.1 316.8,371.1 312.1,362.7 311.5,354.6 311.2,346.9 312.0,338.8 318.1,331.8 329.6,328.2 342.7,327.4 355.1,327.1 367.8,327.3 380.8,329.8 392.0,335.0" fill="none" stroke="#8a6030" stroke-opacity="0.48" stroke-width="0.91"/><polyline points="386.8,390.7 373.1,392.9 358.2,390.6 345.3,385.5 334.0,380.5 322.2,375.8 311.2,369.6 304.8,361.5 304.5,353.1 307.5,345.6 311.5,338.6 317.7,332.5 327.4,328.3 339.2,326.6 350.9,326.0 362.9,325.2 376.2,325.6 389.3,329.1" fill="none" stroke="#8a6030" stroke-opacity="0.33" stroke-width="0.43"/><polyline points="390.0,392.6 375.5,393.6 360.9,391.1 347.6,387.6 334.7,384.1 322.5,379.3 313.3,372.3 308.4,364.3 305.8,356.4 304.0,348.6 304.7,340.6 310.4,333.9 320.8,329.8 332.4,327.7 343.3,325.8 354.4,323.8 367.1,323.4 379.9,326.0 391.0,331.1" fill="none" stroke="#8a6030" stroke-opacity="0.33" stroke-width="0.51"/><polyline points="389.1,389.5 377.8,394.0 363.7,395.3 349.0,392.8 335.6,388.1 323.5,382.5 313.0,375.9 306.2,368.0 304.4,359.6 305.9,352.0 307.2,345.0 308.1,337.5 311.7,330.0 320.3,324.5 332.8,322.2 346.0,322.5 358.4,323.5 370.5,324.8 382.8,327.2 394.0,331.7" fill="none" stroke="#8a6030" stroke-opacity="0.34" stroke-width="0.87"/><polyline points="391.9,391.0 380.0,394.5 366.4,396.8 351.4,395.8 337.7,390.9 327.3,383.7 319.0,376.6 310.7,370.0 302.7,363.0 298.0,355.0 298.5,347.0 303.2,340.0 309.5,333.8 316.7,328.2 325.8,323.7 337.4,321.5 350.0,321.9 362.1,323.6 373.9,325.3 386.6,327.1" fill="none" stroke="#8a6030" stroke-opacity="0.36" stroke-width="0.88"/><polyline points="394.8,392.6 381.4,393.5 368.4,394.3 354.7,394.7 340.3,392.8 327.5,387.9 317.5,380.9 309.6,373.6 302.5,366.2 296.9,358.4 295.3,350.2 299.0,342.7 306.2,336.8 314.0,331.8 321.4,326.9 329.8,322.1 340.7,318.9 353.4,318.6 366.2,320.8 378.0,324.2 389.5,327.8" fill="none" stroke="#8a6030" stroke-opacity="0.32" stroke-width="0.71"/><polyline points="387.5,400.8 372.1,400.4 357.2,396.8 344.0,392.4 331.5,388.3 319.0,383.8 307.8,377.7 300.2,370.0 296.7,361.7 295.5,353.6 295.4,345.7 296.9,337.9 302.2,331.1 311.6,326.2 323.3,323.6 335.0,322.3 346.0,320.8 357.6,319.1 370.5,318.7 383.7,320.9 395.4,325.9" fill="none" stroke="#8a6030" stroke-opacity="0.57" stroke-width="0.84"/><polyline points="390.2,401.9 375.1,402.7 359.8,399.9 346.0,395.6 333.2,391.2 320.8,386.5 309.7,380.4 301.8,372.9 297.6,364.8 295.5,356.8 294.0,349.0 293.5,341.0 296.1,333.3 303.3,327.1 314.5,323.3 326.8,321.7 338.5,320.7 349.7,319.5 361.5,318.4 374.4,318.8 387.1,321.7" fill="none" stroke="#8a6030" stroke-opacity="0.42" stroke-width="0.79"/><polyline points="390.9,397.8 378.1,398.8 365.0,400.0 350.8,400.7 335.6,399.5 321.5,394.9 310.9,387.4 304.4,378.8 300.4,370.5 296.8,362.9 293.1,355.5 290.9,347.8 292.1,340.3 297.0,333.6 304.4,328.1 312.7,323.4 321.6,319.0 331.9,315.5 343.9,313.8 356.8,314.8 369.1,317.9 380.0,322.1 390.4,326.0" fill="none" stroke="#e6c088" stroke-opacity="0.37" stroke-width="0.63"/><polyline points="392.9,398.3 381.2,401.6 367.9,403.7 353.3,403.3 339.2,399.8 326.7,394.3 315.9,388.0 305.9,381.6 296.7,374.7 289.7,367.1 286.6,358.8 288.0,350.9 292.3,343.8 297.2,337.5 301.6,331.3 306.6,325.0 313.6,319.3 323.6,315.4 335.8,313.9 348.5,314.5 360.8,316.2 372.7,318.0 384.7,320.2 396.7,323.4" fill="none" stroke="#8a6030" stroke-opacity="0.32" stroke-width="0.69"/><polyline points="398.6,403.5 384.0,403.3 370.0,402.3 356.4,401.2 342.6,399.8 328.8,396.9 316.3,391.8 306.4,384.9 299.1,377.3 293.2,369.6 287.9,362.0 283.8,354.0 282.6,345.9 285.8,338.4 293.1,332.3 302.5,327.7 312.0,324.1 320.9,320.4 329.9,316.6 340.1,313.4 352.1,311.9 364.8,312.8 377.1,315.7 388.5,319.8" fill="none" stroke="#8a6030" stroke-opacity="0.29" stroke-width="0.89"/><polyline points="394.8,398.7 382.3,399.9 369.9,402.0 356.1,404.2 340.6,404.8 324.9,401.9 311.7,395.5 302.6,387.0 296.8,378.1 292.7,369.7 289.3,361.9 287.0,354.1 287.2,346.5 290.2,339.4 295.5,333.1 301.6,327.3 308.2,321.6 315.9,316.0 325.8,311.5 338.2,309.3 351.7,310.2 364.7,313.5 376.2,318.0 386.6,322.3" fill="none" stroke="#e6c088" stroke-opacity="0.26" stroke-width="0.76"/><polyline points="386.3,404.1 372.7,404.4 358.9,404.8 344.1,404.6 328.8,402.6 314.8,397.6 304.1,390.1 297.4,381.3 293.6,372.7 290.5,364.8 287.2,357.2 284.4,349.5 283.9,341.7 287.0,334.4 293.5,328.2 302.0,323.3 311.2,319.1 320.8,315.2 331.4,312.0 343.2,310.2 356.0,310.6 368.6,313.2 380.1,317.2 390.6,321.6" fill="none" stroke="#8a6030" stroke-opacity="0.58" stroke-width="0.68"/><polyline points="388.8,405.3 375.1,405.5 361.5,404.9 347.5,404.0 332.8,402.7 317.5,399.9 303.6,394.6 293.4,386.8 288.2,377.6 287.1,368.4 287.9,360.3 288.4,352.9 288.0,345.8 287.8,338.4 289.7,331.1 294.9,324.6 303.0,319.4 313.0,315.6 323.8,312.7 335.2,310.5 347.3,309.2 360.1,309.6 372.7,312.1 384.1,316.4 393.9,321.7" fill="none" stroke="#8a6030" stroke-opacity="0.31" stroke-width="0.63"/><polyline points="348.6,412.7 334.4,406.7 322.9,399.1 313.5,391.6 304.9,384.8 296.4,378.2 288.6,371.3 282.9,363.8 280.1,355.9 280.0,348.1 281.8,340.7 284.5,333.5 288.5,326.4 294.5,320.0 303.4,314.9 314.9,312.0 327.9,311.4 340.7,312.5 352.5,314.2 363.6,315.3 375.1,315.8 387.6,316.5" fill="none" stroke="#8a6030" stroke-opacity="0.40" stroke-width="0.60"/><polyline points="355.1,410.8 340.9,408.1 327.0,404.6 313.4,400.3 300.9,394.6 291.0,387.3 284.9,378.8 282.7,370.1 282.9,362.0 283.7,354.6 283.7,347.6 283.0,340.4 282.9,332.8 285.4,325.4 291.4,319.0 300.7,314.4 312.0,311.6 324.0,310.2 335.9,309.5 347.6,309.2 359.4,309.4 371.4,310.6 383.2,313.1 394.1,317.1" fill="none" stroke="#e6c088" stroke-opacity="0.44" stroke-width="0.55"/><polyline points="357.8,411.5 343.7,409.5 329.9,406.1 317.5,400.9 307.3,394.2 299.2,386.9 292.4,379.6 285.7,372.6 278.8,365.4 272.5,357.8 268.4,349.6 268.4,341.3 272.8,334.0 280.9,328.0 290.9,323.6 301.1,320.2 310.6,317.0 319.7,313.7 329.1,310.6 339.6,308.3 351.2,307.3 363.2,307.9 375.2,309.9 386.9,312.8" fill="none" stroke="#e6c088" stroke-opacity="0.29" stroke-width="0.65"/><polyline points="346.4,410.7 333.9,405.5 322.1,400.5 310.3,395.9 298.5,390.8 287.6,384.7 279.1,377.4 273.9,369.3 272.0,361.1 272.4,353.1 273.9,345.6 275.8,338.4 278.5,331.3 283.0,324.6 289.8,318.9 299.2,314.6 310.2,312.0 321.9,310.8 333.2,310.1 344.1,309.4 355.2,308.5 367.0,307.8 379.5,308.1 392.3,310.2" fill="none" stroke="#8a6030" stroke-opacity="0.33" stroke-width="0.82"/><polyline points="333.8,412.6 320.1,408.1 308.4,401.6 299.4,394.0 292.5,386.1 286.5,378.6 280.5,371.3 274.4,364.0 269.1,356.3 266.3,348.3 267.1,340.4 271.6,333.3 278.9,327.4 287.6,322.5 296.5,318.3 305.3,314.4 314.2,310.6 323.9,307.4 334.8,305.2 346.6,304.6 358.7,305.6 370.6,307.9 381.9,310.8 393.1,313.9" fill="none" stroke="#e6c088" stroke-opacity="0.58" stroke-width="0.52"/><polyline points="337.2,412.9 322.8,410.1 309.7,405.1 298.5,398.5 289.4,391.1 281.7,383.4 275.0,375.7 269.2,367.8 265.0,359.7 263.6,351.5 265.5,343.7 270.7,336.8 278.1,331.0 286.2,326.1 293.9,321.6 301.1,317.0 308.1,312.1 316.2,307.3 325.9,303.4 337.4,301.1 349.9,300.9 362.6,302.6 374.7,305.7 386.1,309.4" fill="none" stroke="#8a6030" stroke-opacity="0.27" stroke-width="0.51"/><polyline points="324.8,413.1 310.2,409.5 297.2,403.6 286.8,396.2 278.7,388.0 272.4,379.7 267.4,371.4 263.9,363.1 262.4,354.9 263.6,347.0 267.7,339.8 274.1,333.6 281.7,328.3 289.2,323.6 296.1,318.9 302.6,313.8 309.5,308.4 317.9,303.4 328.3,299.5 340.6,297.7" fill="none" stroke="#8a6030" stroke-opacity="0.26" stroke-width="0.88"/><polyline points="340.6,297.7 353.7,298.2 366.7,300.8 378.7,304.8 389.7,309.4" fill="none" stroke="#8a6030" stroke-opacity="0.26" stroke-width="0.88"/><polyline points="332.4,412.7 321.0,406.9 310.6,401.1 300.4,395.5 289.7,390.2 278.3,384.6 267.2,378.1 257.8,370.6 252.1,362.1 250.8,353.3 254.1,345.1 260.7,337.9 269.0,331.9 277.5,326.9 285.4,322.2 292.7,317.7 300.0,313.2 308.0,309.1 317.2,305.7 327.4,303.3 338.5,302.0 350.0,301.7 361.8,301.9 373.9,302.5 386.5,303.8" fill="none" stroke="#e6c088" stroke-opacity="0.34" stroke-width="0.52"/><polyline points="305.5,410.3 291.5,405.6 278.9,399.4 269.1,391.6 263.1,382.6 261.1,373.4 262.1,364.7 264.7,356.7 267.4,349.5 269.3,342.7 270.5,335.8 271.8,328.8 274.5,321.8 279.3,315.4 286.6,309.9 296.0,305.8 306.8,302.9 318.2,301.0 329.8,299.8 341.6,299.1 353.5,298.8 365.7,299.4 378.0,301.2 389.8,304.3" fill="none" stroke="#e6c088" stroke-opacity="0.34" stroke-width="0.91"/><polyline points="325.7,410.7 312.1,408.2 297.8,405.1 284.0,400.5 271.9,394.2 262.7,386.4 257.0,377.7 254.3,368.8 253.8,360.2 254.6,352.1 256.4,344.3 259.1,337.0 263.1,330.1 269.0,323.9 276.6,318.7 285.8,314.6 295.6,311.4 305.6,308.8 315.2,306.2 324.7,303.5 334.5,300.4 345.2,297.6" fill="none" stroke="#e6c088" stroke-opacity="0.42" stroke-width="0.55"/><polyline points="311.3,414.0 298.1,409.2 285.5,403.6 274.7,396.7 266.6,388.7 261.7,380.0 259.7,371.4 259.7,363.1 260.6,355.4 261.5,348.1 261.9,340.9 262.4,333.6 264.0,326.3 267.4,319.3 273.4,313.0 281.9,308.1 292.3,304.5 303.7,302.3 315.4,301.0 326.9,300.1 338.1,299.4 349.5,298.8 361.2,298.6 373.2,299.2 385.3,301.1" fill="none" stroke="#8a6030" stroke-opacity="0.31" stroke-width="0.86"/><polyline points="288.1,410.2 277.9,402.8 269.8,394.6 263.4,386.4 258.2,378.2 254.0,370.0 251.1,361.9 249.9,353.9 250.9,346.2 254.4,339.0 260.1,332.6 267.2,327.1 274.8,322.3 282.3,317.8 289.2,313.3 295.8,308.5 302.7,303.5 310.8,298.6 320.3,294.6" fill="none" stroke="#e6c088" stroke-opacity="0.56" stroke-width="0.58"/><polyline points="368.9,295.0 380.6,298.8 391.3,303.1" fill="none" stroke="#e6c088" stroke-opacity="0.56" stroke-width="0.58"/><polyline points="291.4,412.0 279.7,405.6 270.5,398.0 264.1,389.6 260.4,380.9 258.7,372.5 257.9,364.6 257.1,357.1 256.1,349.8 254.9,342.4 254.4,334.9 255.5,327.5 258.9,320.5 265.0,314.3 273.4,309.3 283.4,305.6 294.3,302.9 305.4,301.0 316.2,299.4 326.9,297.9" fill="none" stroke="#8a6030" stroke-opacity="0.43" stroke-width="0.78"/><polyline points="372.4,296.4 384.2,298.6 395.4,302.0" fill="none" stroke="#8a6030" stroke-opacity="0.43" stroke-width="0.78"/><polyline points="306.5,415.0 293.9,410.0 281.3,404.7 269.1,398.7 257.7,391.8 248.3,384.0 242.0,375.2" fill="none" stroke="#8a6030" stroke-opacity="0.33" stroke-width="0.57"/><polyline points="241.3,357.3 246.2,349.2 253.1,342.2 260.5,336.1 267.4,330.7 273.1,325.4 277.8,319.8 282.2,314.0 287.3,308.1 293.9,302.5 302.2,297.9" fill="none" stroke="#8a6030" stroke-opacity="0.33" stroke-width="0.57"/><polyline points="301.4,412.0 291.2,405.8 280.9,399.9 270.5,393.9 260.2,387.6 250.7,380.5 243.3,372.7 238.8,364.3" fill="none" stroke="#e6c088" stroke-opacity="0.30" stroke-width="0.89"/><polyline points="240.0,347.7 244.9,340.3 251.3,333.8 258.3,327.9 265.1,322.6 271.5,317.4 277.8,312.3 284.5,307.3 292.1,302.8 300.9,298.9 310.9,296.1" fill="none" stroke="#e6c088" stroke-opacity="0.30" stroke-width="0.89"/><polyline points="288.7,411.7 278.1,405.2 267.8,398.6 258.5,391.5 250.7,383.9 245.2,375.7 242.4,367.3" fill="none" stroke="#8a6030" stroke-opacity="0.43" stroke-width="0.78"/><polyline points="242.4,359.1 244.6,351.2 248.2,344.0 252.3,337.3 256.4,331.0 260.1,324.7 263.9,318.3 268.2,312.0 273.7,306.0 281.0,300.6 290.2,296.4" fill="none" stroke="#8a6030" stroke-opacity="0.43" stroke-width="0.78"/><polyline points="294.6,411.0 285.5,404.3 276.2,398.1 266.4,392.0 256.4,385.7 246.9,378.7 239.0,371.0" fill="none" stroke="#e6c088" stroke-opacity="0.57" stroke-width="0.48"/><polyline points="242.7,331.5 249.6,325.3 256.8,319.7 264.1,314.5 271.5,309.6 279.2,304.9 287.6,300.8 296.9,297.3" fill="none" stroke="#e6c088" stroke-opacity="0.57" stroke-width="0.48"/><polyline points="278.5,412.9 272.4,403.6 268.0,394.6 264.4,386.4 260.5,378.9 255.9,371.8 250.6,364.8 245.0,357.5 240.2,349.9" fill="none" stroke="#8a6030" stroke-opacity="0.25" stroke-width="0.63"/><polyline points="239.1,326.4 244.2,319.6 251.5,313.7 260.2,308.7 269.7,304.5 279.5,300.8 289.4,297.6" fill="none" stroke="#8a6030" stroke-opacity="0.25" stroke-width="0.63"/><polyline points="285.8,411.7 274.9,405.8 264.6,399.5 255.6,392.6 248.3,385.0 243.2,377.0 240.1,368.9" fill="none" stroke="#e6c088" stroke-opacity="0.33" stroke-width="0.71"/><polyline points="240.8,330.6 243.1,323.3 246.8,316.2 252.3,309.8 260.0,304.3 269.7,300.1 280.7,297.2" fill="none" stroke="#e6c088" stroke-opacity="0.33" stroke-width="0.71"/><polyline points="276.9,412.2 265.4,406.3 254.3,400.0 244.2,393.0 236.0,385.2" fill="none" stroke="#8a6030" stroke-opacity="0.36" stroke-width="0.50"/><polyline points="240.8,337.4 246.2,331.2 251.3,325.3 256.0,319.4 260.7,313.6 265.8,307.8 271.9,302.4 279.3,297.5" fill="none" stroke="#8a6030" stroke-opacity="0.36" stroke-width="0.50"/><polyline points="274.0,418.3 265.3,410.2 258.4,401.8 253.0,393.5 248.3,385.5 243.8,377.7 239.2,370.2" fill="none" stroke="#8a6030" stroke-opacity="0.27" stroke-width="0.66"/><polyline points="239.8,318.0 248.1,312.7 257.4,308.3 267.2,304.6 276.8,301.3 286.2,298.2 295.4,295.1" fill="none" stroke="#8a6030" stroke-opacity="0.27" stroke-width="0.66"/><polyline points="258.7,418.1 248.6,410.1 241.2,401.3" fill="none" stroke="#8a6030" stroke-opacity="0.32" stroke-width="0.67"/><polyline points="242.5,322.6 249.3,317.1 257.1,312.3 265.4,308.2 273.8,304.3 282.0,300.6 290.1,296.9" fill="none" stroke="#8a6030" stroke-opacity="0.32" stroke-width="0.67"/><polyline points="271.0,414.4 261.4,407.5 253.3,400.1 246.4,392.5 240.3,384.8" fill="none" stroke="#e6c088" stroke-opacity="0.39" stroke-width="0.61"/><polyline points="233.9,316.0 243.4,311.0 254.1,307.2 265.3,304.2 276.3,302.0 286.7,299.9 296.2,297.8" fill="none" stroke="#e6c088" stroke-opacity="0.39" stroke-width="0.61"/><polyline points="255.4,414.6 245.1,407.2 237.3,399.0" fill="none" stroke="#e6c088" stroke-opacity="0.31" stroke-width="0.70"/><polyline points="241.0,314.2 247.5,308.6 255.5,303.8 264.7,299.9 274.7,296.8" fill="none" stroke="#e6c088" stroke-opacity="0.31" stroke-width="0.70"/><polyline points="264.8,413.0 257.5,405.1 250.9,397.5 244.3,390.1 237.5,382.9" fill="none" stroke="#8a6030" stroke-opacity="0.32" stroke-width="0.49"/><polyline points="234.6,316.1 243.8,311.3 253.3,307.1 262.6,303.4 271.6,299.9 280.3,296.5" fill="none" stroke="#8a6030" stroke-opacity="0.32" stroke-width="0.49"/><polyline points="269.4,413.9 260.0,407.3 250.7,400.8 241.8,394.1" fill="none" stroke="#8a6030" stroke-opacity="0.32" stroke-width="0.91"/><polyline points="238.9,313.5 244.1,307.5 250.2,301.7 257.4,296.4" fill="none" stroke="#8a6030" stroke-opacity="0.32" stroke-width="0.91"/><polyline points="258.6,411.6 248.6,405.2 240.0,398.0" fill="none" stroke="#8a6030" stroke-opacity="0.44" stroke-width="0.47"/><polyline points="260.8,414.1 248.1,408.9 236.1,402.9" fill="none" stroke="#e6c088" stroke-opacity="0.40" stroke-width="0.42"/><polyline points="237.3,313.0 243.6,307.5 250.8,302.5 258.9,298.1 267.9,294.5" fill="none" stroke="#e6c088" stroke-opacity="0.40" stroke-width="0.42"/><polyline points="234.3,307.9 244.5,303.9 255.2,300.8 265.9,298.2 276.1,296.0" fill="none" stroke="#8a6030" stroke-opacity="0.43" stroke-width="0.68"/><polyline points="234.9,312.1 244.3,308.0 253.6,304.3 262.6,300.9 271.1,297.6" fill="none" stroke="#8a6030" stroke-opacity="0.26" stroke-width="0.47"/><polyline points="239.2,301.9 249.3,298.3 259.6,295.3" fill="none" stroke="#8a6030" stroke-opacity="0.32" stroke-width="0.79"/></g><g clip-path="url(#cl_bot)"><polygon points="276.4,395.9 276.0,396.1 275.7,396.2 275.3,396.4 274.8,396.3 274.4,396.2 274.1,395.9 273.9,395.7 273.8,395.4 273.9,395.1 274.0,394.9 274.3,394.6 274.8,394.6 275.2,394.6 275.7,394.7 276.1,394.8 276.3,395.1 276.5,395.4 276.5,395.7 276.4,395.9" fill="none" stroke="#e6c088" stroke-opacity="0.37" stroke-width="0.73"/><polygon points="279.0,397.0 278.0,397.6 276.7,397.7 275.5,397.9 274.1,398.0 272.8,397.7 271.9,397.0 271.2,396.2 271.0,395.3 271.5,394.5 272.2,393.8 272.8,393.1 274.0,392.6 275.5,392.8 276.7,393.3 277.8,393.7 278.7,394.4 279.1,395.2 279.2,396.1 279.0,397.0" fill="none" stroke="#e6c088" stroke-opacity="0.26" stroke-width="0.42"/><polygon points="281.4,397.9 280.4,399.3 278.3,400.1 275.8,400.4 273.3,400.2 271.2,399.3 269.9,397.9 268.5,396.7 267.2,395.1 267.5,393.5 269.3,392.3 271.2,391.5 273.3,390.9 275.7,390.9 278.0,391.3 280.4,392.0 282.2,393.3 282.3,395.0 281.7,396.4 281.4,397.9" fill="none" stroke="#e6c088" stroke-opacity="0.31" stroke-width="0.63"/><polygon points="284.2,399.0 281.9,400.5 279.3,401.7 276.0,402.1 272.8,401.4 269.9,400.4 267.0,399.2 265.0,397.3 265.2,395.1 266.0,393.1 267.3,391.2 269.7,389.9 272.7,389.3 275.9,389.1 279.3,389.4 281.9,390.9 283.3,392.9 284.6,394.8 285.4,397.0 284.2,399.0" fill="none" stroke="#8a6030" stroke-opacity="0.51" stroke-width="0.47"/><polygon points="287.0,400.1 284.3,402.2 280.7,403.8 276.3,404.0 272.2,403.0 268.2,402.0 264.1,400.6 261.9,397.8 262.2,394.9 263.1,392.3 264.9,389.9 268.2,388.4 272.0,387.5 276.2,386.8 280.7,387.4 283.8,389.7 285.7,392.2 287.7,394.6 288.5,397.4 287.0,400.1" fill="none" stroke="#8a6030" stroke-opacity="0.35" stroke-width="0.85"/><polygon points="289.1,400.9 284.9,402.6 280.8,404.0 276.5,405.8 271.0,406.1 266.3,403.9 263.2,401.0 261.0,398.0 260.5,394.9 261.4,391.9 262.7,388.7 265.8,386.0 271.2,385.4 276.2,386.5 280.6,387.5 285.4,388.7 289.0,391.2 290.8,394.4 291.2,397.8 289.1,400.9" fill="none" stroke="#8a6030" stroke-opacity="0.56" stroke-width="0.57"/><polygon points="291.5,401.8 289.1,405.8 283.4,407.8 276.7,407.1 271.0,405.9 265.2,404.9 260.0,402.5 257.1,398.7 255.8,394.7 257.0,390.7 261.3,388.0 266.2,386.3 270.7,384.2 276.7,382.8 282.9,384.3 287.3,387.4 290.8,390.6 292.7,394.3 292.5,398.0 291.5,401.8" fill="none" stroke="#8a6030" stroke-opacity="0.56" stroke-width="0.54"/><polygon points="293.7,402.7 289.7,406.2 284.2,409.0 277.0,409.5 270.0,408.5 263.0,407.0 257.1,403.8 255.1,399.1 254.9,394.6 255.0,390.2 257.8,386.1 263.6,383.7 270.0,382.3 276.8,381.7 283.6,383.2 288.7,386.5 293.3,389.9 297.3,394.0 297.2,398.7 293.7,402.7" fill="none" stroke="#e6c088" stroke-opacity="0.53" stroke-width="0.49"/><polygon points="296.3,403.7 291.2,407.3 284.7,409.7 277.3,411.5 269.2,410.7 262.8,407.2 257.6,403.6 252.6,399.5 250.9,394.5 253.4,389.8 257.1,385.7 262.3,382.3 269.5,381.1 276.8,381.7 284.2,382.4 291.6,384.6 295.8,389.1 297.0,394.0 297.8,398.8 296.3,403.7" fill="none" stroke="#8a6030" stroke-opacity="0.40" stroke-width="0.69"/><polygon points="297.2,404.0 291.8,407.8 286.2,412.0 277.7,414.1 268.4,412.6 260.4,409.5 253.9,405.3 251.1,399.8 250.7,394.5 250.1,388.9 252.6,383.3 260.3,380.3 269.0,379.9 277.0,379.8 285.3,380.8 292.4,384.0 298.3,388.3 302.9,393.6 302.6,399.5 297.2,404.0" fill="none" stroke="#8a6030" stroke-opacity="0.32" stroke-width="0.90"/><polyline points="305.7,393.4 302.9,399.6 299.5,404.9 299.5,404.9 295.9,410.8 288.2,414.9 277.9,415.5 267.7,414.4 258.4,411.4 252.4,406.0 249.1,400.2 245.5,394.2 245.0,387.6 251.2,382.5 259.9,379.9 268.2,377.9 277.4,377.2 286.4,379.2 294.7,382.5 302.5,387.0 305.7,393.4" fill="none" stroke="#8a6030" stroke-opacity="0.47" stroke-width="0.68"/><polyline points="306.8,400.2 301.7,405.8 301.7,405.8 296.4,411.1 288.4,415.3 278.0,416.2 267.3,415.4 256.7,413.0 249.4,407.4 247.2,400.5 245.7,394.3 244.9,387.5 249.6,381.6 258.3,378.3 267.6,376.3 277.5,375.8 286.9,378.5 294.7,382.5 302.8,386.9 308.4,393.2" fill="none" stroke="#e6c088" stroke-opacity="0.54" stroke-width="0.83"/><polyline points="306.1,400.0 301.7,405.8 301.7,405.8 297.7,412.1 289.5,416.9 278.2,418.1 266.7,417.1 256.2,413.5 250.1,407.0 247.0,400.5 242.7,394.1 241.6,386.7 248.1,380.9 258.0,377.9 267.5,376.0 277.5,375.7 287.3,377.9 296.8,381.1 306.0,385.9" fill="none" stroke="#8a6030" stroke-opacity="0.42" stroke-width="0.68"/><polyline points="306.7,407.7 300.4,414.1 290.2,418.0 278.4,419.7 266.6,417.3 257.8,412.0 249.7,407.2 240.4,401.7 237.0,393.9 242.1,386.8 249.5,381.6 257.4,377.4 267.1,375.2 277.6,374.8 289.1,375.2 300.2,378.8 305.4,386.1" fill="none" stroke="#8a6030" stroke-opacity="0.58" stroke-width="0.46"/><polyline points="307.3,408.0 302.3,415.4 291.3,419.6 278.5,420.3 265.7,419.6 253.8,415.8 246.4,408.8 241.5,401.5 236.8,393.9 238.0,385.7 246.3,379.9 256.1,376.0 266.2,372.7" fill="none" stroke="#8a6030" stroke-opacity="0.38" stroke-width="0.57"/><polyline points="277.9,372.4 289.1,375.2 299.8,379.1 309.3,384.9" fill="none" stroke="#8a6030" stroke-opacity="0.38" stroke-width="0.57"/><polyline points="307.5,408.0 301.7,415.1 292.6,421.5 278.8,422.7 265.6,419.8 253.6,416.0 243.8,410.0 239.3,401.9 237.5,393.9 237.0,385.5 243.2,378.2 254.9,374.8 266.3,373.2" fill="none" stroke="#8a6030" stroke-opacity="0.41" stroke-width="0.71"/><polyline points="278.0,371.7 290.4,373.4 300.6,378.6 309.1,385.0" fill="none" stroke="#8a6030" stroke-opacity="0.41" stroke-width="0.71"/><polyline points="307.7,419.5 292.4,421.3 278.6,421.4 264.9,421.5 251.3,418.2 240.4,411.5 232.2,403.2 230.3,393.6 237.5,385.6 246.3,379.9 253.4,373.3 264.3,367.9" fill="none" stroke="#8a6030" stroke-opacity="0.45" stroke-width="0.91"/><polyline points="291.4,371.9 302.5,377.3 310.1,384.7" fill="none" stroke="#8a6030" stroke-opacity="0.45" stroke-width="0.91"/><polyline points="263.9,424.1 252.4,417.1 240.9,411.3 231.2,403.4 229.1,393.6 232.6,384.3 239.5,376.2 251.6,371.5" fill="none" stroke="#e6c088" stroke-opacity="0.33" stroke-width="0.85"/><polyline points="254.6,424.4 244.5,416.8 235.8,409.5 227.7,401.4 225.8,391.9 231.2,383.5 238.8,376.4 247.8,370.1" fill="none" stroke="#8a6030" stroke-opacity="0.44" stroke-width="0.71"/><polyline points="256.0,428.6 242.5,422.6 232.7,414.4 225.6,405.5 223.9,395.9 228.6,387.2 235.2,379.9 240.9,372.3" fill="none" stroke="#e6c088" stroke-opacity="0.53" stroke-width="0.82"/><polyline points="244.1,426.1 232.2,418.7 226.9,408.9 224.8,399.5 223.4,390.5 225.7,381.5 233.7,374.2 244.4,369.1" fill="none" stroke="#e6c088" stroke-opacity="0.57" stroke-width="0.79"/><polyline points="248.1,426.8 235.6,420.9 227.7,412.3 224.5,403.1 222.3,394.2 220.9,384.9 224.7,375.9 235.2,369.6" fill="none" stroke="#8a6030" stroke-opacity="0.24" stroke-width="0.54"/><polyline points="237.9,423.5 226.0,416.8 217.3,408.2 215.9,398.1 221.7,389.2 229.2,382.1 234.7,375.2 240.4,367.5" fill="none" stroke="#e6c088" stroke-opacity="0.28" stroke-width="0.80"/><polyline points="243.2,423.4 231.0,418.3 220.6,411.2 215.5,402.0 215.5,392.5 218.2,383.6 223.4,375.3 232.5,368.9" fill="none" stroke="#e6c088" stroke-opacity="0.56" stroke-width="0.72"/><polyline points="228.2,423.8 223.7,413.8 222.0,404.6 219.4,396.3 217.3,387.6 219.1,378.8 226.1,371.3" fill="none" stroke="#8a6030" stroke-opacity="0.58" stroke-width="0.68"/><polyline points="230.1,426.9 221.7,418.3 215.3,409.4 212.5,400.1" fill="none" stroke="#8a6030" stroke-opacity="0.55" stroke-width="0.55"/><polyline points="212.5,400.1 214.3,391.1 219.3,383.2 224.5,375.8 229.6,367.9" fill="none" stroke="#8a6030" stroke-opacity="0.55" stroke-width="0.55"/><polyline points="232.1,429.8 220.3,422.8 213.4,413.6" fill="none" stroke="#8a6030" stroke-opacity="0.30" stroke-width="0.61"/><polyline points="210.1,385.6 215.8,377.4 225.3,371.3" fill="none" stroke="#8a6030" stroke-opacity="0.30" stroke-width="0.61"/><polyline points="223.6,425.1 214.9,416.9 211.0,407.6" fill="none" stroke="#8a6030" stroke-opacity="0.42" stroke-width="0.64"/></g><line x1="457.51" y1="429.48" x2="426.11" y2="553.26" stroke="#3c3c3c" stroke-width="0.8"/><polygon points="250.5,246.8 321.3,268.1 199.9,391.2 119.1,358.6" fill="none" stroke="#3c3c3c" stroke-width="0.8" stroke-linejoin="round"/><polygon points="313.9,276.3 336.2,283.2 237.3,389.6 212.2,379.6" fill="none" stroke="#3e2a14" stroke-width="0.8" stroke-linejoin="round"/><polygon points="336.2,272.6 424.1,299.1 394.4,339.3 373.2,332.3 384.6,317.9 362.8,311.0 350.9,325.2 331.5,318.9 343.8,304.9 322.4,298.1 336.2,283.2 328.4,280.8" fill="none" stroke="#3e2a14" stroke-width="0.8" stroke-linejoin="round"/><polygon points="320.6,300.0 342.0,306.9 330.1,320.5 349.5,326.9 361.1,313.0 382.9,320.0 313.7,408.2 289.5,398.8 305.1,380.1 284.0,372.3 268.0,390.5 244.8,381.5" fill="none" stroke="#3e2a14" stroke-width="0.8" stroke-linejoin="round"/><polygon points="228.4,386.1 237.3,389.6 242.8,383.7 266.0,392.8 281.5,375.2 302.6,383.1 270.9,421.1 216.3,398.9" fill="none" stroke="#3e2a14" stroke-width="0.8" stroke-linejoin="round"/><polygon points="376.5,337.0 488.7,374.2 487.9,374.3 486.9,374.3 485.7,374.4 484.4,374.6 483.0,374.9 481.7,375.4 480.3,376.1 478.7,377.1 477.1,378.2 475.5,379.3 474.1,380.5 473.0,381.7 472.1,382.9 471.5,384.1 471.0,385.3 470.7,386.6 470.5,387.9 470.5,389.3 470.7,390.8 471.1,392.3 471.7,394.0 472.4,395.6 473.1,397.4 473.7,399.1 474.3,400.9 475.0,402.7 475.7,404.5 476.3,406.4 476.7,408.3 476.9,410.2 476.8,412.2 476.5,414.3 476.1,416.4 475.5,418.4 474.7,420.3 473.8,421.9 472.7,423.2 471.3,424.4 469.7,425.4 468.1,426.2 466.5,427.0 465.0,427.6 463.6,428.2 462.1,428.6 460.7,428.9 459.4,429.1 458.3,429.3 457.5,429.5 338.8,385.8" fill="none" stroke="#3c3c3c" stroke-width="0.8" stroke-linejoin="round"/>
</svg>
</body></html>
